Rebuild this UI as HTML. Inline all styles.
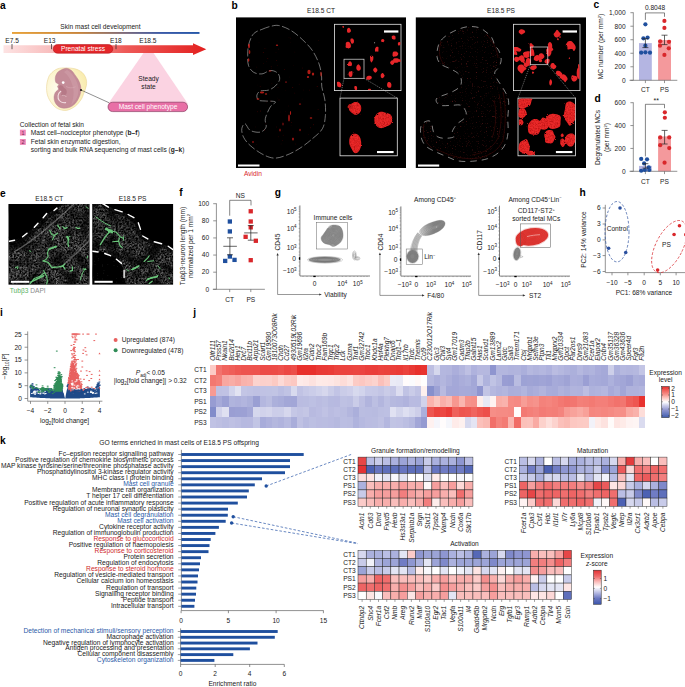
<!DOCTYPE html>
<html><head><meta charset="utf-8"><title>Figure</title>
<style>
html,body{margin:0;padding:0;background:#fff;}
body{width:685px;height:687px;overflow:hidden;font-family:"Liberation Sans", sans-serif;}
svg{display:block;font-family:"Liberation Sans", sans-serif;}
svg text{font-family:"Liberation Sans", sans-serif;}
</style></head><body>
<svg width="685" height="687" viewBox="0 0 685 687">
<rect width="685" height="687" fill="#fff"/>
<g id="panel_a">
<defs>
<linearGradient id="gTop" x1="0" x2="1"><stop offset="0" stop-color="#e8a23a"/><stop offset="0.35" stop-color="#c9853a"/><stop offset="0.6" stop-color="#7d6a7a"/><stop offset="0.8" stop-color="#3a5aa8"/><stop offset="1" stop-color="#2457a8"/></linearGradient>
<linearGradient id="gArr" x1="0" x2="1"><stop offset="0" stop-color="#fde3e3"/><stop offset="0.3" stop-color="#f7b3b3"/><stop offset="0.6" stop-color="#ee5a58"/><stop offset="1" stop-color="#e3201f"/></linearGradient>
</defs>
<text x="0" y="8.5" font-size="10.2" font-weight="bold" fill="#000">a</text>
<text x="100.5" y="28.6" font-size="6.6" text-anchor="middle" fill="#1a1a1a">Skin mast cell development</text>
<rect x="12.00" y="32.00" width="187.50" height="1.90" fill="url(#gTop)"/>
<path d="M3.5,45.2 L193,45.2 L193,43.3 L206.3,49.2 L193,55 L193,53 L3.5,53 Z" fill="url(#gArr)"/>
<line x1="12" y1="44" x2="12" y2="49.2" stroke="#222" stroke-width="0.7"/>
<line x1="51.5" y1="44" x2="51.5" y2="49.2" stroke="#222" stroke-width="0.7"/>
<line x1="116" y1="44" x2="116" y2="49.2" stroke="#222" stroke-width="0.7"/>
<text x="5.3" y="43" font-size="6.6" fill="#1a1a1a">E7.5</text>
<text x="43.8" y="43" font-size="6.6" fill="#1a1a1a">E13</text>
<text x="110" y="43" font-size="6.6" fill="#1a1a1a">E18</text>
<text x="139.3" y="43" font-size="6.6" fill="#1a1a1a">E18.5</text>
<rect x="53.2" y="44.6" width="59.6" height="8.6" rx="4.3" fill="#e3262a" stroke="#b3141a" stroke-width="0.6"/>
<text x="83" y="51" font-size="6.6" text-anchor="middle" fill="#fff">Prenatal stress</text>
<path d="M143.5,53 L153.5,53 L188,104 L108,104 Z" fill="#fbd3e2"/>
<text x="148.5" y="80.8" font-size="6.6" text-anchor="middle" fill="#1a1a1a">Steady</text>
<text x="148.5" y="89" font-size="6.6" text-anchor="middle" fill="#1a1a1a">state</text>
<rect x="108" y="102.2" width="79.6" height="9.4" rx="4.7" fill="#e86fa6" stroke="#7a2a52" stroke-width="0.6"/>
<text x="148" y="109.2" font-size="6.6" text-anchor="middle" fill="#fff">Mast cell phenotype</text>
<defs><radialGradient id="gYolk" cx="0.3" cy="0.5" r="0.7"><stop offset="0" stop-color="#fffdf0"/><stop offset="0.6" stop-color="#fcf4cc"/><stop offset="1" stop-color="#f9ecb0"/></radialGradient></defs>
<path d="M50.5,74.0C52.1,72.2 54.9,69.8 57.5,68.8C60.1,67.8 63.4,67.9 66.3,67.9C69.2,67.9 72.4,68.1 75.0,68.8C77.6,69.5 80.2,70.7 82.0,72.3C83.8,73.9 85.3,76.2 86.0,78.4C86.7,80.6 86.8,82.9 86.4,85.4C86.0,87.9 84.7,91.0 83.8,93.3C82.9,95.6 82.7,97.2 81.2,99.4C79.7,101.6 77.5,104.6 75.0,106.4C72.5,108.2 69.2,110.0 66.3,110.4C63.4,110.8 60.0,109.8 57.5,108.6C55.0,107.3 53.1,105.2 51.4,102.9C49.7,100.6 48.2,97.8 47.4,95.0C46.6,92.2 46.5,88.9 46.6,86.3C46.7,83.7 47.2,81.3 47.9,79.3C48.5,77.2 48.9,75.8 50.5,74.0Z" fill="url(#gYolk)" stroke="#e6cf8a" stroke-width="0.5"/>
<path d="M60.1,70.5C61.6,69.7 64.4,68.3 66.3,68.3C68.2,68.3 70.0,69.4 71.5,70.5C73.0,71.6 73.8,73.3 75.0,74.9C76.2,76.5 77.5,78.2 78.5,80.1C79.5,82.0 80.3,84.2 80.7,86.3C81.1,88.3 81.1,90.4 80.7,92.4C80.3,94.4 79.5,96.6 78.5,98.5C77.5,100.4 76.5,102.3 75.0,103.8C73.5,105.3 71.7,106.6 69.8,107.3C67.9,108.0 65.5,108.3 63.6,108.2C61.7,108.1 59.9,107.4 58.4,106.4C56.9,105.4 55.6,103.6 54.9,102.0C54.2,100.4 53.9,98.4 54.0,96.8C54.1,95.2 54.6,93.7 55.3,92.4C56.0,91.2 58.0,90.3 58.4,89.3C58.8,88.3 57.4,87.1 57.5,86.3C57.6,85.5 59.1,85.2 58.8,84.5C58.5,83.8 56.4,83.5 55.8,82.3C55.2,81.1 55.1,79.0 55.3,77.5C55.5,76.0 56.3,74.3 57.1,73.1C57.9,71.9 58.6,71.3 60.1,70.5Z" fill="#c48c98" stroke="#b57a88" stroke-width="0.4"/>
<path d="M67,70 C73,73 77,80 78.5,88 C79,95 76,101 71,105 C74,98 74.5,91 72,84 C70.5,79 68,75 64,72Z" fill="#cd9aa5" opacity="0.8"/>
<path d="M59.5,85.5 C61.5,84.5 63.5,86 64,88 C66,88.5 67.5,91 66.5,93.5 C65.5,96 62.5,96.5 61,95 C62,93 61.5,91 59.5,90 C58.5,88.5 58.5,86.5 59.5,85.5Z" fill="#b47584" opacity="0.85"/>
<path d="M66,86.5 C69,88.3 72.5,88.2 75.5,86.8" fill="none" stroke="#d9adb6" stroke-width="0.5"/>
<circle cx="63.20" cy="82.60" r="1.35" fill="#fff"/>
<path d="M60.8,91.3 C57.6,93.5 57.3,98 59.3,100.5 C61,102.6 63.5,103 65.6,102.6" fill="none" stroke="#f3dde1" stroke-width="1.1" stroke-linecap="round"/>
<path d="M61.8,95.5 C63.5,95 65.5,95.5 66.5,97" fill="none" stroke="#e9c9cf" stroke-width="0.6"/>
<line x1="81" y1="90" x2="109.2" y2="102.8" stroke="#222" stroke-width="0.5"/>
<circle cx="81.00" cy="90.00" r="1" fill="#111"/>
<text x="19.8" y="127.1" font-size="6.6" fill="#1a1a1a">Collection of fetal skin</text>
<rect x="19.90" y="129.70" width="5.90" height="5.90" fill="#ee86b7"/>
<text x="22.9" y="134.6" font-size="5.4" text-anchor="middle" fill="#7a2a52">1</text>
<rect x="19.90" y="139.00" width="5.90" height="5.90" fill="#ee86b7"/>
<text x="22.9" y="143.9" font-size="5.4" text-anchor="middle" fill="#7a2a52">2</text>
<text x="30.8" y="135" font-size="6.6" fill="#1a1a1a">Mast cell–nociceptor phenotype (<tspan font-weight="bold">b–f</tspan>)</text>
<text x="30.8" y="143.9" font-size="6.6" fill="#1a1a1a">Fetal skin enzymatic digestion,</text>
<text x="30.8" y="152.2" font-size="6.6" fill="#1a1a1a">sorting and bulk RNA sequencing of mast cells (<tspan font-weight="bold">g–k</tspan>)</text>
</g>
<g id="panel_b">
<defs>
<filter id="rough" x="-20%" y="-20%" width="140%" height="140%"><feTurbulence type="fractalNoise" baseFrequency="0.9" numOctaves="2" seed="3" result="n"/><feDisplacementMap in="SourceGraphic" in2="n" scale="1.8" result="d"/><feGaussianBlur in="d" stdDeviation="0.35"/></filter>
<filter id="grain" x="-20%" y="-20%" width="140%" height="140%"><feTurbulence type="fractalNoise" baseFrequency="0.9" numOctaves="2" seed="3" result="n"/><feDisplacementMap in="SourceGraphic" in2="n" scale="2.2" result="d"/><feGaussianBlur in="d" stdDeviation="0.5" result="b"/><feTurbulence type="fractalNoise" baseFrequency="0.7" numOctaves="2" seed="8" result="n2"/><feColorMatrix in="n2" type="matrix" values="0 0 0 0 0.35  0 0 0 0 0  0 0 0 0 0  0 1.6 0 0 -0.62" result="dk"/><feComposite in="dk" in2="b" operator="in" result="dk2"/><feMerge><feMergeNode in="b"/><feMergeNode in="dk2"/></feMerge></filter>
<filter id="blur03"><feGaussianBlur stdDeviation="0.35"/></filter>
<filter id="rednoise" x="0" y="0" width="100%" height="100%"><feTurbulence type="fractalNoise" baseFrequency="0.8" numOctaves="2" seed="11"/><feColorMatrix type="matrix" values="0 0 0 0 0.7  0 0 0 0 0.04  0 0 0 0 0.04  3 0 0 0 -1.9"/><feComposite in2="SourceGraphic" operator="in"/></filter>
</defs>
<text x="231.5" y="8.5" font-size="10.2" font-weight="bold" fill="#000">b</text>
<text x="321" y="13.4" font-size="6.6" text-anchor="middle" fill="#1a1a1a">E18.5 CT</text>
<text x="501" y="13.4" font-size="6.6" text-anchor="middle" fill="#1a1a1a">E18.5 PS</text>
<rect x="236.00" y="17.40" width="170.00" height="150.60" fill="#000"/>
<rect x="415.80" y="17.40" width="170.20" height="150.60" fill="#000"/>
<path d="M261.9,29.4C264.2,28.5 267.2,27.1 270.0,26.5C272.8,25.9 275.3,24.9 278.7,25.5C282.1,26.1 286.6,27.9 290.5,30.2C294.4,32.5 298.6,36.0 302.2,39.4C305.8,42.8 309.5,46.3 312.3,50.4C315.1,54.5 317.5,59.6 319.0,63.8C320.5,68.0 321.0,71.7 321.5,75.5C322.0,79.3 321.2,82.7 321.8,86.8C322.4,90.9 324.3,95.5 324.9,100.2C325.5,105.0 325.8,110.5 325.4,115.3C325.0,120.0 324.6,124.8 322.4,128.7C320.2,132.6 316.2,135.4 312.3,138.8C308.4,142.2 303.4,146.1 298.9,148.9C294.4,151.7 289.6,154.1 285.4,155.6C281.2,157.1 277.6,158.4 273.7,158.1C269.8,157.8 265.8,156.0 261.9,153.9C258.0,151.8 253.3,148.3 250.2,145.5C247.1,142.7 244.9,139.9 243.5,137.1C242.1,134.3 241.5,130.9 241.8,128.7C242.1,126.5 243.7,123.4 245.1,123.7C246.5,124.0 247.7,129.0 250.2,130.4C252.7,131.8 257.6,132.7 260.3,132.1C263.0,131.5 265.3,129.3 266.1,127.1C266.9,124.9 264.6,122.1 265.3,118.7C266.0,115.3 268.6,109.7 270.3,106.9C272.0,104.1 276.2,102.9 275.4,101.9C274.6,100.9 268.1,101.3 265.3,101.0C262.5,100.7 260.0,101.2 258.6,100.2C257.2,99.2 256.6,96.7 256.9,95.2C257.2,93.7 258.4,91.8 260.3,91.0C262.2,90.2 266.1,90.9 268.6,90.1C271.1,89.2 273.6,87.7 275.4,85.9C277.2,84.1 279.2,81.7 279.6,79.5C280.0,77.3 279.1,74.5 277.5,73.0C275.9,71.5 272.9,70.3 270.3,70.5C267.7,70.7 264.7,73.6 261.9,73.9C259.1,74.2 255.7,73.6 253.5,72.2C251.3,70.8 249.5,68.3 248.5,65.5C247.5,62.7 247.7,58.8 247.7,55.4C247.7,52.0 247.8,48.5 248.5,45.3C249.2,42.1 250.7,38.3 251.9,36.1C253.2,33.9 254.3,33.0 256.0,31.9C257.7,30.8 259.6,30.3 261.9,29.4Z" fill="none" stroke="#c4c4c4" stroke-width="0.6" stroke-dasharray="8 2.5" opacity="0.95"/>
<g filter="url(#blur03)"><ellipse cx="249" cy="46" rx="1" ry="2.2" fill="#d8201c" opacity="0.8"/><ellipse cx="249.5" cy="52" rx="0.8" ry="2" fill="#d8201c" opacity="0.8"/><ellipse cx="248.6" cy="60" rx="0.8" ry="1.8" fill="#d8201c" opacity="0.8"/><ellipse cx="277" cy="45.3" rx="1.2" ry="0.8" fill="#d8201c" opacity="0.8"/><ellipse cx="309" cy="72" rx="1.6" ry="2.2" fill="#d8201c" opacity="0.8"/><ellipse cx="313" cy="74" rx="1.2" ry="1.6" fill="#d8201c" opacity="0.8"/><ellipse cx="308" cy="77" rx="1.2" ry="1" fill="#d8201c" opacity="0.8"/><ellipse cx="321" cy="74" rx="0.7" ry="2.5" fill="#d8201c" opacity="0.8"/><ellipse cx="262" cy="92.5" rx="2.2" ry="0.9" fill="#d8201c" opacity="0.8"/><ellipse cx="266" cy="94" rx="1.2" ry="0.8" fill="#d8201c" opacity="0.8"/><ellipse cx="258" cy="99" rx="1.5" ry="0.8" fill="#d8201c" opacity="0.8"/><ellipse cx="289" cy="118" rx="0.8" ry="3.5" fill="#d8201c" opacity="0.8"/><ellipse cx="290.5" cy="113" rx="0.6" ry="2" fill="#d8201c" opacity="0.8"/><ellipse cx="293" cy="139" rx="0.9" ry="1.6" fill="#d8201c" opacity="0.8"/><ellipse cx="280" cy="130" rx="0.6" ry="1.5" fill="#d8201c" opacity="0.8"/><ellipse cx="300" cy="104" rx="1.2" ry="0.6" fill="#d8201c" opacity="0.8"/><ellipse cx="311" cy="118" rx="1.3" ry="0.7" fill="#d8201c" opacity="0.8"/><ellipse cx="253" cy="142" rx="1" ry="0.8" fill="#d8201c" opacity="0.8"/><ellipse cx="286" cy="82" rx="1" ry="0.6" fill="#d8201c" opacity="0.8"/><ellipse cx="270" cy="71" rx="1.5" ry="0.6" fill="#d8201c" opacity="0.8"/><ellipse cx="300" cy="130" rx="0.6" ry="1.2" fill="#d8201c" opacity="0.8"/><ellipse cx="283" cy="124" rx="0.5" ry="1.5" fill="#d8201c" opacity="0.8"/><circle cx="276.0" cy="52.3" r="0.41" fill="#a01512" opacity="0.28"/><circle cx="289.8" cy="77.1" r="0.26" fill="#a01512" opacity="0.43"/><circle cx="257.4" cy="84.9" r="0.27" fill="#a01512" opacity="0.28"/><circle cx="282.6" cy="130.1" r="0.28" fill="#a01512" opacity="0.33"/><circle cx="295.8" cy="144.0" r="0.39" fill="#a01512" opacity="0.39"/><circle cx="318.5" cy="40.4" r="0.46" fill="#a01512" opacity="0.35"/><circle cx="264.4" cy="48.5" r="0.33" fill="#a01512" opacity="0.54"/><circle cx="266.7" cy="101.9" r="0.41" fill="#a01512" opacity="0.38"/><circle cx="290.6" cy="42.2" r="0.26" fill="#a01512" opacity="0.32"/><circle cx="299.2" cy="84.2" r="0.33" fill="#a01512" opacity="0.45"/><circle cx="284.5" cy="69.5" r="0.45" fill="#a01512" opacity="0.49"/><circle cx="270.9" cy="101.1" r="0.38" fill="#a01512" opacity="0.56"/><circle cx="302.4" cy="68.1" r="0.50" fill="#a01512" opacity="0.29"/><circle cx="282.2" cy="122.1" r="0.29" fill="#a01512" opacity="0.42"/><circle cx="257.5" cy="111.8" r="0.44" fill="#a01512" opacity="0.45"/><circle cx="311.9" cy="71.1" r="0.42" fill="#a01512" opacity="0.46"/><circle cx="292.7" cy="87.5" r="0.46" fill="#a01512" opacity="0.58"/><circle cx="285.8" cy="111.4" r="0.27" fill="#a01512" opacity="0.50"/><circle cx="297.1" cy="149.2" r="0.46" fill="#a01512" opacity="0.35"/><circle cx="280.1" cy="111.9" r="0.26" fill="#a01512" opacity="0.41"/><circle cx="265.9" cy="48.5" r="0.26" fill="#a01512" opacity="0.52"/><circle cx="263.4" cy="63.5" r="0.35" fill="#a01512" opacity="0.55"/><circle cx="260.2" cy="86.7" r="0.39" fill="#a01512" opacity="0.56"/><circle cx="308.3" cy="134.4" r="0.32" fill="#a01512" opacity="0.40"/><circle cx="278.3" cy="136.7" r="0.49" fill="#a01512" opacity="0.30"/><circle cx="266.5" cy="61.7" r="0.31" fill="#a01512" opacity="0.42"/><circle cx="293.3" cy="65.2" r="0.25" fill="#a01512" opacity="0.40"/><circle cx="279.0" cy="100.1" r="0.49" fill="#a01512" opacity="0.49"/><circle cx="288.5" cy="106.0" r="0.42" fill="#a01512" opacity="0.27"/><circle cx="313.5" cy="124.7" r="0.47" fill="#a01512" opacity="0.53"/><circle cx="280.5" cy="80.9" r="0.28" fill="#a01512" opacity="0.47"/><circle cx="259.0" cy="42.7" r="0.30" fill="#a01512" opacity="0.31"/><circle cx="277.1" cy="41.0" r="0.25" fill="#a01512" opacity="0.30"/><circle cx="261.6" cy="76.8" r="0.26" fill="#a01512" opacity="0.56"/><circle cx="294.9" cy="52.1" r="0.31" fill="#a01512" opacity="0.37"/><circle cx="278.7" cy="49.1" r="0.46" fill="#a01512" opacity="0.60"/><circle cx="285.3" cy="90.6" r="0.27" fill="#a01512" opacity="0.29"/><circle cx="277.3" cy="65.4" r="0.46" fill="#a01512" opacity="0.31"/><circle cx="256.5" cy="144.4" r="0.38" fill="#a01512" opacity="0.30"/><circle cx="290.3" cy="38.1" r="0.38" fill="#a01512" opacity="0.59"/><circle cx="311.1" cy="115.1" r="0.32" fill="#a01512" opacity="0.38"/><circle cx="265.9" cy="123.8" r="0.38" fill="#a01512" opacity="0.52"/><circle cx="276.4" cy="60.6" r="0.45" fill="#a01512" opacity="0.59"/><circle cx="310.4" cy="127.7" r="0.45" fill="#a01512" opacity="0.51"/><circle cx="269.7" cy="94.5" r="0.34" fill="#a01512" opacity="0.26"/><circle cx="256.8" cy="67.1" r="0.31" fill="#a01512" opacity="0.49"/><circle cx="317.2" cy="86.4" r="0.48" fill="#a01512" opacity="0.60"/><circle cx="317.1" cy="76.9" r="0.31" fill="#a01512" opacity="0.33"/><circle cx="267.8" cy="58.5" r="0.41" fill="#a01512" opacity="0.57"/><circle cx="309.6" cy="90.1" r="0.41" fill="#a01512" opacity="0.53"/><circle cx="260.5" cy="111.0" r="0.48" fill="#a01512" opacity="0.52"/><circle cx="303.8" cy="90.0" r="0.29" fill="#a01512" opacity="0.53"/><circle cx="276.6" cy="127.1" r="0.49" fill="#a01512" opacity="0.39"/><circle cx="281.1" cy="143.9" r="0.43" fill="#a01512" opacity="0.31"/><circle cx="263.3" cy="52.4" r="0.48" fill="#a01512" opacity="0.53"/><circle cx="264.5" cy="130.0" r="0.50" fill="#a01512" opacity="0.48"/><circle cx="277.8" cy="98.1" r="0.28" fill="#a01512" opacity="0.25"/><circle cx="318.1" cy="109.7" r="0.38" fill="#a01512" opacity="0.58"/><circle cx="283.2" cy="135.3" r="0.46" fill="#a01512" opacity="0.32"/><circle cx="271.4" cy="68.7" r="0.31" fill="#a01512" opacity="0.46"/><circle cx="271.9" cy="83.2" r="0.28" fill="#a01512" opacity="0.57"/><circle cx="278.0" cy="87.7" r="0.40" fill="#a01512" opacity="0.57"/><circle cx="282.3" cy="140.5" r="0.38" fill="#a01512" opacity="0.44"/><circle cx="289.0" cy="37.2" r="0.36" fill="#a01512" opacity="0.31"/><circle cx="255.3" cy="126.9" r="0.29" fill="#a01512" opacity="0.42"/><circle cx="302.1" cy="99.0" r="0.33" fill="#a01512" opacity="0.43"/><circle cx="291.1" cy="125.2" r="0.28" fill="#a01512" opacity="0.45"/><circle cx="271.2" cy="66.8" r="0.44" fill="#a01512" opacity="0.43"/><circle cx="291.5" cy="122.4" r="0.48" fill="#a01512" opacity="0.41"/><circle cx="294.8" cy="93.1" r="0.38" fill="#a01512" opacity="0.49"/></g>
<rect x="238.00" y="164.50" width="21.50" height="2.00" fill="#fff"/>
<text x="244" y="176.3" font-size="6.6" fill="#d8262a">Avidin</text>
<rect x="334.5" y="24.3" width="66.5" height="66.3" fill="#000" stroke="#e6e6e6" stroke-width="0.8"/>
<clipPath id="cpCT1"><rect x="334.9" y="24.7" width="65.7" height="65.5"/></clipPath>
<g clip-path="url(#cpCT1)"><g filter="url(#rough)"><path d="M350.9,30.4C351.0,31.0 350.8,31.7 350.4,32.1C350.1,32.4 349.6,32.6 349.1,32.7C348.6,32.7 347.8,32.7 347.5,32.4C347.1,32.0 347.0,31.1 347.0,30.4C347.0,29.8 347.2,29.0 347.5,28.6C347.9,28.1 348.6,27.6 349.1,27.7C349.5,27.8 350.0,28.5 350.3,29.0C350.6,29.5 350.9,29.9 350.9,30.4Z" fill="#e8282a"/><path d="M354.0,40.7C354.0,41.3 353.9,42.4 353.6,42.9C353.3,43.4 352.5,43.8 352.0,43.7C351.6,43.6 351.1,42.7 350.9,42.2C350.6,41.7 350.5,41.2 350.4,40.7C350.4,40.1 350.4,39.2 350.7,38.8C351.0,38.5 351.6,38.5 352.0,38.5C352.4,38.5 352.9,38.6 353.2,39.0C353.5,39.4 353.9,40.0 354.0,40.7Z" fill="#e8282a"/><path d="M350.8,45.0C350.9,45.7 351.1,46.8 350.7,47.3C350.3,47.9 349.2,48.4 348.4,48.5C347.6,48.5 346.3,48.1 345.8,47.6C345.4,47.0 345.8,45.8 345.8,45.0C345.8,44.2 345.6,43.2 346.0,42.7C346.4,42.1 347.7,41.7 348.4,41.8C349.1,41.9 349.8,42.7 350.2,43.2C350.6,43.8 350.7,44.4 350.8,45.0Z" fill="#e8282a"/><path d="M352.0,64.0C352.0,64.6 351.8,65.6 351.4,66.0C351.1,66.3 350.4,66.0 349.8,66.0C349.3,66.0 348.5,66.3 348.2,65.9C347.9,65.6 348.0,64.6 348.0,64.0C348.1,63.4 348.2,62.9 348.5,62.4C348.8,62.0 349.3,61.3 349.8,61.2C350.3,61.2 351.0,61.7 351.4,62.2C351.7,62.6 352.0,63.4 352.0,64.0Z" fill="#e8282a"/><path d="M360.8,67.7C360.9,68.3 360.8,69.2 360.4,69.7C360.0,70.3 359.2,70.7 358.6,70.7C358.0,70.7 357.2,70.2 356.8,69.7C356.4,69.1 356.3,68.3 356.3,67.7C356.3,67.0 356.5,66.2 356.8,65.7C357.2,65.1 358.0,64.3 358.6,64.3C359.1,64.4 359.7,65.4 360.1,66.0C360.4,66.5 360.8,67.0 360.8,67.7Z" fill="#e8282a"/><path d="M352.5,74.2C352.4,75.1 352.2,76.1 351.9,76.6C351.5,77.0 351.0,76.9 350.5,76.9C350.1,76.9 349.6,76.9 349.3,76.5C349.0,76.0 348.6,75.0 348.5,74.2C348.5,73.5 348.9,72.3 349.2,71.8C349.5,71.3 350.1,71.6 350.5,71.5C351.0,71.4 351.9,70.8 352.2,71.3C352.5,71.8 352.5,73.4 352.5,74.2Z" fill="#e8282a"/><path d="M341.4,84.5C341.5,85.2 341.2,86.6 340.8,87.0C340.4,87.5 339.4,87.1 338.9,87.0C338.3,86.8 337.7,86.8 337.4,86.4C337.1,86.0 337.1,85.2 337.1,84.5C337.0,83.7 336.8,82.5 337.1,82.0C337.4,81.6 338.3,81.6 338.9,81.7C339.4,81.8 339.8,82.2 340.2,82.7C340.6,83.1 341.3,83.7 341.4,84.5Z" fill="#e8282a"/><path d="M357.1,88.1C357.1,88.6 357.2,89.3 356.9,89.7C356.7,90.0 356.0,90.3 355.7,90.3C355.3,90.2 354.9,89.7 354.7,89.3C354.5,88.9 354.4,88.6 354.4,88.1C354.3,87.6 354.2,86.8 354.4,86.5C354.6,86.2 355.3,86.1 355.7,86.1C356.1,86.2 356.6,86.3 356.8,86.6C357.1,87.0 357.1,87.6 357.1,88.1Z" fill="#e8282a"/><path d="M373.3,58.9C373.2,59.6 373.1,60.1 372.8,60.6C372.5,61.2 372.1,62.1 371.7,62.2C371.3,62.3 370.7,61.5 370.4,61.0C370.2,60.4 370.2,59.7 370.2,58.9C370.1,58.1 369.9,56.9 370.1,56.3C370.4,55.8 371.2,55.7 371.7,55.7C372.2,55.7 373.0,55.9 373.2,56.5C373.5,57.0 373.3,58.2 373.3,58.9Z" fill="#e8282a"/><path d="M378.4,49.4C378.4,50.2 378.6,51.2 378.4,51.6C378.1,51.9 377.3,51.6 376.8,51.6C376.3,51.6 375.6,52.0 375.3,51.6C375.0,51.2 374.9,50.1 375.0,49.4C375.0,48.8 375.3,48.1 375.6,47.7C375.9,47.2 376.4,46.8 376.8,46.7C377.3,46.6 378.2,46.7 378.4,47.2C378.7,47.6 378.4,48.7 378.4,49.4Z" fill="#e8282a"/><path d="M384.4,40.7C384.4,41.0 384.1,41.5 383.8,41.8C383.5,42.1 383.0,42.6 382.7,42.6C382.3,42.6 381.7,42.2 381.5,41.8C381.2,41.5 381.1,41.0 381.1,40.7C381.1,40.3 381.3,39.8 381.5,39.5C381.8,39.3 382.3,39.1 382.7,39.1C383.0,39.1 383.5,39.2 383.8,39.5C384.1,39.7 384.4,40.3 384.4,40.7Z" fill="#e8282a"/><path d="M377.5,69.9C377.5,70.4 377.2,71.1 376.8,71.6C376.5,72.1 375.9,72.8 375.4,72.8C374.9,72.8 374.3,72.1 373.9,71.6C373.5,71.1 373.1,70.4 373.1,69.9C373.1,69.3 373.6,68.7 374.0,68.2C374.4,67.8 374.9,67.4 375.4,67.4C375.8,67.4 376.3,68.0 376.6,68.4C377.0,68.8 377.4,69.3 377.5,69.9Z" fill="#e8282a"/><path d="M384.7,75.7C384.7,76.1 384.3,76.5 383.9,77.0C383.6,77.4 383.1,78.1 382.7,78.2C382.2,78.3 381.3,77.8 381.0,77.3C380.7,76.9 380.7,76.2 380.7,75.7C380.7,75.2 380.7,74.6 381.1,74.1C381.4,73.6 382.2,72.9 382.7,73.0C383.2,73.0 383.7,73.9 384.0,74.4C384.3,74.8 384.7,75.3 384.7,75.7Z" fill="#e8282a"/><path d="M371.8,77.9C371.7,78.4 371.1,78.9 370.6,79.2C370.1,79.5 369.5,79.7 368.8,79.8C368.1,79.8 367.1,79.7 366.6,79.4C366.2,79.1 366.2,78.4 366.3,77.9C366.3,77.4 366.5,76.9 366.9,76.5C367.3,76.2 368.1,75.9 368.8,75.8C369.5,75.8 370.6,75.9 371.1,76.3C371.6,76.6 371.9,77.4 371.8,77.9Z" fill="#e8282a"/><path d="M391.4,84.5C391.4,85.2 391.4,86.4 391.1,86.9C390.7,87.5 389.8,87.8 389.2,87.8C388.6,87.7 387.9,87.3 387.5,86.7C387.2,86.2 387.0,85.2 387.1,84.5C387.1,83.7 387.4,82.9 387.7,82.4C388.1,82.0 388.8,82.0 389.2,82.0C389.7,82.0 390.2,82.2 390.6,82.7C390.9,83.1 391.3,83.7 391.4,84.5Z" fill="#e8282a"/><path d="M395.5,37.7C395.5,38.2 395.7,38.9 395.4,39.2C395.1,39.5 394.1,39.5 393.6,39.4C393.1,39.4 392.6,39.2 392.2,38.9C391.9,38.6 391.8,38.2 391.8,37.7C391.7,37.3 391.5,36.6 391.8,36.2C392.1,35.8 393.0,35.5 393.6,35.5C394.2,35.5 395.0,35.9 395.3,36.3C395.7,36.7 395.5,37.2 395.5,37.7Z" fill="#e8282a"/><path d="M400.5,43.9C400.5,44.3 400.3,44.8 400.1,45.1C399.9,45.3 399.5,45.6 399.2,45.6C398.8,45.6 398.3,45.5 398.1,45.2C397.9,44.9 397.9,44.3 397.9,43.9C397.9,43.4 397.9,42.8 398.1,42.6C398.3,42.3 398.8,42.2 399.2,42.2C399.6,42.1 400.2,42.0 400.5,42.3C400.7,42.5 400.6,43.4 400.5,43.9Z" fill="#e8282a"/><path d="M398.3,53.8C398.3,54.5 397.5,55.5 397.0,56.0C396.5,56.4 395.8,56.4 395.1,56.5C394.4,56.6 393.2,56.8 392.8,56.4C392.4,55.9 392.6,54.6 392.6,53.8C392.7,53.0 392.9,52.2 393.3,51.8C393.7,51.4 394.5,51.4 395.1,51.4C395.7,51.4 396.3,51.4 396.9,51.8C397.4,52.2 398.3,53.1 398.3,53.8Z" fill="#e8282a"/><path d="M399.2,60.4C399.2,61.0 398.8,61.9 398.2,62.2C397.7,62.6 396.6,62.7 395.8,62.7C395.0,62.7 393.8,62.6 393.4,62.2C392.9,61.9 393.1,61.0 393.1,60.4C393.2,59.8 393.2,59.0 393.6,58.7C394.1,58.3 395.1,58.2 395.8,58.2C396.5,58.2 397.5,58.2 398.1,58.6C398.7,58.9 399.2,59.8 399.2,60.4Z" fill="#e8282a"/><path d="M394.3,62.8C394.2,63.3 394.0,63.8 393.7,64.1C393.4,64.5 392.9,64.9 392.4,64.9C392.0,65.0 391.4,64.6 391.0,64.3C390.6,63.9 390.1,63.4 390.1,62.8C390.0,62.3 390.4,61.6 390.8,61.2C391.2,60.8 391.9,60.3 392.4,60.3C393.0,60.3 393.9,60.7 394.2,61.1C394.5,61.5 394.3,62.3 394.3,62.8Z" fill="#e8282a"/><path d="M401.0,60.7C401.0,61.1 400.9,61.7 400.7,61.9C400.5,62.2 400.0,62.1 399.7,62.1C399.5,62.1 399.2,61.9 399.0,61.6C398.8,61.4 398.4,61.0 398.4,60.7C398.4,60.3 398.8,60.0 399.1,59.7C399.3,59.5 399.5,59.0 399.7,59.0C400.0,59.0 400.4,59.2 400.6,59.5C400.8,59.8 401.0,60.3 401.0,60.7Z" fill="#e8282a"/><path d="M343.9,26.8C343.9,27.0 344.0,27.4 343.9,27.6C343.8,27.7 343.4,27.9 343.2,27.9C343.1,27.9 342.8,27.7 342.7,27.5C342.5,27.3 342.4,27.0 342.4,26.8C342.4,26.5 342.5,26.2 342.6,26.0C342.8,25.9 343.1,26.0 343.2,26.0C343.4,26.0 343.7,26.0 343.8,26.1C343.9,26.2 343.8,26.5 343.9,26.8Z" fill="#e8282a"/><path d="M371.0,89.6C371.1,89.8 371.0,90.0 370.8,90.2C370.5,90.3 369.9,90.4 369.5,90.4C369.1,90.4 368.6,90.3 368.3,90.2C368.0,90.0 368.0,89.8 368.0,89.6C367.9,89.4 368.0,89.1 368.3,88.9C368.5,88.8 369.1,88.7 369.5,88.7C369.9,88.7 370.4,88.8 370.7,89.0C370.9,89.1 371.0,89.4 371.0,89.6Z" fill="#e8282a"/></g></g>
<circle cx="374.64" cy="42.85" r="0.5" fill="#ccc"/>
<rect x="384.00" y="30.40" width="14.40" height="2.20" fill="#fff"/>
<rect x="344" y="59.2" width="20" height="19.1" fill="none" stroke="#e2e2e2" stroke-width="0.7"/>
<path d="M344,78.3 L340,98.1 M364,78.3 L397.3,98.1" stroke="#c8c8c8" stroke-width="0.5" stroke-dasharray="1.2 1" fill="none"/>
<rect x="340" y="98.1" width="57.3" height="57.7" fill="#000" stroke="#e6e6e6" stroke-width="0.8"/>
<g filter="url(#grain)"><path d="M360.8,105.8C361.3,107.0 361.4,108.6 361.1,109.8C360.9,111.0 360.2,112.3 359.3,113.2C358.4,114.0 356.9,114.8 355.6,114.7C354.4,114.7 353.1,113.7 352.0,112.9C350.9,112.0 349.3,110.8 349.0,109.5C348.7,108.3 349.5,106.4 350.2,105.2C351.0,104.0 352.3,102.8 353.6,102.4C354.8,101.9 356.8,102.0 358.0,102.5C359.2,103.1 360.3,104.6 360.8,105.8Z" fill="#ea2a2c"/><path d="M392.3,119.8C392.3,121.4 391.4,123.4 390.3,124.6C389.2,125.8 387.3,126.2 385.6,126.8C384.0,127.4 382.0,128.4 380.3,128.1C378.7,127.7 376.7,126.2 375.7,124.9C374.7,123.5 374.3,121.5 374.4,119.8C374.4,118.1 375.0,116.3 376.0,114.9C377.0,113.6 378.8,112.1 380.4,111.8C382.0,111.4 384.0,112.2 385.7,112.7C387.4,113.2 389.6,113.6 390.7,114.8C391.8,115.9 392.4,118.2 392.3,119.8Z" fill="#ea2a2c"/><path d="M361.2,142.6C361.3,144.5 361.0,146.5 360.5,148.0C360.0,149.5 359.2,151.0 358.2,151.9C357.2,152.7 355.8,153.6 354.7,153.1C353.6,152.6 352.5,150.6 351.7,149.0C350.8,147.5 349.8,145.8 349.4,143.8C349.1,141.9 349.2,139.1 349.8,137.4C350.3,135.8 351.7,134.7 352.9,134.1C354.0,133.5 355.3,133.5 356.5,134.0C357.6,134.4 359.0,135.6 359.8,137.0C360.5,138.5 361.1,140.8 361.2,142.6Z" fill="#ea2a2c"/><path d="M352.8,106.0C352.9,106.7 352.4,107.8 351.8,108.3C351.2,108.7 350.1,108.8 349.4,108.6C348.7,108.4 347.7,107.7 347.6,107.2C347.4,106.6 348.0,105.7 348.3,105.2C348.7,104.7 349.1,104.2 349.6,104.1C350.1,103.9 350.8,104.0 351.3,104.3C351.9,104.7 352.7,105.3 352.8,106.0Z" fill="#c02022"/></g>
<rect x="377.00" y="151.00" width="16.60" height="2.10" fill="#fff"/>
<path d="M466.9,26.8C462.8,27.4 457.7,29.4 453.8,31.2C449.9,33.0 446.2,35.4 443.6,37.7C441.1,40.0 439.6,41.8 438.5,45.0C437.4,48.2 436.6,53.5 437.0,56.7C437.4,59.9 438.6,62.0 440.7,64.0C442.8,66.0 446.6,66.9 449.4,68.4C452.2,69.9 455.4,71.1 457.4,72.8C459.3,74.5 460.6,76.4 461.1,78.6C461.6,80.8 461.6,83.8 460.4,85.9C459.2,88.0 456.4,89.5 453.8,91.0C451.2,92.5 447.7,93.6 445.0,94.7C442.3,95.8 438.9,96.5 437.5,97.6C436.1,98.7 435.8,100.2 436.3,101.5C436.8,102.8 438.3,104.8 440.7,105.4C443.1,106.1 447.5,105.4 450.9,105.4C454.3,105.4 458.6,104.2 461.1,105.4C463.7,106.6 465.7,110.5 466.2,112.7C466.7,114.9 465.6,116.6 464.0,118.6C462.4,120.5 458.6,122.2 456.7,124.4C454.8,126.6 452.8,129.6 452.3,131.7C451.8,133.8 455.0,135.7 453.8,136.8C452.6,137.9 447.7,138.3 445.0,138.3C442.3,138.3 439.6,137.9 437.7,136.8C435.8,135.7 434.4,133.8 433.4,131.7C432.4,129.6 432.6,126.2 431.9,124.4C431.2,122.6 430.5,121.0 429.0,120.8C427.5,120.6 424.5,121.7 423.1,123.0C421.7,124.3 420.7,126.1 420.5,128.8C420.3,131.5 420.8,136.1 421.7,139.0C422.6,141.9 423.9,144.2 426.1,146.3C428.3,148.4 431.4,149.7 434.8,151.4C438.2,153.1 442.6,154.9 446.5,156.5C450.4,158.1 453.8,160.1 458.2,160.9C462.6,161.7 467.9,161.6 472.8,161.2C477.7,160.8 483.0,160.2 487.4,158.7C491.8,157.2 496.1,154.8 499.1,152.2C502.1,149.6 504.1,146.8 505.6,143.4C507.1,140.0 507.7,135.8 508.1,131.7C508.5,127.6 507.7,123.8 507.8,118.6C507.9,113.4 509.2,105.5 508.5,100.5C507.8,95.5 505.2,92.2 503.4,88.8C501.6,85.4 499.1,82.7 497.6,80.0C496.2,77.3 494.5,75.0 494.7,72.8C494.9,70.6 497.9,69.1 499.0,66.9C500.1,64.7 501.2,62.3 501.2,59.6C501.2,56.9 500.1,53.3 499.0,50.9C497.9,48.5 495.9,47.2 494.7,45.0C493.5,42.8 493.3,39.9 491.8,37.7C490.3,35.5 488.1,33.6 485.9,31.9C483.7,30.2 481.8,28.4 478.6,27.5C475.4,26.6 471.0,26.2 466.9,26.8Z" fill="#fff" filter="url(#rednoise)" opacity="0.5"/>
<path d="M466.9,26.8C462.8,27.4 457.7,29.4 453.8,31.2C449.9,33.0 446.2,35.4 443.6,37.7C441.1,40.0 439.6,41.8 438.5,45.0C437.4,48.2 436.6,53.5 437.0,56.7C437.4,59.9 438.6,62.0 440.7,64.0C442.8,66.0 446.6,66.9 449.4,68.4C452.2,69.9 455.4,71.1 457.4,72.8C459.3,74.5 460.6,76.4 461.1,78.6C461.6,80.8 461.6,83.8 460.4,85.9C459.2,88.0 456.4,89.5 453.8,91.0C451.2,92.5 447.7,93.6 445.0,94.7C442.3,95.8 438.9,96.5 437.5,97.6C436.1,98.7 435.8,100.2 436.3,101.5C436.8,102.8 438.3,104.8 440.7,105.4C443.1,106.1 447.5,105.4 450.9,105.4C454.3,105.4 458.6,104.2 461.1,105.4C463.7,106.6 465.7,110.5 466.2,112.7C466.7,114.9 465.6,116.6 464.0,118.6C462.4,120.5 458.6,122.2 456.7,124.4C454.8,126.6 452.8,129.6 452.3,131.7C451.8,133.8 455.0,135.7 453.8,136.8C452.6,137.9 447.7,138.3 445.0,138.3C442.3,138.3 439.6,137.9 437.7,136.8C435.8,135.7 434.4,133.8 433.4,131.7C432.4,129.6 432.6,126.2 431.9,124.4C431.2,122.6 430.5,121.0 429.0,120.8C427.5,120.6 424.5,121.7 423.1,123.0C421.7,124.3 420.7,126.1 420.5,128.8C420.3,131.5 420.8,136.1 421.7,139.0C422.6,141.9 423.9,144.2 426.1,146.3C428.3,148.4 431.4,149.7 434.8,151.4C438.2,153.1 442.6,154.9 446.5,156.5C450.4,158.1 453.8,160.1 458.2,160.9C462.6,161.7 467.9,161.6 472.8,161.2C477.7,160.8 483.0,160.2 487.4,158.7C491.8,157.2 496.1,154.8 499.1,152.2C502.1,149.6 504.1,146.8 505.6,143.4C507.1,140.0 507.7,135.8 508.1,131.7C508.5,127.6 507.7,123.8 507.8,118.6C507.9,113.4 509.2,105.5 508.5,100.5C507.8,95.5 505.2,92.2 503.4,88.8C501.6,85.4 499.1,82.7 497.6,80.0C496.2,77.3 494.5,75.0 494.7,72.8C494.9,70.6 497.9,69.1 499.0,66.9C500.1,64.7 501.2,62.3 501.2,59.6C501.2,56.9 500.1,53.3 499.0,50.9C497.9,48.5 495.9,47.2 494.7,45.0C493.5,42.8 493.3,39.9 491.8,37.7C490.3,35.5 488.1,33.6 485.9,31.9C483.7,30.2 481.8,28.4 478.6,27.5C475.4,26.6 471.0,26.2 466.9,26.8Z" fill="none" stroke="#cfcfcf" stroke-width="0.65" stroke-dasharray="6.5 5" opacity="0.95"/>
<g fill="none" stroke="#8a1512" stroke-width="0.5" opacity="0.55" filter="url(#blur03)"><path d="M503,92 C506,105 506,125 503,140 C499,150 490,156 476,158.5 C462,160 448,155 436,149"/><path d="M499,94 C502,108 502,126 498,138 C493,148 484,153 472,155"/><path d="M494,100 C497,112 496,128 492,138"/><path d="M441,42 C438,50 439,60 445,65 M486,34 C492,40 497,48 498,58"/><path d="M424,124 C422,132 424,142 432,148"/></g>
<rect x="418.00" y="164.50" width="21.20" height="2.10" fill="#fff"/>
<rect x="513.5" y="24.3" width="66.5" height="66.3" fill="#000" stroke="#e6e6e6" stroke-width="0.8"/>
<clipPath id="cpPS1"><rect x="513.9" y="24.7" width="65.7" height="65.5"/></clipPath>
<g clip-path="url(#cpPS1)"><g filter="url(#rough)"><path d="M525.2,31.9C525.1,32.5 524.1,33.0 523.5,33.5C522.8,33.9 521.9,34.5 521.3,34.5C520.6,34.4 519.9,33.6 519.5,33.2C519.1,32.7 518.7,32.4 518.7,31.9C518.6,31.4 518.7,30.8 519.1,30.4C519.6,29.9 520.5,29.2 521.3,29.2C522.1,29.1 523.3,29.5 524.0,30.0C524.7,30.4 525.3,31.3 525.2,31.9Z" fill="#e8282a"/><path d="M560.9,34.1C560.9,34.8 559.8,35.7 559.2,36.3C558.6,36.8 557.8,37.6 557.0,37.6C556.3,37.6 555.2,37.1 554.6,36.5C554.1,35.9 553.6,34.8 553.6,34.1C553.7,33.4 554.5,32.9 555.1,32.2C555.7,31.4 556.4,29.9 557.0,29.8C557.7,29.8 558.5,31.3 559.1,32.0C559.7,32.8 560.8,33.4 560.9,34.1Z" fill="#e8282a"/><path d="M521.3,49.4C521.5,50.0 520.7,51.3 520.0,51.6C519.2,51.9 517.8,51.3 516.9,51.2C516.0,51.1 515.2,51.4 514.5,51.1C513.8,50.8 512.9,50.1 512.8,49.4C512.7,48.8 513.1,47.6 513.8,47.2C514.5,46.8 516.0,46.9 516.9,47.0C517.8,47.1 518.3,47.5 519.0,47.9C519.8,48.3 521.1,48.8 521.3,49.4Z" fill="#e8282a"/><path d="M517.1,53.1C517.2,53.5 517.5,54.5 517.2,54.8C516.9,55.1 516.0,54.8 515.4,54.7C514.9,54.7 514.2,54.8 514.0,54.5C513.7,54.3 513.8,53.5 513.9,53.1C513.9,52.6 513.8,52.1 514.0,51.6C514.3,51.2 515.0,50.5 515.4,50.6C515.9,50.6 516.3,51.5 516.6,52.0C516.8,52.4 517.0,52.6 517.1,53.1Z" fill="#e8282a"/><path d="M533.8,45.8C533.9,46.3 533.3,47.0 532.9,47.5C532.5,48.0 532.0,48.8 531.5,48.8C531.0,48.8 530.2,48.2 529.9,47.7C529.7,47.2 529.8,46.4 529.8,45.8C529.8,45.1 529.5,44.0 529.8,43.6C530.1,43.2 531.0,43.2 531.5,43.3C532.0,43.4 532.1,44.1 532.5,44.5C532.9,44.9 533.8,45.3 533.8,45.8Z" fill="#e8282a"/><path d="M529.3,54.5C529.2,55.4 529.7,56.4 529.2,57.0C528.7,57.5 527.3,57.9 526.4,57.9C525.5,57.9 524.4,57.3 523.9,56.7C523.4,56.1 523.2,55.3 523.2,54.5C523.2,53.8 523.3,52.8 523.8,52.3C524.4,51.8 525.4,51.5 526.4,51.4C527.4,51.3 529.3,51.1 529.7,51.6C530.2,52.1 529.3,53.6 529.3,54.5Z" fill="#e8282a"/><path d="M524.5,58.9C524.6,59.6 525.2,60.7 524.8,61.3C524.4,61.9 522.8,62.6 522.0,62.4C521.2,62.3 520.8,61.2 520.1,60.6C519.4,60.0 517.8,59.6 517.7,58.9C517.6,58.2 518.5,57.2 519.3,56.5C520.0,55.9 521.2,55.2 522.0,55.3C522.8,55.3 523.8,56.4 524.2,57.0C524.6,57.7 524.4,58.2 524.5,58.9Z" fill="#e8282a"/><path d="M519.7,58.9C519.7,59.4 519.3,60.0 518.9,60.6C518.4,61.1 517.6,62.0 516.9,62.1C516.2,62.1 515.1,61.3 514.7,60.7C514.2,60.2 514.1,59.5 514.2,58.9C514.2,58.3 514.4,57.6 514.9,57.2C515.3,56.9 516.3,56.7 516.9,56.7C517.5,56.8 518.0,57.2 518.5,57.6C518.9,58.0 519.6,58.4 519.7,58.9Z" fill="#e8282a"/><path d="M534.2,52.3C534.3,53.3 534.6,55.1 534.3,55.7C534.0,56.3 532.9,55.8 532.2,55.8C531.5,55.9 530.4,56.4 530.0,55.8C529.7,55.2 530.0,53.3 530.1,52.3C530.2,51.3 530.3,50.6 530.7,49.9C531.1,49.2 531.7,48.3 532.2,48.3C532.7,48.4 533.4,49.3 533.7,50.0C534.0,50.7 534.0,51.4 534.2,52.3Z" fill="#e8282a"/><path d="M530.9,61.1C530.9,61.8 531.2,62.8 530.8,63.3C530.4,63.8 529.3,64.1 528.6,64.1C527.9,64.1 527.0,63.7 526.5,63.2C526.1,62.7 525.9,61.8 525.9,61.1C525.9,60.4 526.0,59.4 526.4,58.9C526.9,58.4 527.9,57.9 528.6,58.0C529.2,58.1 530.0,58.8 530.4,59.3C530.8,59.8 530.8,60.4 530.9,61.1Z" fill="#e8282a"/><path d="M526.5,68.4C526.5,69.2 524.8,69.9 524.1,70.8C523.4,71.6 522.8,73.3 522.0,73.4C521.2,73.6 520.0,72.3 519.3,71.5C518.5,70.6 517.5,69.5 517.5,68.4C517.4,67.3 518.2,65.6 519.0,65.0C519.7,64.3 521.2,64.3 522.0,64.5C522.9,64.6 523.4,65.4 524.1,66.0C524.8,66.7 526.5,67.6 526.5,68.4Z" fill="#e8282a"/><path d="M530.1,64.7C530.1,65.2 528.7,65.7 528.1,66.1C527.4,66.5 527.0,67.2 526.4,67.2C525.8,67.2 524.9,66.8 524.5,66.3C524.0,65.9 523.8,65.3 523.7,64.7C523.7,64.1 523.6,63.3 524.0,62.8C524.4,62.2 525.7,61.5 526.4,61.6C527.1,61.7 527.6,62.7 528.2,63.2C528.8,63.7 530.1,64.3 530.1,64.7Z" fill="#e8282a"/><path d="M536.7,67.7C536.6,68.3 535.8,68.8 535.1,69.2C534.5,69.7 533.7,70.2 533.0,70.2C532.2,70.2 531.1,69.7 530.6,69.3C530.2,68.9 530.1,68.2 530.1,67.7C530.2,67.2 530.5,66.6 531.0,66.2C531.4,65.9 532.1,65.7 533.0,65.6C533.8,65.5 535.3,65.2 536.0,65.5C536.6,65.9 536.9,67.0 536.7,67.7Z" fill="#e8282a"/><path d="M540.8,57.4C540.8,58.0 540.0,58.6 539.4,59.2C538.8,59.8 538.2,60.9 537.3,61.1C536.5,61.3 534.8,60.7 534.2,60.1C533.6,59.5 533.8,58.2 534.0,57.4C534.2,56.7 534.8,56.2 535.4,55.8C535.9,55.4 536.7,55.0 537.3,55.0C538.0,55.0 538.7,55.4 539.2,55.8C539.8,56.2 540.8,56.9 540.8,57.4Z" fill="#e8282a"/><path d="M544.4,56.7C544.4,57.3 543.8,57.9 543.3,58.3C542.9,58.8 542.3,59.2 541.7,59.3C541.1,59.3 540.4,59.0 539.9,58.5C539.4,58.1 538.7,57.4 538.6,56.7C538.5,56.0 538.6,54.7 539.2,54.2C539.7,53.6 541.0,53.2 541.7,53.3C542.5,53.4 543.3,54.1 543.7,54.7C544.2,55.3 544.5,56.1 544.4,56.7Z" fill="#e8282a"/><path d="M542.1,60.4C542.2,60.8 542.0,61.5 541.7,61.8C541.4,62.1 540.7,62.2 540.3,62.2C539.8,62.2 539.2,61.9 539.0,61.6C538.7,61.3 538.7,60.8 538.8,60.4C538.8,59.9 538.8,59.6 539.0,59.1C539.3,58.7 539.9,57.8 540.3,57.9C540.6,57.9 541.1,58.8 541.4,59.3C541.7,59.7 542.1,59.9 542.1,60.4Z" fill="#e8282a"/><path d="M552.2,45.8C552.3,46.7 552.0,48.0 551.6,48.8C551.2,49.6 550.3,50.7 549.7,50.5C549.2,50.4 548.6,48.9 548.3,48.1C547.9,47.3 547.6,46.6 547.6,45.8C547.6,45.0 547.9,44.0 548.2,43.4C548.6,42.7 549.2,42.1 549.7,42.0C550.3,42.0 551.0,42.4 551.4,43.0C551.9,43.7 552.2,44.8 552.2,45.8Z" fill="#e8282a"/><path d="M551.4,52.3C551.5,53.2 550.9,54.6 550.4,55.3C549.9,56.0 548.8,56.7 548.3,56.5C547.7,56.3 547.3,54.8 547.0,54.1C546.7,53.4 546.6,53.1 546.5,52.3C546.3,51.6 546.0,50.3 546.3,49.6C546.6,48.9 547.7,48.0 548.3,48.1C548.9,48.1 549.5,49.2 550.0,49.9C550.5,50.6 551.3,51.4 551.4,52.3Z" fill="#e8282a"/><path d="M553.3,49.4C553.3,49.9 552.6,50.3 552.2,50.7C551.9,51.1 551.7,51.6 551.2,51.7C550.7,51.9 549.9,52.0 549.5,51.6C549.1,51.2 548.8,50.1 548.9,49.4C548.9,48.7 549.1,47.8 549.5,47.3C549.9,46.8 550.7,46.2 551.2,46.3C551.7,46.4 552.1,47.4 552.4,47.9C552.8,48.4 553.3,49.0 553.3,49.4Z" fill="#e8282a"/><path d="M549.5,61.4C549.4,62.0 549.3,62.4 549.0,62.8C548.6,63.2 548.1,63.8 547.6,63.9C547.0,64.0 546.1,63.7 545.6,63.3C545.1,62.9 544.5,62.0 544.5,61.4C544.5,60.7 545.1,59.9 545.6,59.4C546.1,59.0 546.9,58.7 547.6,58.7C548.2,58.7 549.2,58.9 549.6,59.4C549.9,59.8 549.6,60.8 549.5,61.4Z" fill="#e8282a"/><path d="M574.8,45.8C574.9,46.8 574.4,48.5 573.8,49.0C573.2,49.6 571.9,49.0 570.9,49.1C569.9,49.1 568.2,50.0 567.7,49.4C567.1,48.9 567.6,47.0 567.5,45.8C567.5,44.5 566.9,42.7 567.4,41.9C568.0,41.1 569.9,40.8 570.9,40.9C571.9,41.1 572.8,42.1 573.4,43.0C574.1,43.8 574.7,44.8 574.8,45.8Z" fill="#e8282a"/><path d="M570.0,44.3C569.9,44.8 569.8,45.2 569.5,45.5C569.2,45.9 568.6,46.4 568.0,46.4C567.4,46.5 566.4,46.2 566.0,45.9C565.7,45.5 565.9,44.7 566.0,44.3C566.2,43.9 566.3,43.6 566.7,43.2C567.0,42.9 567.5,42.4 568.0,42.3C568.5,42.2 569.5,42.5 569.8,42.8C570.2,43.2 570.0,43.9 570.0,44.3Z" fill="#e8282a"/><path d="M575.7,48.0C575.6,48.6 575.3,49.2 575.0,49.7C574.7,50.3 574.2,51.1 573.8,51.1C573.5,51.1 573.1,50.0 572.8,49.5C572.5,49.0 572.1,48.6 572.1,48.0C572.0,47.4 572.2,46.5 572.5,45.9C572.8,45.3 573.4,44.2 573.8,44.2C574.3,44.2 575.0,45.1 575.3,45.7C575.7,46.3 575.7,47.3 575.7,48.0Z" fill="#e8282a"/><path d="M556.4,66.2C556.5,66.9 555.6,68.1 555.1,68.6C554.6,69.1 553.9,69.2 553.4,69.2C552.9,69.1 552.4,68.8 551.9,68.3C551.4,67.8 550.3,67.0 550.3,66.2C550.2,65.4 550.9,64.0 551.4,63.5C552.0,62.9 552.9,62.9 553.4,63.1C553.9,63.3 554.2,63.9 554.7,64.4C555.2,64.9 556.3,65.5 556.4,66.2Z" fill="#e8282a"/><path d="M562.2,73.5C562.3,74.1 562.0,75.3 561.5,75.8C561.0,76.3 559.9,76.4 559.2,76.3C558.5,76.3 558.0,75.8 557.4,75.3C556.9,74.8 556.1,74.2 556.0,73.5C555.8,72.8 556.1,71.3 556.6,70.9C557.2,70.5 558.5,70.8 559.2,71.0C559.9,71.2 560.3,71.5 560.8,71.9C561.3,72.4 562.1,72.9 562.2,73.5Z" fill="#e8282a"/><path d="M566.8,77.2C566.8,77.8 566.5,78.6 566.0,79.2C565.4,79.7 564.3,80.5 563.6,80.4C562.9,80.4 562.2,79.5 561.6,78.9C560.9,78.4 559.7,77.8 559.6,77.2C559.4,76.5 560.2,75.3 560.8,74.8C561.5,74.3 562.8,74.1 563.6,74.2C564.4,74.3 565.1,74.9 565.7,75.4C566.2,75.9 566.7,76.5 566.8,77.2Z" fill="#e8282a"/><path d="M567.6,79.3C567.5,80.0 566.7,80.4 566.3,80.9C565.9,81.4 565.5,82.3 565.1,82.3C564.7,82.3 564.2,81.3 563.9,80.8C563.6,80.3 563.5,79.9 563.4,79.3C563.3,78.8 563.2,77.7 563.5,77.3C563.7,77.0 564.5,77.2 565.1,77.1C565.6,77.1 566.4,76.8 566.8,77.1C567.3,77.5 567.7,78.7 567.6,79.3Z" fill="#e8282a"/><path d="M577.5,78.6C577.5,79.3 576.8,80.2 576.3,80.6C575.8,81.1 575.2,81.5 574.6,81.5C573.9,81.6 573.1,81.4 572.6,81.0C572.0,80.5 571.4,79.5 571.3,78.6C571.2,77.7 571.4,76.0 571.9,75.5C572.5,75.1 573.8,75.7 574.6,75.8C575.3,76.0 576.0,75.8 576.5,76.3C577.0,76.8 577.6,77.9 577.5,78.6Z" fill="#e8282a"/><path d="M579.9,74.2C579.9,75.8 580.3,78.4 580.0,79.1C579.7,79.8 578.7,78.9 578.2,78.6C577.7,78.3 577.4,77.9 577.2,77.1C576.9,76.4 576.8,75.3 576.7,74.2C576.7,73.1 576.6,71.7 576.9,70.6C577.1,69.5 577.7,67.7 578.2,67.6C578.7,67.4 579.6,68.4 579.9,69.5C580.2,70.7 579.9,72.6 579.9,74.2Z" fill="#e8282a"/><path d="M580.1,66.9C580.1,67.5 580.0,68.7 579.8,69.2C579.7,69.7 579.2,70.1 578.9,70.0C578.7,69.9 578.4,69.0 578.3,68.5C578.2,68.0 578.2,67.6 578.1,66.9C578.1,66.3 577.9,65.2 578.1,64.8C578.2,64.3 578.7,64.0 578.9,64.1C579.2,64.3 579.3,65.2 579.5,65.6C579.6,66.1 580.0,66.3 580.1,66.9Z" fill="#e8282a"/><path d="M552.1,82.3C552.1,83.0 551.7,84.0 551.5,84.6C551.2,85.1 550.8,85.5 550.5,85.5C550.2,85.5 549.7,85.0 549.5,84.5C549.3,83.9 549.2,82.9 549.3,82.3C549.3,81.6 549.5,81.0 549.7,80.5C549.9,80.0 550.2,79.3 550.5,79.2C550.8,79.1 551.2,79.5 551.4,80.0C551.7,80.5 552.1,81.5 552.1,82.3Z" fill="#e8282a"/><path d="M534.2,72.8C534.2,73.0 533.7,73.1 533.5,73.3C533.3,73.5 533.1,74.0 533.0,74.0C532.8,74.0 532.5,73.6 532.4,73.4C532.2,73.2 532.1,73.0 532.0,72.8C532.0,72.5 532.0,72.1 532.1,71.9C532.3,71.8 532.7,71.6 533.0,71.6C533.2,71.6 533.4,71.9 533.6,72.1C533.8,72.3 534.2,72.6 534.2,72.8Z" fill="#e8282a"/><path d="M570.0,58.2C570.0,58.3 570.1,58.6 570.0,58.7C569.9,58.8 569.6,58.8 569.5,58.9C569.3,58.9 568.9,58.9 568.8,58.8C568.7,58.7 568.8,58.4 568.8,58.2C568.9,58.0 568.9,57.8 569.0,57.7C569.1,57.5 569.3,57.2 569.5,57.3C569.6,57.3 569.7,57.6 569.8,57.8C569.9,57.9 570.0,58.0 570.0,58.2Z" fill="#e8282a"/><path d="M558.7,39.2C558.8,39.4 558.8,39.8 558.6,40.0C558.4,40.2 558.0,40.4 557.8,40.3C557.5,40.3 557.4,39.9 557.3,39.7C557.1,39.5 557.0,39.4 557.0,39.2C557.0,39.0 557.1,38.9 557.2,38.7C557.4,38.5 557.6,38.0 557.8,38.0C558.0,38.0 558.2,38.4 558.4,38.6C558.5,38.8 558.7,39.0 558.7,39.2Z" fill="#e8282a"/><path d="M560.8,37.0C560.8,37.2 560.7,37.5 560.6,37.7C560.5,37.8 560.1,37.7 560.0,37.7C559.8,37.7 559.7,37.6 559.5,37.5C559.3,37.4 559.0,37.2 559.0,37.0C559.0,36.8 559.2,36.6 559.4,36.4C559.6,36.3 559.8,36.4 560.0,36.4C560.2,36.4 560.4,36.3 560.6,36.4C560.7,36.5 560.8,36.8 560.8,37.0Z" fill="#e8282a"/></g></g>
<rect x="562.60" y="30.40" width="14.40" height="2.20" fill="#fff"/>
<rect x="530.3" y="47" width="17.5" height="17.7" fill="none" stroke="#e2e2e2" stroke-width="0.7"/>
<path d="M530.3,64.7 L518,98.1 M547.8,64.7 L575.6,98.1" stroke="#c8c8c8" stroke-width="0.5" stroke-dasharray="1.2 1" fill="none"/>
<rect x="518" y="98.1" width="57.6" height="57.7" fill="#000" stroke="#e6e6e6" stroke-width="0.8"/>
<clipPath id="cpPS2"><rect x="518.4" y="98.5" width="56.8" height="56.9"/></clipPath>
<g clip-path="url(#cpPS2)"><g filter="url(#grain)"><path d="M531.1,102.5C530.9,103.6 530.7,104.7 530.0,105.4C529.2,106.1 527.9,106.4 526.8,106.9C525.6,107.5 524.4,108.5 523.1,108.6C521.7,108.7 519.8,108.1 518.8,107.4C517.7,106.6 517.3,105.3 516.9,104.2C516.4,103.1 515.7,101.6 516.2,100.7C516.7,99.8 518.9,99.4 520.1,98.8C521.2,98.2 522.0,97.5 523.2,97.3C524.4,97.1 525.9,97.1 527.2,97.4C528.6,97.6 530.6,98.1 531.2,99.0C531.9,99.9 531.4,101.5 531.1,102.5Z" fill="#ea2a2c"/><path d="M526.7,113.5C526.6,114.4 525.8,115.3 525.3,116.0C524.8,116.7 524.2,117.2 523.6,117.6C522.9,118.0 522.1,118.3 521.4,118.2C520.7,118.1 520.0,117.7 519.3,117.2C518.7,116.6 517.7,115.9 517.6,115.0C517.4,114.2 518.2,113.2 518.5,112.2C518.7,111.3 518.6,110.1 519.1,109.4C519.6,108.8 520.6,108.4 521.4,108.3C522.2,108.1 523.1,108.2 523.9,108.6C524.6,109.0 525.3,109.8 525.7,110.6C526.2,111.4 526.7,112.6 526.7,113.5Z" fill="#ea2a2c"/><path d="M523.5,122.2C523.5,122.8 523.2,123.4 522.9,123.9C522.7,124.4 522.3,124.8 521.9,125.0C521.6,125.3 521.1,125.4 520.7,125.3C520.2,125.3 519.5,125.3 519.2,124.9C519.0,124.5 519.0,123.6 518.9,123.0C518.9,122.4 518.8,122.0 518.8,121.4C518.9,120.8 519.0,119.9 519.3,119.6C519.6,119.2 520.2,119.2 520.7,119.2C521.1,119.2 521.5,119.4 521.9,119.6C522.2,119.9 522.5,120.3 522.8,120.7C523.0,121.1 523.5,121.7 523.5,122.2Z" fill="#ea2a2c"/><path d="M541.9,126.6C541.9,127.9 540.9,129.1 540.3,130.4C539.6,131.7 539.1,133.5 537.9,134.3C536.7,135.0 534.8,134.9 533.2,134.7C531.7,134.5 529.8,134.0 528.9,133.0C528.0,131.9 528.0,129.9 527.9,128.5C527.7,127.2 527.8,125.9 528.2,124.8C528.6,123.7 529.3,122.6 530.2,121.7C531.0,120.8 532.1,119.7 533.4,119.3C534.6,119.0 536.5,118.9 537.7,119.5C538.9,120.1 539.8,121.5 540.5,122.7C541.2,123.9 541.9,125.3 541.9,126.6Z" fill="#ea2a2c"/><path d="M549.2,123.7C549.1,124.7 549.1,125.8 548.6,126.7C548.1,127.6 547.3,128.6 546.4,129.1C545.4,129.6 544.1,129.8 543.0,129.6C542.0,129.5 540.7,129.0 539.9,128.3C539.0,127.6 538.1,126.5 537.8,125.5C537.6,124.4 537.7,122.9 538.1,122.0C538.6,121.1 539.8,120.6 540.6,119.9C541.4,119.1 542.1,117.6 543.0,117.4C543.9,117.3 545.2,118.3 546.1,118.8C547.1,119.3 548.3,119.7 548.8,120.5C549.3,121.3 549.2,122.7 549.2,123.7Z" fill="#ea2a2c"/><path d="M560.5,121.5C560.4,123.1 560.7,125.1 560.0,126.2C559.3,127.4 557.4,127.8 556.2,128.3C554.9,128.7 553.6,129.2 552.4,129.0C551.2,128.8 549.8,128.1 548.9,127.2C548.1,126.3 547.6,124.9 547.1,123.6C546.5,122.2 545.3,120.3 545.5,118.9C545.8,117.5 547.3,116.0 548.5,115.2C549.6,114.3 551.1,114.0 552.4,113.8C553.7,113.7 555.0,113.9 556.4,114.3C557.7,114.7 559.8,115.2 560.5,116.4C561.2,117.6 560.6,119.9 560.5,121.5Z" fill="#ea2a2c"/><path d="M555.5,136.8C555.5,137.8 554.7,138.9 554.2,139.9C553.6,140.9 553.2,142.4 552.3,143.0C551.5,143.6 550.0,143.4 548.9,143.3C547.7,143.1 546.1,143.0 545.4,142.2C544.8,141.4 545.1,139.6 544.9,138.4C544.7,137.2 544.2,136.2 544.3,135.1C544.4,134.0 544.9,132.5 545.6,131.7C546.4,130.8 547.7,130.2 548.8,130.0C550.0,129.8 551.6,129.8 552.4,130.5C553.3,131.1 553.4,132.9 553.9,133.9C554.4,135.0 555.4,135.8 555.5,136.8Z" fill="#ea2a2c"/><path d="M577.0,112.7C576.9,114.8 576.4,116.6 575.8,118.2C575.2,119.8 574.4,120.9 573.4,122.2C572.4,123.4 571.0,125.8 569.8,125.7C568.7,125.6 567.5,123.2 566.5,121.6C565.5,120.1 564.1,118.4 563.8,116.4C563.6,114.4 564.5,111.8 564.9,109.6C565.3,107.4 565.3,104.5 566.2,103.1C567.0,101.8 568.8,101.6 570.0,101.6C571.2,101.6 572.3,102.3 573.4,103.1C574.6,103.8 576.3,104.4 576.9,106.0C577.5,107.6 577.2,110.7 577.0,112.7Z" fill="#ea2a2c"/><path d="M576.7,139.7C576.5,140.9 575.1,141.8 574.4,142.9C573.8,143.9 573.5,145.3 572.6,145.9C571.8,146.5 570.3,146.7 569.3,146.5C568.4,146.2 567.5,145.1 566.8,144.3C566.0,143.4 565.2,142.5 564.9,141.5C564.7,140.5 565.0,139.1 565.3,138.1C565.6,137.1 566.1,136.0 566.8,135.2C567.5,134.5 568.5,134.0 569.4,133.7C570.4,133.5 571.7,133.2 572.6,133.6C573.6,134.0 574.5,135.0 575.2,136.0C575.9,137.1 576.8,138.6 576.7,139.7Z" fill="#ea2a2c"/><path d="M565.6,142.7C565.6,143.3 565.2,144.0 565.0,144.6C564.7,145.1 564.5,145.8 564.0,146.2C563.6,146.6 562.9,147.0 562.4,146.9C562.0,146.8 561.5,146.0 561.1,145.5C560.8,144.9 560.4,144.4 560.2,143.8C560.1,143.1 560.2,142.4 560.3,141.6C560.4,140.9 560.4,139.8 560.8,139.3C561.1,138.8 561.9,138.5 562.5,138.6C563.0,138.6 563.5,139.1 563.9,139.4C564.4,139.8 564.8,140.2 565.1,140.7C565.3,141.3 565.6,142.0 565.6,142.7Z" fill="#ea2a2c"/><path d="M529.7,147.0C529.8,148.3 529.6,149.9 529.1,151.1C528.6,152.2 527.6,153.6 526.7,154.0C525.7,154.4 524.5,153.8 523.5,153.4C522.5,153.1 521.7,152.7 520.8,152.0C520.0,151.3 518.7,150.4 518.4,149.2C518.1,148.1 518.5,146.3 518.9,145.0C519.2,143.8 519.9,142.7 520.7,141.8C521.5,141.0 522.4,140.6 523.4,140.2C524.5,139.8 526.0,138.9 526.9,139.4C527.8,140.0 528.3,142.0 528.7,143.3C529.2,144.6 529.7,145.7 529.7,147.0Z" fill="#ea2a2c"/><path d="M534.9,152.9C534.8,153.3 534.5,153.8 534.1,154.2C533.6,154.5 533.1,154.8 532.4,155.1C531.8,155.3 530.9,155.6 530.1,155.6C529.3,155.6 528.2,155.4 527.7,155.0C527.2,154.7 527.1,154.0 527.0,153.5C526.9,153.1 527.1,152.7 527.2,152.3C527.4,151.8 527.4,151.2 527.9,150.9C528.4,150.6 529.5,150.7 530.2,150.7C531.0,150.7 531.5,150.9 532.2,151.0C532.9,151.1 534.2,151.1 534.6,151.4C535.1,151.7 535.0,152.4 534.9,152.9Z" fill="#ea2a2c"/><path d="M563.8,135.4C563.8,135.7 563.8,136.1 563.7,136.3C563.5,136.6 563.1,136.7 562.8,136.8C562.5,136.9 562.2,137.2 561.9,137.2C561.6,137.1 561.3,136.8 561.1,136.6C560.9,136.4 560.8,136.0 560.7,135.8C560.7,135.5 560.8,135.2 560.8,135.0C560.9,134.7 560.9,134.3 561.1,134.1C561.2,133.9 561.6,133.7 561.9,133.7C562.2,133.6 562.7,133.5 562.9,133.7C563.2,133.8 563.2,134.3 563.4,134.6C563.5,134.9 563.7,135.1 563.8,135.4Z" fill="#ea2a2c"/><path d="M532.3,99.6C532.2,99.9 531.6,100.2 531.0,100.4C530.4,100.7 529.7,101.0 528.8,101.1C527.9,101.2 526.6,101.1 525.7,101.0C524.7,101.0 523.7,100.9 522.9,100.8C522.1,100.6 521.3,100.3 520.9,100.1C520.4,99.8 519.8,99.3 520.2,99.1C520.6,98.8 522.2,98.7 523.1,98.5C524.0,98.3 524.6,98.1 525.6,98.0C526.6,97.9 527.9,97.9 529.0,98.0C530.0,98.1 531.3,98.3 531.9,98.6C532.4,98.9 532.5,99.3 532.3,99.6Z" fill="#ea2a2c"/></g></g>
<rect x="555.90" y="151.00" width="16.50" height="2.10" fill="#fff"/>
</g>
<g id="panel_cd">
<text x="593.5" y="7.7" font-size="10.2" font-weight="bold" fill="#000">c</text>
<rect x="639.00" y="43.10" width="12.80" height="37.20" fill="#b4b5e2"/>
<rect x="658.10" y="40.00" width="12.90" height="40.30" fill="#f4999c"/>
<line x1="633.3" y1="12.4" x2="633.3" y2="80.3" stroke="#666" stroke-width="0.7"/>
<line x1="629.5" y1="80.3" x2="677.3" y2="80.3" stroke="#666" stroke-width="0.7"/>
<line x1="630.4" y1="80.3" x2="633.3" y2="80.3" stroke="#666" stroke-width="0.7"/>
<text x="625.6" y="82.6" font-size="6.6" text-anchor="end" fill="#1a1a1a">0</text>
<line x1="630.4" y1="66.78" x2="633.3" y2="66.78" stroke="#666" stroke-width="0.7"/>
<text x="625.6" y="69.08" font-size="6.6" text-anchor="end" fill="#1a1a1a">200</text>
<line x1="630.4" y1="53.26" x2="633.3" y2="53.26" stroke="#666" stroke-width="0.7"/>
<text x="625.6" y="55.559999999999995" font-size="6.6" text-anchor="end" fill="#1a1a1a">400</text>
<line x1="630.4" y1="39.74" x2="633.3" y2="39.74" stroke="#666" stroke-width="0.7"/>
<text x="625.6" y="42.04" font-size="6.6" text-anchor="end" fill="#1a1a1a">600</text>
<line x1="630.4" y1="26.22" x2="633.3" y2="26.22" stroke="#666" stroke-width="0.7"/>
<text x="625.6" y="28.52" font-size="6.6" text-anchor="end" fill="#1a1a1a">800</text>
<line x1="630.4" y1="12.700000000000003" x2="633.3" y2="12.700000000000003" stroke="#666" stroke-width="0.7"/>
<text x="625.6" y="15.000000000000004" font-size="6.6" text-anchor="end" fill="#1a1a1a">1,000</text>
<line x1="645.4" y1="80.3" x2="645.4" y2="83.1" stroke="#666" stroke-width="0.7"/>
<line x1="664.5" y1="80.3" x2="664.5" y2="83.1" stroke="#666" stroke-width="0.7"/>
<text x="645.4" y="92.3" font-size="6.6" text-anchor="middle" fill="#1a1a1a">CT</text>
<text x="664.5" y="92.3" font-size="6.6" text-anchor="middle" fill="#1a1a1a">PS</text>
<circle cx="645.40" cy="24.30" r="2.1" fill="#1f4f9e"/>
<circle cx="643.40" cy="38.30" r="2.1" fill="#1f4f9e"/>
<circle cx="647.60" cy="37.60" r="2.1" fill="#1f4f9e"/>
<circle cx="645.40" cy="45.70" r="2.1" fill="#1f4f9e"/>
<circle cx="641.20" cy="52.70" r="2.1" fill="#1f4f9e"/>
<circle cx="645.40" cy="52.30" r="2.1" fill="#1f4f9e"/>
<circle cx="650.00" cy="52.70" r="2.1" fill="#1f4f9e"/>
<circle cx="664.40" cy="20.90" r="2.1" fill="#d9272b"/>
<circle cx="664.40" cy="27.90" r="2.1" fill="#d9272b"/>
<circle cx="660.20" cy="41.30" r="2.1" fill="#d9272b"/>
<circle cx="669.00" cy="41.80" r="2.1" fill="#d9272b"/>
<circle cx="660.00" cy="45.70" r="2.1" fill="#d9272b"/>
<circle cx="668.80" cy="48.30" r="2.1" fill="#d9272b"/>
<circle cx="664.40" cy="54.90" r="2.1" fill="#d9272b"/>
<line x1="645.4" y1="38.7" x2="645.4" y2="47.6" stroke="#222" stroke-width="0.7"/><line x1="642.4" y1="38.7" x2="648.4" y2="38.7" stroke="#222" stroke-width="0.7"/><line x1="642.4" y1="47.6" x2="648.4" y2="47.6" stroke="#222" stroke-width="0.7"/>
<line x1="664.5" y1="35.2" x2="664.5" y2="44.6" stroke="#222" stroke-width="0.7"/><line x1="661.5" y1="35.2" x2="667.5" y2="35.2" stroke="#222" stroke-width="0.7"/><line x1="661.5" y1="44.6" x2="667.5" y2="44.6" stroke="#222" stroke-width="0.7"/>
<path d="M645.4,19.9 V12.9 H664.5 V16.8" fill="none" stroke="#333" stroke-width="0.6"/>
<text x="655" y="9.6" font-size="6.6" text-anchor="middle" fill="#1a1a1a">0.8048</text>
<text x="603.3" y="46.5" font-size="6.6" text-anchor="middle" fill="#1a1a1a" transform="rotate(-90 603.3 46.5)">MC number (per mm<tspan dy="-2.2" font-size="4">2</tspan><tspan dy="2.2" font-size="0.1"> </tspan>)</text>
<text x="594.5" y="101.5" font-size="10.2" font-weight="bold" fill="#000">d</text>
<rect x="639.00" y="165.90" width="12.80" height="5.40" fill="#b4b5e2"/>
<rect x="658.10" y="136.40" width="12.90" height="34.90" fill="#f4999c"/>
<line x1="633.3" y1="102.4" x2="633.3" y2="171.3" stroke="#666" stroke-width="0.7"/>
<line x1="629.5" y1="171.3" x2="677.3" y2="171.3" stroke="#666" stroke-width="0.7"/>
<line x1="630.4" y1="171.3" x2="633.3" y2="171.3" stroke="#666" stroke-width="0.7"/>
<text x="625.6" y="173.60000000000002" font-size="6.6" text-anchor="end" fill="#1a1a1a">0</text>
<line x1="630.4" y1="148.43" x2="633.3" y2="148.43" stroke="#666" stroke-width="0.7"/>
<text x="625.6" y="150.73000000000002" font-size="6.6" text-anchor="end" fill="#1a1a1a">200</text>
<line x1="630.4" y1="125.56" x2="633.3" y2="125.56" stroke="#666" stroke-width="0.7"/>
<text x="625.6" y="127.86" font-size="6.6" text-anchor="end" fill="#1a1a1a">400</text>
<line x1="630.4" y1="102.69000000000001" x2="633.3" y2="102.69000000000001" stroke="#666" stroke-width="0.7"/>
<text x="625.6" y="104.99000000000001" font-size="6.6" text-anchor="end" fill="#1a1a1a">600</text>
<line x1="645.4" y1="171.3" x2="645.4" y2="174.10000000000002" stroke="#666" stroke-width="0.7"/>
<line x1="664.5" y1="171.3" x2="664.5" y2="174.10000000000002" stroke="#666" stroke-width="0.7"/>
<text x="645.4" y="183.8" font-size="6.6" text-anchor="middle" fill="#1a1a1a">CT</text>
<text x="664.5" y="183.8" font-size="6.6" text-anchor="middle" fill="#1a1a1a">PS</text>
<circle cx="641.20" cy="158.91" r="2.1" fill="#1f4f9e"/>
<circle cx="647.04" cy="159.34" r="2.1" fill="#1f4f9e"/>
<circle cx="644.12" cy="163.43" r="2.1" fill="#1f4f9e"/>
<circle cx="648.80" cy="167.37" r="2.1" fill="#1f4f9e"/>
<circle cx="641.20" cy="170.73" r="2.1" fill="#1f4f9e"/>
<circle cx="644.85" cy="170.00" r="2.1" fill="#1f4f9e"/>
<circle cx="649.23" cy="170.00" r="2.1" fill="#1f4f9e"/>
<circle cx="664.85" cy="112.34" r="2.1" fill="#d9272b"/>
<circle cx="664.85" cy="117.74" r="2.1" fill="#d9272b"/>
<circle cx="660.18" cy="137.45" r="2.1" fill="#d9272b"/>
<circle cx="669.23" cy="137.45" r="2.1" fill="#d9272b"/>
<circle cx="660.18" cy="145.18" r="2.1" fill="#d9272b"/>
<circle cx="669.23" cy="148.10" r="2.1" fill="#d9272b"/>
<circle cx="664.56" cy="162.70" r="2.1" fill="#d9272b"/>
<line x1="645.4" y1="163.7" x2="645.4" y2="168.1" stroke="#222" stroke-width="0.7"/><line x1="642.4" y1="163.7" x2="648.4" y2="163.7" stroke="#222" stroke-width="0.7"/><line x1="642.4" y1="168.1" x2="648.4" y2="168.1" stroke="#222" stroke-width="0.7"/>
<line x1="664.6" y1="130.4" x2="664.6" y2="144" stroke="#222" stroke-width="0.7"/><line x1="661.6" y1="130.4" x2="667.6" y2="130.4" stroke="#222" stroke-width="0.7"/><line x1="661.6" y1="144" x2="667.6" y2="144" stroke="#222" stroke-width="0.7"/>
<path d="M645.4,156.4 V104.3 H664.5 V108.2" fill="none" stroke="#333" stroke-width="0.6"/>
<text x="656.3" y="103.4" font-size="7" text-anchor="middle" fill="#1a1a1a">**</text>
<text x="600.3" y="137.5" font-size="6.6" text-anchor="middle" fill="#1a1a1a" transform="rotate(-90 600.3 137.5)">Degranulated MCs</text>
<text x="608.8" y="137.5" font-size="6.6" text-anchor="middle" fill="#1a1a1a" transform="rotate(-90 608.8 137.5)">(per mm<tspan dy="-2.2" font-size="4">2</tspan><tspan dy="2.2" font-size="0.1"> </tspan>)</text>
</g>
<g id="panel_e">
<defs>
<filter id="speck" x="0" y="0" width="100%" height="100%" color-interpolation-filters="sRGB"><feTurbulence type="fractalNoise" baseFrequency="0.55" numOctaves="3" seed="4"/><feColorMatrix type="matrix" values="0 0 0 0 0.48  0 0 0 0 0.48  0 0 0 0 0.48  1.9 0 0 0 -0.55"/><feGaussianBlur stdDeviation="0.4"/><feComposite in2="SourceGraphic" operator="in"/></filter>
<filter id="speck2" x="0" y="0" width="100%" height="100%" color-interpolation-filters="sRGB"><feTurbulence type="fractalNoise" baseFrequency="0.55" numOctaves="3" seed="9"/><feColorMatrix type="matrix" values="0 0 0 0 0.45  0 0 0 0 0.45  0 0 0 0 0.45  1.9 0 0 0 -0.58"/><feGaussianBlur stdDeviation="0.4"/><feComposite in2="SourceGraphic" operator="in"/></filter>
<filter id="lowdark" x="0" y="0" width="100%" height="100%"><feTurbulence type="fractalNoise" baseFrequency="0.075" numOctaves="2" seed="6"/><feColorMatrix type="matrix" values="0 0 0 0 0  0 0 0 0 0  0 0 0 0 0  3.2 0 0 0 -1.25"/><feComposite in2="SourceGraphic" operator="in"/></filter>
<filter id="gblur"><feGaussianBlur stdDeviation="0.25"/></filter>
<clipPath id="cpE1"><rect x="8.5" y="204" width="81" height="80.6"/></clipPath>
<clipPath id="cpE2"><rect x="92.3" y="204" width="80.8" height="80.6"/></clipPath>
</defs>
<text x="0" y="196.9" font-size="10.2" font-weight="bold" fill="#000">e</text>
<text x="49.3" y="200.9" font-size="6.6" text-anchor="middle" fill="#1a1a1a">E18.5 CT</text>
<text x="132.6" y="200.9" font-size="6.6" text-anchor="middle" fill="#1a1a1a">E18.5 PS</text>
<rect x="8.50" y="204.00" width="81.00" height="80.60" fill="#000"/>
<rect x="92.30" y="204.00" width="80.80" height="80.60" fill="#000"/>
<g clip-path="url(#cpE1)"><path d="M8.5,243.5 L9.5,241.2 L16.8,239.3 L24.8,235.1 L30.7,230.3 L36.1,225.3 L40.9,220.0 L44.8,215.7 L50.4,211.7 L56.9,208.1 L62.8,204.7 L66.0,204.0 L89.5,204.0 L89.5,284.6 L8.5,284.6Z" fill="#fff" filter="url(#speck)"/><rect x="8.5" y="204" width="81" height="80.6" fill="#000" filter="url(#lowdark)" opacity="0.75"/><path d="M9.5,241.2C10.7,240.9 14.2,240.3 16.8,239.3C19.3,238.3 22.5,236.6 24.8,235.1C27.1,233.6 28.8,231.9 30.7,230.3C32.5,228.6 34.4,227.0 36.1,225.3C37.8,223.6 39.4,221.6 40.9,220.0C42.3,218.4 43.2,217.0 44.8,215.7C46.4,214.3 48.3,213.0 50.4,211.7C52.4,210.5 55.8,208.7 56.9,208.1" fill="none" stroke="#000" stroke-width="9" opacity="0.7" filter="url(#gblur)"/><path d="M14,252 C35,240 55,222 74,204" stroke="#9a9a9a" stroke-width="1.3" fill="none" opacity="0.55" filter="url(#gblur)"/><path d="M60,268 C72,258 82,248 89.5,240" stroke="#9a9a9a" stroke-width="1.3" fill="none" opacity="0.5" filter="url(#gblur)"/><path d="M66,262 C76,252 84,243 89.5,233" stroke="#8a8a8a" stroke-width="1" fill="none" opacity="0.4" filter="url(#gblur)"/><path d="M49.6,230.3 L51.8,234.6 L54.3,235.4 L52.6,239.7" stroke="#6ac57a" stroke-width="1.15" fill="none" stroke-linecap="round" stroke-linejoin="round" filter="url(#gblur)"/><path d="M54.3,235.4 L57.7,233.2" stroke="#6ac57a" stroke-width="1.20" fill="none" stroke-linecap="round" stroke-linejoin="round" filter="url(#gblur)"/><path d="M57.7,225.1 L59.9,228.8" stroke="#6ac57a" stroke-width="1.22" fill="none" stroke-linecap="round" stroke-linejoin="round" filter="url(#gblur)"/><path d="M62.8,226.6 L65.0,228.8 L67.2,227.3" stroke="#6ac57a" stroke-width="1.28" fill="none" stroke-linecap="round" stroke-linejoin="round" filter="url(#gblur)"/><path d="M75.9,227.3 L78.1,228.8 L79.6,228.1" stroke="#6ac57a" stroke-width="1.20" fill="none" stroke-linecap="round" stroke-linejoin="round" filter="url(#gblur)"/><path d="M66.4,236.8 L68.6,238.3 L67.9,243.4 L68.6,246.3" stroke="#6ac57a" stroke-width="1.27" fill="none" stroke-linecap="round" stroke-linejoin="round" filter="url(#gblur)"/><path d="M67.2,237.6 L70.1,236.4" stroke="#6ac57a" stroke-width="0.91" fill="none" stroke-linecap="round" stroke-linejoin="round" filter="url(#gblur)"/><path d="M56.2,247.0 L52.6,248.1 L48.9,249.2 L47.4,252.9 L48.2,256.5 L46.0,259.5 L43.1,260.9" stroke="#6ac57a" stroke-width="1.09" fill="none" stroke-linecap="round" stroke-linejoin="round" filter="url(#gblur)"/><path d="M43.1,260.9 L48.2,262.4 L51.8,267.5 L58.4,266.8 L62.8,266.0 L65.0,268.9" stroke="#6ac57a" stroke-width="1.28" fill="none" stroke-linecap="round" stroke-linejoin="round" filter="url(#gblur)"/><path d="M62.8,266.0 L65.0,263.8" stroke="#6ac57a" stroke-width="1.16" fill="none" stroke-linecap="round" stroke-linejoin="round" filter="url(#gblur)"/><path d="M72.3,266.8 L72.7,270.4 L70.1,271.1" stroke="#6ac57a" stroke-width="1.26" fill="none" stroke-linecap="round" stroke-linejoin="round" filter="url(#gblur)"/><path d="M85.4,268.2 L83.2,271.9 L81.5,275.5 L80.3,279.9" stroke="#6ac57a" stroke-width="0.95" fill="none" stroke-linecap="round" stroke-linejoin="round" filter="url(#gblur)"/><path d="M83.2,268.9 L86.1,269.7" stroke="#6ac57a" stroke-width="1.09" fill="none" stroke-linecap="round" stroke-linejoin="round" filter="url(#gblur)"/><path d="M15.3,267.5 L18.2,266.8 L17.5,268.9" stroke="#6ac57a" stroke-width="1.00" fill="none" stroke-linecap="round" stroke-linejoin="round" filter="url(#gblur)"/><path d="M29.2,285.0 L34.3,278.4 L40.1,276.2 L44.5,272.6 L43.8,270.4" stroke="#6ac57a" stroke-width="1.12" fill="none" stroke-linecap="round" stroke-linejoin="round" filter="url(#gblur)"/><path d="M44.5,272.6 L46.7,276.2 L47.4,281.4 L46.4,285.0" stroke="#6ac57a" stroke-width="1.13" fill="none" stroke-linecap="round" stroke-linejoin="round" filter="url(#gblur)"/><path d="M86.1,206.9 L88.3,208.4" stroke="#6ac57a" stroke-width="0.91" fill="none" stroke-linecap="round" stroke-linejoin="round" filter="url(#gblur)"/><path d="M29.2,250.7 L30.9,251.4" stroke="#6ac57a" stroke-width="0.99" fill="none" stroke-linecap="round" stroke-linejoin="round" filter="url(#gblur)"/><path d="M87.6,256.5 L87.0,258.0" stroke="#6ac57a" stroke-width="1.01" fill="none" stroke-linecap="round" stroke-linejoin="round" filter="url(#gblur)"/><path d="M48.9,249.2 L56.2,246.3" stroke="#6ac57a" stroke-width="1.6" stroke-linecap="round"/><path d="M67.4,236.8 L68.6,239.7" stroke="#6ac57a" stroke-width="1.8" stroke-linecap="round"/><path d="M30.7,282.1 L43.8,275.8" stroke="#6ac57a" stroke-width="1.5" stroke-linecap="round"/></g>
<path d="M9.5,241.2 L14.6,240.2M22.6,236.8 L27.0,233.2M34.3,227.3 L38.0,223.2M43.1,217.8 L46.7,213.5M54.0,210.5 L56.9,208.1" fill="none" stroke="#fff" stroke-width="1.4" stroke-linecap="round" clip-path="url(#cpE1)"/>
<rect x="11.00" y="280.80" width="18.30" height="2.00" fill="#fff"/>
<g clip-path="url(#cpE2)"><path d="M92.3,204.0 L103.2,203.9 L114.2,209.0 L127.3,214.1 L136.1,219.9 L139.3,226.5 L141.2,233.8 L146.3,238.2 L158.0,242.6 L168.2,246.2 L173.0,249.9 L173.1,284.6 L125.1,284.6 L124.4,277.6 L124.1,269.6 L120.0,262.3 L112.7,256.4 L102.5,252.0 L92.3,251.3Z" fill="#fff" filter="url(#speck2)"/><rect x="92.3" y="204" width="80.8" height="80.6" fill="#000" filter="url(#lowdark)" opacity="0.75"/><path d="M103.2,203.9C105.1,204.7 110.2,207.3 114.2,209.0C118.2,210.7 123.7,212.3 127.3,214.1C131.0,215.9 134.1,217.9 136.1,219.9C138.1,222.0 138.5,224.2 139.3,226.5C140.2,228.8 140.0,231.8 141.2,233.8C142.4,235.7 143.5,236.7 146.3,238.2C149.1,239.6 154.3,241.2 158.0,242.6C161.6,243.9 165.7,245.0 168.2,246.2C170.7,247.4 172.2,249.2 173.0,249.9" fill="none" stroke="#000" stroke-width="7" opacity="0.6" filter="url(#gblur)"/><circle cx="121.4" cy="277.4" r="0.3" fill="#777" opacity="0.6"/><circle cx="97.9" cy="278.3" r="0.3" fill="#777" opacity="0.6"/><circle cx="97.3" cy="273.3" r="0.3" fill="#777" opacity="0.6"/><circle cx="96.9" cy="256.0" r="0.3" fill="#777" opacity="0.6"/><circle cx="120.0" cy="261.9" r="0.3" fill="#777" opacity="0.6"/><circle cx="99.7" cy="283.5" r="0.3" fill="#777" opacity="0.6"/><circle cx="120.0" cy="264.1" r="0.3" fill="#777" opacity="0.6"/><circle cx="122.8" cy="271.1" r="0.3" fill="#777" opacity="0.6"/><circle cx="114.0" cy="261.7" r="0.3" fill="#777" opacity="0.6"/><circle cx="122.2" cy="275.3" r="0.3" fill="#777" opacity="0.6"/><circle cx="123.0" cy="281.0" r="0.3" fill="#777" opacity="0.6"/><circle cx="102.3" cy="266.1" r="0.3" fill="#777" opacity="0.6"/><circle cx="98.1" cy="260.1" r="0.3" fill="#777" opacity="0.6"/><circle cx="95.0" cy="264.4" r="0.3" fill="#777" opacity="0.6"/><circle cx="111.7" cy="256.1" r="0.3" fill="#777" opacity="0.6"/><circle cx="114.0" cy="265.5" r="0.3" fill="#777" opacity="0.6"/><circle cx="102.6" cy="278.9" r="0.3" fill="#777" opacity="0.6"/><circle cx="107.9" cy="264.8" r="0.3" fill="#777" opacity="0.6"/><circle cx="107.9" cy="275.7" r="0.3" fill="#777" opacity="0.6"/><circle cx="94.8" cy="283.3" r="0.3" fill="#777" opacity="0.6"/><circle cx="93.7" cy="277.0" r="0.3" fill="#777" opacity="0.6"/><circle cx="119.2" cy="256.5" r="0.3" fill="#777" opacity="0.6"/><circle cx="117.4" cy="266.3" r="0.3" fill="#777" opacity="0.6"/><circle cx="110.9" cy="256.3" r="0.3" fill="#777" opacity="0.6"/><circle cx="94.4" cy="261.1" r="0.3" fill="#777" opacity="0.6"/><circle cx="122.6" cy="261.5" r="0.3" fill="#777" opacity="0.6"/><circle cx="116.4" cy="282.0" r="0.3" fill="#777" opacity="0.6"/><circle cx="122.2" cy="265.6" r="0.3" fill="#777" opacity="0.6"/><circle cx="104.0" cy="270.7" r="0.3" fill="#777" opacity="0.6"/><circle cx="117.0" cy="259.0" r="0.3" fill="#777" opacity="0.6"/><circle cx="116.2" cy="278.3" r="0.3" fill="#777" opacity="0.6"/><circle cx="119.7" cy="257.0" r="0.3" fill="#777" opacity="0.6"/><circle cx="122.3" cy="258.6" r="0.3" fill="#777" opacity="0.6"/><circle cx="103.6" cy="273.1" r="0.3" fill="#777" opacity="0.6"/><circle cx="121.5" cy="265.5" r="0.3" fill="#777" opacity="0.6"/><circle cx="121.7" cy="271.3" r="0.3" fill="#777" opacity="0.6"/><circle cx="102.7" cy="264.9" r="0.3" fill="#777" opacity="0.6"/><circle cx="98.5" cy="258.2" r="0.3" fill="#777" opacity="0.6"/><circle cx="97.6" cy="275.3" r="0.3" fill="#777" opacity="0.6"/><circle cx="123.9" cy="260.5" r="0.3" fill="#777" opacity="0.6"/><path d="M95.9,217.0 L101.1,220.7 L106.9,224.3 L110.5,225.8" stroke="#6ac57a" stroke-width="0.92" fill="none" stroke-linecap="round" stroke-linejoin="round" filter="url(#gblur)"/><path d="M106.9,228.7 L109.1,232.3 L105.4,236.7 L102.5,241.1 L100.3,244.7" stroke="#6ac57a" stroke-width="1.29" fill="none" stroke-linecap="round" stroke-linejoin="round" filter="url(#gblur)"/><path d="M105.4,229.4 L112.0,230.1 L109.1,232.3" stroke="#6ac57a" stroke-width="1.11" fill="none" stroke-linecap="round" stroke-linejoin="round" filter="url(#gblur)"/><path d="M112.0,230.9 L116.4,232.3 L120.0,236.7 L123.2,238.2" stroke="#6ac57a" stroke-width="1.06" fill="none" stroke-linecap="round" stroke-linejoin="round" filter="url(#gblur)"/><path d="M123.2,236.0 L123.7,240.4" stroke="#6ac57a" stroke-width="0.99" fill="none" stroke-linecap="round" stroke-linejoin="round" filter="url(#gblur)"/><path d="M112.7,241.8 L118.6,241.1 L120.0,245.5 L122.2,247.7" stroke="#6ac57a" stroke-width="1.14" fill="none" stroke-linecap="round" stroke-linejoin="round" filter="url(#gblur)"/><path d="M118.6,241.1 L119.3,238.2" stroke="#6ac57a" stroke-width="1.23" fill="none" stroke-linecap="round" stroke-linejoin="round" filter="url(#gblur)"/><path d="M144.1,261.5 L147.8,257.9 L149.2,255.7" stroke="#6ac57a" stroke-width="1.08" fill="none" stroke-linecap="round" stroke-linejoin="round" filter="url(#gblur)"/><path d="M147.8,261.5 L153.6,260.8" stroke="#6ac57a" stroke-width="1.07" fill="none" stroke-linecap="round" stroke-linejoin="round" filter="url(#gblur)"/><path d="M126.6,269.6 L128.8,271.0" stroke="#6ac57a" stroke-width="0.92" fill="none" stroke-linecap="round" stroke-linejoin="round" filter="url(#gblur)"/><path d="M131.7,269.6 L135.4,268.1 L139.0,265.9" stroke="#6ac57a" stroke-width="1.27" fill="none" stroke-linecap="round" stroke-linejoin="round" filter="url(#gblur)"/><path d="M158.0,265.9 L160.2,268.8" stroke="#6ac57a" stroke-width="0.91" fill="none" stroke-linecap="round" stroke-linejoin="round" filter="url(#gblur)"/><path d="M146.3,280.5 L151.4,277.6 L156.5,276.9 L158.0,275.4" stroke="#6ac57a" stroke-width="1.10" fill="none" stroke-linecap="round" stroke-linejoin="round" filter="url(#gblur)"/><path d="M149.2,283.4 L152.2,281.2" stroke="#6ac57a" stroke-width="1.24" fill="none" stroke-linecap="round" stroke-linejoin="round" filter="url(#gblur)"/><path d="M168.9,277.6 L169.7,279.1" stroke="#6ac57a" stroke-width="0.95" fill="none" stroke-linecap="round" stroke-linejoin="round" filter="url(#gblur)"/><path d="M106.2,228.7 L112.0,232.3" stroke="#6ac57a" stroke-width="2.2" stroke-linecap="round"/><path d="M147.8,279.1 L157.3,276.4" stroke="#6ac57a" stroke-width="1.6" stroke-linecap="round"/><path d="M132.0,269.6 L138.3,266.2" stroke="#6ac57a" stroke-width="1.4" stroke-linecap="round"/></g>
<path d="M103.2,203.9 L108.4,207.2M114.9,209.7 L122.2,211.9M128.1,214.5 L133.9,217.7M138.3,222.8 L140.5,229.4M142.7,236.0 L147.8,238.9M154.3,241.8 L161.6,243.7M168.2,246.2 L173.0,249.6M92.3,251.3 L98.1,252.0M104.7,253.5 L110.5,255.7M116.4,259.3 L121.5,263.4M124.1,270.3 L124.1,277.6" fill="none" stroke="#fff" stroke-width="1.4" stroke-linecap="round" clip-path="url(#cpE2)"/>
<rect x="94.50" y="280.80" width="18.20" height="2.00" fill="#fff"/>
<text x="9.8" y="292.6" font-size="6.6" fill="#1a1a1a"><tspan fill="#58b25f">Tubβ3</tspan> <tspan fill="#8a8a8a">DAPI</tspan></text>
</g>
<g id="panel_f">
<text x="179.3" y="195.7" font-size="10.2" font-weight="bold" fill="#000">f</text>
<line x1="216.4" y1="203.4" x2="216.4" y2="289.3" stroke="#666" stroke-width="0.7"/>
<line x1="212.8" y1="289.3" x2="264.9" y2="289.3" stroke="#666" stroke-width="0.7"/>
<line x1="213.2" y1="289.3" x2="216.4" y2="289.3" stroke="#666" stroke-width="0.7"/>
<text x="209.2" y="291.6" font-size="6.6" text-anchor="end" fill="#1a1a1a">0</text>
<line x1="213.2" y1="272.18" x2="216.4" y2="272.18" stroke="#666" stroke-width="0.7"/>
<text x="209.2" y="274.48" font-size="6.6" text-anchor="end" fill="#1a1a1a">20</text>
<line x1="213.2" y1="255.06" x2="216.4" y2="255.06" stroke="#666" stroke-width="0.7"/>
<text x="209.2" y="257.36" font-size="6.6" text-anchor="end" fill="#1a1a1a">40</text>
<line x1="213.2" y1="237.94" x2="216.4" y2="237.94" stroke="#666" stroke-width="0.7"/>
<text x="209.2" y="240.24" font-size="6.6" text-anchor="end" fill="#1a1a1a">60</text>
<line x1="213.2" y1="220.82" x2="216.4" y2="220.82" stroke="#666" stroke-width="0.7"/>
<text x="209.2" y="223.12" font-size="6.6" text-anchor="end" fill="#1a1a1a">80</text>
<line x1="213.2" y1="203.7" x2="216.4" y2="203.7" stroke="#666" stroke-width="0.7"/>
<text x="209.2" y="206.0" font-size="6.6" text-anchor="end" fill="#1a1a1a">100</text>
<line x1="229.7" y1="289.3" x2="229.7" y2="292.1" stroke="#666" stroke-width="0.7"/>
<line x1="250.8" y1="289.3" x2="250.8" y2="292.1" stroke="#666" stroke-width="0.7"/>
<text x="229.7" y="301.9" font-size="6.6" text-anchor="middle" fill="#1a1a1a">CT</text>
<text x="250.8" y="301.9" font-size="6.6" text-anchor="middle" fill="#1a1a1a">PS</text>
<rect x="227.70" y="219.35" width="4.30" height="4.30" fill="#1f4f9e"/>
<rect x="227.70" y="229.27" width="4.30" height="4.30" fill="#1f4f9e"/>
<rect x="223.03" y="258.76" width="4.30" height="4.30" fill="#1f4f9e"/>
<rect x="227.70" y="254.38" width="4.30" height="4.30" fill="#1f4f9e"/>
<rect x="232.38" y="257.74" width="4.30" height="4.30" fill="#1f4f9e"/>
<rect x="248.58" y="209.13" width="4.30" height="4.30" fill="#d9272b"/>
<rect x="248.58" y="219.35" width="4.30" height="4.30" fill="#d9272b"/>
<rect x="248.58" y="225.19" width="4.30" height="4.30" fill="#d9272b"/>
<rect x="243.47" y="234.67" width="4.30" height="4.30" fill="#d9272b"/>
<rect x="253.69" y="238.62" width="4.30" height="4.30" fill="#d9272b"/>
<rect x="248.58" y="258.03" width="4.30" height="4.30" fill="#d9272b"/>
<line x1="229.9" y1="237.8" x2="229.9" y2="254.8" stroke="#222" stroke-width="0.7"/><line x1="223.3" y1="246.3" x2="236.9" y2="246.3" stroke="#222" stroke-width="0.7"/><line x1="227" y1="237.8" x2="233" y2="237.8" stroke="#222" stroke-width="0.7"/><line x1="227" y1="254.8" x2="233" y2="254.8" stroke="#222" stroke-width="0.7"/>
<line x1="250.8" y1="225.6" x2="250.8" y2="240.2" stroke="#222" stroke-width="0.7"/><line x1="244.2" y1="232.9" x2="257.6" y2="232.9" stroke="#222" stroke-width="0.7"/><line x1="247.8" y1="225.6" x2="253.8" y2="225.6" stroke="#222" stroke-width="0.7"/><line x1="247.8" y1="240.2" x2="253.8" y2="240.2" stroke="#222" stroke-width="0.7"/>
<path d="M229.7,215.7 V200.3 H251 V205.4" fill="none" stroke="#333" stroke-width="0.6"/>
<text x="240.4" y="198.3" font-size="6.6" text-anchor="middle" fill="#1a1a1a">NS</text>
<text x="185" y="246" font-size="6.6" text-anchor="middle" fill="#1a1a1a" transform="rotate(-90 185 246)">Tubβ3<tspan dy="-2.2" font-size="4">+</tspan><tspan dy="2.2" font-size="0.1"> </tspan> neuron length (mm)</text>
<text x="192.7" y="246" font-size="6.6" text-anchor="middle" fill="#1a1a1a" transform="rotate(-90 192.7 246)">normalized per 1 mm<tspan dy="-2.2" font-size="4">2</tspan><tspan dy="2.2" font-size="0.1"> </tspan></text>
</g>
<g id="panel_g">
<text x="274.8" y="195.9" font-size="10.2" font-weight="bold" fill="#000">g</text>
<line x1="299.9" y1="205.4" x2="299.9" y2="276" stroke="#555" stroke-width="0.75"/>
<line x1="299.9" y1="276" x2="370" y2="276" stroke="#555" stroke-width="0.75"/>
<line x1="298.59999999999997" y1="207" x2="299.9" y2="207" stroke="#555" stroke-width="0.4"/>
<line x1="298.59999999999997" y1="209" x2="299.9" y2="209" stroke="#555" stroke-width="0.4"/>
<line x1="298.59999999999997" y1="211.3" x2="299.9" y2="211.3" stroke="#555" stroke-width="0.4"/>
<line x1="298.59999999999997" y1="214" x2="299.9" y2="214" stroke="#555" stroke-width="0.4"/>
<line x1="298.59999999999997" y1="217" x2="299.9" y2="217" stroke="#555" stroke-width="0.4"/>
<line x1="298.59999999999997" y1="220.5" x2="299.9" y2="220.5" stroke="#555" stroke-width="0.4"/>
<line x1="298.59999999999997" y1="224" x2="299.9" y2="224" stroke="#555" stroke-width="0.4"/>
<line x1="298.59999999999997" y1="228.4" x2="299.9" y2="228.4" stroke="#555" stroke-width="0.4"/>
<line x1="298.59999999999997" y1="232" x2="299.9" y2="232" stroke="#555" stroke-width="0.4"/>
<line x1="298.59999999999997" y1="236" x2="299.9" y2="236" stroke="#555" stroke-width="0.4"/>
<line x1="298.59999999999997" y1="240" x2="299.9" y2="240" stroke="#555" stroke-width="0.4"/>
<line x1="298.59999999999997" y1="244" x2="299.9" y2="244" stroke="#555" stroke-width="0.4"/>
<line x1="298.59999999999997" y1="248.1" x2="299.9" y2="248.1" stroke="#555" stroke-width="0.4"/>
<line x1="298.59999999999997" y1="252" x2="299.9" y2="252" stroke="#555" stroke-width="0.4"/>
<line x1="298.59999999999997" y1="255" x2="299.9" y2="255" stroke="#555" stroke-width="0.4"/>
<line x1="298.59999999999997" y1="258.4" x2="299.9" y2="258.4" stroke="#555" stroke-width="0.4"/>
<line x1="298.59999999999997" y1="262" x2="299.9" y2="262" stroke="#555" stroke-width="0.4"/>
<line x1="298.59999999999997" y1="266" x2="299.9" y2="266" stroke="#555" stroke-width="0.4"/>
<line x1="298.59999999999997" y1="271.1" x2="299.9" y2="271.1" stroke="#555" stroke-width="0.4"/>
<line x1="298.59999999999997" y1="274" x2="299.9" y2="274" stroke="#555" stroke-width="0.4"/>
<line x1="303" y1="276" x2="303" y2="277" stroke="#555" stroke-width="0.4"/>
<line x1="307" y1="276" x2="307" y2="277" stroke="#555" stroke-width="0.4"/>
<line x1="311" y1="276" x2="311" y2="277" stroke="#555" stroke-width="0.4"/>
<line x1="314.5" y1="276" x2="314.5" y2="277" stroke="#555" stroke-width="0.4"/>
<line x1="318" y1="276" x2="318" y2="277" stroke="#555" stroke-width="0.4"/>
<line x1="322" y1="276" x2="322" y2="277" stroke="#555" stroke-width="0.4"/>
<line x1="327" y1="276" x2="327" y2="277" stroke="#555" stroke-width="0.4"/>
<line x1="332" y1="276" x2="332" y2="277" stroke="#555" stroke-width="0.4"/>
<line x1="337" y1="276" x2="337" y2="277" stroke="#555" stroke-width="0.4"/>
<line x1="342.3" y1="276" x2="342.3" y2="277" stroke="#555" stroke-width="0.4"/>
<line x1="346" y1="276" x2="346" y2="277" stroke="#555" stroke-width="0.4"/>
<line x1="350" y1="276" x2="350" y2="277" stroke="#555" stroke-width="0.4"/>
<line x1="354" y1="276" x2="354" y2="277" stroke="#555" stroke-width="0.4"/>
<line x1="357.6" y1="276" x2="357.6" y2="277" stroke="#555" stroke-width="0.4"/>
<line x1="361" y1="276" x2="361" y2="277" stroke="#555" stroke-width="0.4"/>
<line x1="364" y1="276" x2="364" y2="277" stroke="#555" stroke-width="0.4"/>
<line x1="367" y1="276" x2="367" y2="277" stroke="#555" stroke-width="0.4"/>
<rect x="298.90" y="257.20" width="1.30" height="2.60" fill="#000"/>
<rect x="313.30" y="275.80" width="2.40" height="1.30" fill="#000"/>
<text x="296.6" y="213.6" font-size="6.6" text-anchor="end" fill="#1a1a1a">10<tspan dy="-2.5" font-size="4.5">5</tspan><tspan dy="2.5" font-size="0.1"> </tspan></text>
<text x="296.6" y="230.7" font-size="6.6" text-anchor="end" fill="#1a1a1a">10<tspan dy="-2.5" font-size="4.5">4</tspan><tspan dy="2.5" font-size="0.1"> </tspan></text>
<text x="296.6" y="250.4" font-size="6.6" text-anchor="end" fill="#1a1a1a">10<tspan dy="-2.5" font-size="4.5">3</tspan><tspan dy="2.5" font-size="0.1"> </tspan></text>
<text x="296" y="260.7" font-size="6.6" text-anchor="end" fill="#1a1a1a">0</text>
<text x="296.6" y="273.4" font-size="6.6" text-anchor="end" fill="#1a1a1a">−10<tspan dy="-2.5" font-size="4.5">3</tspan><tspan dy="2.5" font-size="0.1"> </tspan></text>
<text x="314.5" y="286.1" font-size="6.6" text-anchor="middle" fill="#1a1a1a">0</text>
<text x="342.3" y="286.1" font-size="6.6" text-anchor="middle" fill="#1a1a1a">10<tspan dy="-2.5" font-size="4.5">4</tspan><tspan dy="2.5" font-size="0.1"> </tspan></text>
<text x="357.8" y="286.1" font-size="6.6" text-anchor="middle" fill="#1a1a1a">10<tspan dy="-2.5" font-size="4.5">5</tspan><tspan dy="2.5" font-size="0.1"> </tspan></text>
<rect x="316.4" y="222.5" width="31" height="26.5" fill="none" stroke="#666" stroke-width="0.5"/>
<text x="333" y="220" font-size="6.6" text-anchor="middle" fill="#1a1a1a">Immune cells</text>
<path d="M327.7,228.0C328.6,227.1 329.9,225.9 331.2,225.4C332.5,224.9 334.1,224.8 335.5,225.0C336.9,225.2 338.7,225.4 339.9,226.3C341.1,227.2 342.0,228.8 342.5,230.6C343.0,232.3 343.3,234.9 343.0,236.8C342.7,238.7 341.9,240.6 340.8,242.0C339.7,243.4 337.7,244.8 336.4,245.5C335.1,246.2 334.1,246.5 332.9,246.4C331.7,246.3 330.7,245.1 329.4,244.7C328.1,244.3 326.2,244.4 325.0,243.8C323.8,243.2 322.6,242.2 322.0,241.2C321.4,240.2 320.9,238.9 321.1,237.7C321.3,236.5 322.5,235.4 323.3,234.2C324.1,233.0 325.2,231.6 325.9,230.6C326.6,229.6 326.8,228.9 327.7,228.0Z" fill="#959595"/>
<path d="M327.6,228.0C328.5,227.1 329.8,226.0 331.2,225.4C332.5,224.9 334.1,224.7 335.5,224.9C337.0,225.0 338.6,225.5 339.8,226.4C340.9,227.3 341.9,228.8 342.4,230.5C343.0,232.3 343.4,234.9 343.1,236.8C342.9,238.7 342.0,240.6 340.9,242.0C339.8,243.4 337.8,244.6 336.4,245.4C335.1,246.1 334.1,246.6 332.9,246.5C331.8,246.4 330.7,245.2 329.4,244.8C328.1,244.3 326.3,244.3 325.1,243.7C323.8,243.1 322.7,242.2 322.1,241.2C321.4,240.2 320.8,238.7 321.0,237.6C321.3,236.4 322.6,235.3 323.4,234.2C324.2,233.1 325.3,231.7 326.0,230.7C326.7,229.7 326.8,228.9 327.6,228.0Z" fill="none" stroke="#5c5c5c" stroke-width="0.25" opacity="0.9"/>
<path d="M328.2,228.8C329.0,228.0 330.2,226.8 331.3,226.4C332.5,225.9 333.9,225.9 335.3,226.0C336.6,226.1 338.4,226.2 339.4,227.0C340.5,227.8 341.1,229.3 341.6,230.9C342.1,232.6 342.5,234.9 342.3,236.7C342.1,238.4 341.2,240.1 340.2,241.4C339.2,242.7 337.3,243.9 336.1,244.6C334.9,245.3 333.9,245.6 332.9,245.5C331.8,245.4 330.9,244.4 329.7,244.0C328.6,243.7 326.9,243.8 325.8,243.2C324.6,242.7 323.7,241.8 323.1,240.9C322.5,239.9 322.0,238.5 322.2,237.4C322.4,236.4 323.5,235.5 324.2,234.5C325.0,233.4 326.0,232.0 326.6,231.0C327.3,230.1 327.4,229.6 328.2,228.8Z" fill="none" stroke="#5c5c5c" stroke-width="0.25" opacity="0.9"/>
<path d="M328.7,229.2C329.5,228.5 330.6,227.6 331.6,227.2C332.7,226.7 333.8,226.5 335.0,226.7C336.2,226.8 337.9,227.2 338.9,228.0C339.8,228.8 340.4,230.1 340.8,231.5C341.2,233.0 341.5,234.9 341.3,236.5C341.1,238.1 340.3,239.8 339.4,241.0C338.6,242.2 337.0,243.1 336.0,243.7C334.9,244.3 334.0,244.5 333.0,244.4C332.0,244.3 331.2,243.4 330.1,243.1C329.0,242.8 327.5,243.0 326.5,242.6C325.5,242.1 324.5,241.3 323.9,240.4C323.3,239.5 322.9,238.2 323.1,237.2C323.3,236.2 324.4,235.3 325.0,234.3C325.7,233.3 326.4,232.3 327.1,231.4C327.7,230.6 327.9,229.9 328.7,229.2Z" fill="none" stroke="#5c5c5c" stroke-width="0.25" opacity="0.9"/>
<path d="M329.1,229.8C329.8,229.2 330.6,228.4 331.6,228.1C332.5,227.8 333.7,227.8 334.9,227.8C336.0,227.9 337.4,228.0 338.3,228.6C339.2,229.3 339.7,230.6 340.1,231.9C340.5,233.2 340.8,235.1 340.5,236.5C340.3,237.9 339.7,239.3 338.9,240.4C338.1,241.5 336.7,242.4 335.7,243.0C334.7,243.5 333.9,243.8 333.0,243.7C332.1,243.6 331.2,242.7 330.3,242.3C329.3,242.0 328.1,242.2 327.2,241.7C326.3,241.3 325.4,240.4 324.9,239.6C324.4,238.9 324.0,238.0 324.2,237.2C324.3,236.3 325.1,235.5 325.7,234.6C326.3,233.7 327.2,232.5 327.8,231.7C328.4,231.0 328.5,230.4 329.1,229.8Z" fill="none" stroke="#5c5c5c" stroke-width="0.25" opacity="0.9"/>
<path d="M329.6,230.6C330.2,230.0 331.1,229.1 331.9,228.8C332.8,228.5 333.9,228.6 334.8,228.7C335.7,228.8 336.7,228.7 337.5,229.3C338.2,230.0 339.0,231.3 339.4,232.4C339.7,233.6 339.8,235.2 339.6,236.4C339.4,237.6 339.0,238.8 338.2,239.8C337.5,240.7 336.2,241.6 335.3,242.1C334.4,242.6 333.7,242.8 333.0,242.8C332.2,242.7 331.5,241.9 330.6,241.6C329.8,241.3 328.7,241.2 327.9,240.9C327.1,240.5 326.3,240.0 325.8,239.4C325.4,238.7 325.0,237.7 325.2,236.9C325.3,236.1 326.2,235.4 326.8,234.6C327.3,233.8 327.8,233.0 328.3,232.3C328.8,231.6 329.0,231.2 329.6,230.6Z" fill="none" stroke="#5c5c5c" stroke-width="0.25" opacity="0.9"/>
<path d="M330.1,231.1C330.6,230.6 331.2,230.0 332.0,229.7C332.8,229.4 333.8,229.4 334.6,229.5C335.5,229.6 336.5,229.6 337.2,230.2C337.8,230.7 338.2,231.7 338.5,232.8C338.8,233.8 339.1,235.2 339.0,236.3C338.8,237.3 338.1,238.3 337.5,239.2C336.8,240.0 335.8,240.7 335.0,241.2C334.3,241.7 333.8,242.0 333.1,241.9C332.4,241.8 331.7,241.0 330.9,240.8C330.2,240.5 329.3,240.7 328.6,240.4C327.9,240.0 327.3,239.4 326.9,238.8C326.4,238.2 326.0,237.4 326.1,236.7C326.3,236.1 327.1,235.4 327.6,234.7C328.1,234.1 328.5,233.3 329.0,232.7C329.4,232.1 329.6,231.6 330.1,231.1Z" fill="none" stroke="#5c5c5c" stroke-width="0.25" opacity="0.9"/>
<path d="M330.5,231.8C330.9,231.4 331.7,230.7 332.3,230.5C333.0,230.3 333.5,230.4 334.2,230.5C334.9,230.7 336.0,230.7 336.6,231.2C337.2,231.6 337.5,232.5 337.7,233.3C338.0,234.1 338.3,235.2 338.1,236.1C338.0,237.0 337.5,238.1 337.0,238.8C336.4,239.6 335.5,240.1 334.8,240.5C334.1,240.8 333.6,240.9 333.0,240.8C332.4,240.8 331.9,240.1 331.3,239.9C330.6,239.7 329.8,239.8 329.2,239.6C328.6,239.3 328.1,238.7 327.8,238.2C327.5,237.7 327.3,237.2 327.4,236.7C327.5,236.2 328.1,235.6 328.5,235.0C328.9,234.4 329.4,233.7 329.7,233.2C330.1,232.6 330.0,232.3 330.5,231.8Z" fill="none" stroke="#5c5c5c" stroke-width="0.25" opacity="0.9"/>
<path d="M330.8,232.6C331.2,232.2 331.7,231.6 332.3,231.4C332.9,231.2 333.6,231.2 334.2,231.3C334.8,231.4 335.4,231.6 335.9,232.0C336.4,232.3 336.8,232.8 337.0,233.5C337.2,234.2 337.2,235.4 337.1,236.2C337.0,237.0 336.7,237.7 336.3,238.3C335.8,238.8 335.0,239.2 334.5,239.5C333.9,239.8 333.6,240.1 333.1,240.1C332.6,240.0 332.1,239.5 331.6,239.4C331.0,239.2 330.5,239.3 330.0,239.0C329.5,238.7 329.0,238.1 328.8,237.7C328.5,237.3 328.3,237.0 328.3,236.6C328.4,236.1 328.7,235.5 329.1,235.0C329.4,234.5 329.9,234.0 330.2,233.6C330.5,233.2 330.5,233.0 330.8,232.6Z" fill="none" stroke="#5c5c5c" stroke-width="0.25" opacity="0.9"/>
<path d="M331.4,233.2C331.7,232.9 332.2,232.4 332.6,232.2C333.0,232.0 333.4,232.0 333.8,232.1C334.2,232.1 334.8,232.2 335.2,232.5C335.7,232.8 336.2,233.5 336.3,234.1C336.5,234.7 336.3,235.4 336.2,236.0C336.1,236.6 335.9,237.1 335.6,237.6C335.2,238.1 334.6,238.6 334.2,238.8C333.8,239.0 333.5,239.1 333.1,239.0C332.7,239.0 332.3,238.6 331.9,238.5C331.4,238.3 330.8,238.4 330.5,238.2C330.1,238.1 329.9,237.7 329.7,237.4C329.5,237.0 329.1,236.5 329.2,236.2C329.3,235.8 329.7,235.6 330.0,235.2C330.3,234.8 330.7,234.3 330.9,234.0C331.2,233.6 331.1,233.5 331.4,233.2Z" fill="none" stroke="#5c5c5c" stroke-width="0.25" opacity="0.9"/>
<path d="M332.0,233.9C332.2,233.6 332.4,233.3 332.7,233.2C333.0,233.1 333.4,233.1 333.7,233.2C334.1,233.2 334.5,233.3 334.8,233.5C335.0,233.7 335.2,233.9 335.4,234.3C335.5,234.8 335.6,235.5 335.5,235.9C335.4,236.4 335.1,236.7 334.9,237.1C334.6,237.4 334.2,237.9 333.9,238.0C333.7,238.2 333.5,238.1 333.3,238.1C333.0,238.1 332.8,237.9 332.4,237.8C332.1,237.7 331.5,237.7 331.2,237.5C330.9,237.4 330.6,237.2 330.5,237.0C330.3,236.8 330.3,236.5 330.4,236.2C330.5,235.9 330.8,235.6 331.0,235.3C331.2,235.0 331.4,234.7 331.6,234.4C331.7,234.2 331.8,234.1 332.0,233.9Z" fill="none" stroke="#5c5c5c" stroke-width="0.25" opacity="0.9"/>
<path d="M332.3,234.5C332.4,234.3 332.5,234.1 332.8,234.0C333.0,233.9 333.4,233.9 333.6,233.9C333.8,233.9 333.9,233.9 334.1,234.1C334.3,234.2 334.6,234.5 334.7,234.8C334.8,235.1 334.6,235.6 334.5,235.9C334.4,236.2 334.4,236.4 334.2,236.7C334.1,236.9 333.9,237.1 333.7,237.2C333.6,237.3 333.5,237.3 333.3,237.2C333.1,237.2 332.9,236.9 332.7,236.8C332.5,236.8 332.2,236.9 332.1,236.8C331.9,236.7 331.7,236.5 331.6,236.3C331.5,236.2 331.5,236.2 331.5,236.0C331.5,235.9 331.5,235.5 331.6,235.3C331.7,235.2 332.0,235.1 332.1,234.9C332.2,234.8 332.2,234.7 332.3,234.5Z" fill="none" stroke="#5c5c5c" stroke-width="0.25" opacity="0.9"/>
<ellipse cx="330.00" cy="226.80" rx="1.60" ry="1.20" transform="rotate(-30 330.00 226.80)" fill="none" stroke="#bbb" stroke-width="0.3" opacity="0.9"/><ellipse cx="329.92" cy="226.83" rx="0.80" ry="0.60" transform="rotate(-30 330.00 226.80)" fill="none" stroke="#bbb" stroke-width="0.3" opacity="0.9"/>
<ellipse cx="332.80" cy="245.60" rx="1.60" ry="0.90" transform="rotate(0 332.80 245.60)" fill="none" stroke="#bbb" stroke-width="0.3" opacity="0.9"/><ellipse cx="332.76" cy="245.57" rx="0.80" ry="0.45" transform="rotate(0 332.80 245.60)" fill="none" stroke="#bbb" stroke-width="0.3" opacity="0.9"/>
<ellipse cx="324.5" cy="259.8" rx="16" ry="2.8" fill="#929292"/>
<ellipse cx="325.00" cy="259.80" rx="17.80" ry="3.30" transform="rotate(0 325.00 259.80)" fill="none" stroke="#5e5e5e" stroke-width="0.25" opacity="0.9"/><ellipse cx="324.98" cy="259.80" rx="16.17" ry="3.00" transform="rotate(0 325.00 259.80)" fill="none" stroke="#5e5e5e" stroke-width="0.25" opacity="0.9"/><ellipse cx="325.05" cy="259.79" rx="14.54" ry="2.69" transform="rotate(0 325.00 259.80)" fill="none" stroke="#5e5e5e" stroke-width="0.25" opacity="0.9"/><ellipse cx="325.04" cy="259.74" rx="12.90" ry="2.39" transform="rotate(0 325.00 259.80)" fill="none" stroke="#5e5e5e" stroke-width="0.25" opacity="0.9"/><ellipse cx="325.04" cy="259.86" rx="11.27" ry="2.09" transform="rotate(0 325.00 259.80)" fill="none" stroke="#5e5e5e" stroke-width="0.25" opacity="0.9"/><ellipse cx="325.05" cy="259.80" rx="9.64" ry="1.79" transform="rotate(0 325.00 259.80)" fill="none" stroke="#5e5e5e" stroke-width="0.25" opacity="0.9"/><ellipse cx="324.99" cy="259.85" rx="8.01" ry="1.48" transform="rotate(0 325.00 259.80)" fill="none" stroke="#5e5e5e" stroke-width="0.25" opacity="0.9"/>
<ellipse cx="354.40" cy="255.40" rx="1.90" ry="4.60" transform="rotate(0 354.40 255.40)" fill="none" stroke="#666" stroke-width="0.3" opacity="0.9"/><ellipse cx="354.34" cy="255.43" rx="1.46" ry="3.53" transform="rotate(0 354.40 255.40)" fill="none" stroke="#666" stroke-width="0.3" opacity="0.9"/><ellipse cx="354.52" cy="255.40" rx="1.01" ry="2.45" transform="rotate(0 354.40 255.40)" fill="none" stroke="#666" stroke-width="0.3" opacity="0.9"/><ellipse cx="354.38" cy="255.49" rx="0.57" ry="1.38" transform="rotate(0 354.40 255.40)" fill="none" stroke="#666" stroke-width="0.3" opacity="0.9"/>
<ellipse cx="357.20" cy="258.40" rx="2.80" ry="1.80" transform="rotate(0 357.20 258.40)" fill="none" stroke="#666" stroke-width="0.3" opacity="0.9"/><ellipse cx="357.15" cy="258.42" rx="1.96" ry="1.26" transform="rotate(0 357.20 258.40)" fill="none" stroke="#666" stroke-width="0.3" opacity="0.9"/><ellipse cx="357.13" cy="258.30" rx="1.12" ry="0.72" transform="rotate(0 357.20 258.40)" fill="none" stroke="#666" stroke-width="0.3" opacity="0.9"/>
<text x="280.3" y="242" font-size="6.6" text-anchor="middle" fill="#1a1a1a" transform="rotate(-90 280.3 242)">CD45</text>
<path d="M277.6,255 V294.5 H319.8" fill="none" stroke="#333" stroke-width="0.5"/><path d="M276.5,255.6 L277.6,253 L278.70000000000005,255.6Z" fill="#333"/><path d="M319.2,293.4 L321.8,294.5 L319.2,295.6Z" fill="#333"/>
<text x="324.3" y="296.7" font-size="6.6" fill="#1a1a1a">Viability</text>
<text x="435" y="201.7" font-size="6.6" text-anchor="middle" fill="#1a1a1a">Among CD45<tspan dy="-2.4" font-size="4">+</tspan><tspan dy="2.4" font-size="0.1"> </tspan></text>
<line x1="400.9" y1="206.4" x2="400.9" y2="276.1" stroke="#555" stroke-width="0.75"/>
<line x1="400.9" y1="276.1" x2="471" y2="276.1" stroke="#555" stroke-width="0.75"/>
<line x1="399.59999999999997" y1="208" x2="400.9" y2="208" stroke="#555" stroke-width="0.4"/>
<line x1="399.59999999999997" y1="210" x2="400.9" y2="210" stroke="#555" stroke-width="0.4"/>
<line x1="399.59999999999997" y1="212.2" x2="400.9" y2="212.2" stroke="#555" stroke-width="0.4"/>
<line x1="399.59999999999997" y1="215" x2="400.9" y2="215" stroke="#555" stroke-width="0.4"/>
<line x1="399.59999999999997" y1="218" x2="400.9" y2="218" stroke="#555" stroke-width="0.4"/>
<line x1="399.59999999999997" y1="221" x2="400.9" y2="221" stroke="#555" stroke-width="0.4"/>
<line x1="399.59999999999997" y1="225" x2="400.9" y2="225" stroke="#555" stroke-width="0.4"/>
<line x1="399.59999999999997" y1="228.8" x2="400.9" y2="228.8" stroke="#555" stroke-width="0.4"/>
<line x1="399.59999999999997" y1="232" x2="400.9" y2="232" stroke="#555" stroke-width="0.4"/>
<line x1="399.59999999999997" y1="236" x2="400.9" y2="236" stroke="#555" stroke-width="0.4"/>
<line x1="399.59999999999997" y1="240" x2="400.9" y2="240" stroke="#555" stroke-width="0.4"/>
<line x1="399.59999999999997" y1="244" x2="400.9" y2="244" stroke="#555" stroke-width="0.4"/>
<line x1="399.59999999999997" y1="248.1" x2="400.9" y2="248.1" stroke="#555" stroke-width="0.4"/>
<line x1="399.59999999999997" y1="252" x2="400.9" y2="252" stroke="#555" stroke-width="0.4"/>
<line x1="399.59999999999997" y1="256" x2="400.9" y2="256" stroke="#555" stroke-width="0.4"/>
<line x1="399.59999999999997" y1="259.5" x2="400.9" y2="259.5" stroke="#555" stroke-width="0.4"/>
<line x1="399.59999999999997" y1="263" x2="400.9" y2="263" stroke="#555" stroke-width="0.4"/>
<line x1="399.59999999999997" y1="267" x2="400.9" y2="267" stroke="#555" stroke-width="0.4"/>
<line x1="399.59999999999997" y1="271.7" x2="400.9" y2="271.7" stroke="#555" stroke-width="0.4"/>
<line x1="399.59999999999997" y1="274" x2="400.9" y2="274" stroke="#555" stroke-width="0.4"/>
<line x1="404.4" y1="276.1" x2="404.4" y2="277.1" stroke="#555" stroke-width="0.4"/>
<line x1="408" y1="276.1" x2="408" y2="277.1" stroke="#555" stroke-width="0.4"/>
<line x1="412" y1="276.1" x2="412" y2="277.1" stroke="#555" stroke-width="0.4"/>
<line x1="416.3" y1="276.1" x2="416.3" y2="277.1" stroke="#555" stroke-width="0.4"/>
<line x1="420" y1="276.1" x2="420" y2="277.1" stroke="#555" stroke-width="0.4"/>
<line x1="424" y1="276.1" x2="424" y2="277.1" stroke="#555" stroke-width="0.4"/>
<line x1="427" y1="276.1" x2="427" y2="277.1" stroke="#555" stroke-width="0.4"/>
<line x1="430.7" y1="276.1" x2="430.7" y2="277.1" stroke="#555" stroke-width="0.4"/>
<line x1="435" y1="276.1" x2="435" y2="277.1" stroke="#555" stroke-width="0.4"/>
<line x1="439" y1="276.1" x2="439" y2="277.1" stroke="#555" stroke-width="0.4"/>
<line x1="443" y1="276.1" x2="443" y2="277.1" stroke="#555" stroke-width="0.4"/>
<line x1="446" y1="276.1" x2="446" y2="277.1" stroke="#555" stroke-width="0.4"/>
<line x1="449" y1="276.1" x2="449" y2="277.1" stroke="#555" stroke-width="0.4"/>
<line x1="453" y1="276.1" x2="453" y2="277.1" stroke="#555" stroke-width="0.4"/>
<line x1="457" y1="276.1" x2="457" y2="277.1" stroke="#555" stroke-width="0.4"/>
<line x1="461" y1="276.1" x2="461" y2="277.1" stroke="#555" stroke-width="0.4"/>
<line x1="464" y1="276.1" x2="464" y2="277.1" stroke="#555" stroke-width="0.4"/>
<line x1="466.6" y1="276.1" x2="466.6" y2="277.1" stroke="#555" stroke-width="0.4"/>
<line x1="469" y1="276.1" x2="469" y2="277.1" stroke="#555" stroke-width="0.4"/>
<rect x="399.90" y="258.30" width="1.30" height="2.60" fill="#000"/>
<rect x="415.10" y="275.90" width="2.40" height="1.30" fill="#000"/>
<text x="398" y="214.5" font-size="6.6" text-anchor="end" fill="#1a1a1a">10<tspan dy="-2.5" font-size="4.5">5</tspan><tspan dy="2.5" font-size="0.1"> </tspan></text>
<text x="398" y="231.1" font-size="6.6" text-anchor="end" fill="#1a1a1a">10<tspan dy="-2.5" font-size="4.5">4</tspan><tspan dy="2.5" font-size="0.1"> </tspan></text>
<text x="398" y="250.4" font-size="6.6" text-anchor="end" fill="#1a1a1a">10<tspan dy="-2.5" font-size="4.5">3</tspan><tspan dy="2.5" font-size="0.1"> </tspan></text>
<text x="397.4" y="261.8" font-size="6.6" text-anchor="end" fill="#1a1a1a">0</text>
<text x="398" y="274" font-size="6.6" text-anchor="end" fill="#1a1a1a">−10<tspan dy="-2.5" font-size="4.5">3</tspan><tspan dy="2.5" font-size="0.1"> </tspan></text>
<text x="404.6" y="287.2" font-size="6.6" text-anchor="middle" fill="#1a1a1a">−10<tspan dy="-2.5" font-size="4.5">3</tspan><tspan dy="2.5" font-size="0.1"> </tspan></text>
<text x="416.3" y="287.2" font-size="6.6" text-anchor="middle" fill="#1a1a1a">0</text>
<text x="431" y="287.2" font-size="6.6" text-anchor="middle" fill="#1a1a1a">10<tspan dy="-2.5" font-size="4.5">3</tspan><tspan dy="2.5" font-size="0.1"> </tspan></text>
<text x="449.4" y="287.2" font-size="6.6" text-anchor="middle" fill="#1a1a1a">10<tspan dy="-2.5" font-size="4.5">4</tspan><tspan dy="2.5" font-size="0.1"> </tspan></text>
<text x="466.8" y="287.2" font-size="6.6" text-anchor="middle" fill="#1a1a1a">10<tspan dy="-2.5" font-size="4.5">5</tspan><tspan dy="2.5" font-size="0.1"> </tspan></text>
<path d="M410.5,252 C411.5,244 413.5,238 417.5,232.5 L422,236 C418.5,241 417.5,247 417.5,253Z" fill="#c4c4c4"/>
<path d="M410.0,251 C411.5,243 413.5,238 418.0,232.5" fill="none" stroke="#7a7a7a" stroke-width="0.3"/>
<path d="M411.4,251 C412.8,243 414.7,238 419.0,233.2" fill="none" stroke="#7a7a7a" stroke-width="0.3"/>
<path d="M412.8,251 C414.1,243 415.9,238 420.0,233.9" fill="none" stroke="#7a7a7a" stroke-width="0.3"/>
<path d="M414.2,251 C415.4,243 417.1,238 421.0,234.6" fill="none" stroke="#7a7a7a" stroke-width="0.3"/>
<path d="M415.6,251 C416.7,243 418.3,238 422.0,235.3" fill="none" stroke="#7a7a7a" stroke-width="0.3"/>
<defs><linearGradient id="gUp" x1="0" x2="1"><stop offset="0" stop-color="#d2d2d2"/><stop offset="0.3" stop-color="#a6a6a6"/><stop offset="0.55" stop-color="#8e8e8e"/><stop offset="1" stop-color="#8a8a8a"/></linearGradient></defs>
<path d="M421.3,228.6C422.2,227.6 423.4,226.5 424.8,225.6C426.2,224.7 428.2,223.7 430.0,223.0C431.8,222.3 433.6,221.6 435.3,221.2C437.1,220.8 439.1,220.3 440.5,220.3C441.9,220.3 443.2,220.6 444.0,221.2C444.8,221.8 445.2,222.8 445.1,223.8C445.0,224.8 444.5,226.1 443.6,227.3C442.7,228.5 441.2,229.8 439.7,230.8C438.2,231.8 436.1,232.8 434.4,233.5C432.6,234.2 430.9,234.8 429.2,235.2C427.4,235.5 425.4,235.8 423.9,235.6C422.4,235.4 421.1,234.6 420.4,233.9C419.7,233.2 419.4,232.2 419.5,231.3C419.6,230.4 420.4,229.6 421.3,228.6Z" fill="url(#gUp)"/>
<path d="M421.3,228.6C422.2,227.6 423.4,226.5 424.8,225.6C426.2,224.7 428.2,223.7 430.0,223.0C431.8,222.3 433.6,221.6 435.3,221.2C437.1,220.8 439.1,220.3 440.5,220.3C441.9,220.3 443.2,220.6 444.0,221.2C444.8,221.8 445.2,222.8 445.1,223.8C445.0,224.8 444.5,226.1 443.6,227.3C442.7,228.5 441.2,229.8 439.7,230.8C438.2,231.8 436.1,232.8 434.4,233.5C432.6,234.2 430.9,234.8 429.2,235.2C427.4,235.5 425.4,235.8 423.9,235.6C422.4,235.4 421.1,234.6 420.4,233.9C419.7,233.2 419.4,232.2 419.5,231.3C419.6,230.4 420.4,229.6 421.3,228.6Z" fill="none" stroke="#666" stroke-width="0.25" opacity="0.85"/>
<path d="M422.8,228.4C423.6,227.6 424.7,226.6 426.0,225.7C427.3,224.9 429.1,224.0 430.6,223.4C432.2,222.7 433.8,222.2 435.4,221.8C437.0,221.4 438.8,221.0 440.1,221.0C441.4,221.0 442.6,221.2 443.2,221.8C443.9,222.3 444.3,223.2 444.2,224.1C444.2,225.0 443.7,226.2 442.9,227.2C442.1,228.3 440.8,229.5 439.4,230.4C438.0,231.3 436.2,232.2 434.6,232.8C433.0,233.5 431.5,234.0 429.9,234.4C428.4,234.7 426.5,234.9 425.2,234.7C423.8,234.5 422.7,233.8 422.0,233.2C421.4,232.5 421.1,231.6 421.2,230.9C421.3,230.1 422.0,229.3 422.8,228.4Z" fill="none" stroke="#666" stroke-width="0.25" opacity="0.85"/>
<path d="M424.3,228.2C425.0,227.5 426.0,226.6 427.1,225.8C428.3,225.1 429.9,224.3 431.3,223.8C432.7,223.2 434.1,222.7 435.5,222.3C436.9,222.0 438.5,221.6 439.7,221.6C440.9,221.6 441.9,221.9 442.5,222.3C443.1,222.8 443.4,223.6 443.4,224.4C443.3,225.2 442.9,226.3 442.2,227.2C441.5,228.1 440.3,229.2 439.1,230.0C437.8,230.8 436.2,231.6 434.8,232.2C433.4,232.7 432.1,233.2 430.7,233.5C429.3,233.8 427.6,234.0 426.4,233.8C425.2,233.7 424.2,233.1 423.6,232.5C423.0,231.9 422.8,231.1 422.9,230.4C423.0,229.7 423.6,229.0 424.3,228.2Z" fill="none" stroke="#666" stroke-width="0.25" opacity="0.85"/>
<path d="M425.9,228.1C426.5,227.4 427.3,226.6 428.3,226.0C429.3,225.3 430.7,224.7 431.9,224.1C433.2,223.6 434.4,223.2 435.7,222.9C436.9,222.6 438.3,222.2 439.3,222.2C440.3,222.2 441.2,222.5 441.8,222.9C442.3,223.3 442.6,224.0 442.5,224.7C442.5,225.4 442.1,226.3 441.5,227.2C440.8,228.0 439.8,228.9 438.7,229.6C437.7,230.3 436.3,231.0 435.0,231.5C433.8,232.0 432.6,232.4 431.4,232.7C430.2,232.9 428.7,233.1 427.7,233.0C426.7,232.8 425.7,232.3 425.2,231.8C424.7,231.3 424.5,230.6 424.6,230.0C424.7,229.3 425.2,228.7 425.9,228.1Z" fill="none" stroke="#666" stroke-width="0.25" opacity="0.85"/>
<path d="M427.4,227.9C427.9,227.3 428.6,226.6 429.5,226.1C430.4,225.5 431.6,225.0 432.6,224.5C433.7,224.1 434.7,223.7 435.8,223.4C436.8,223.2 438.0,222.9 438.9,222.9C439.8,222.9 440.5,223.1 441.0,223.4C441.5,223.8 441.7,224.4 441.7,225.0C441.6,225.6 441.3,226.4 440.8,227.1C440.2,227.8 439.3,228.6 438.4,229.2C437.5,229.8 436.3,230.4 435.2,230.8C434.2,231.3 433.2,231.6 432.1,231.8C431.1,232.1 429.8,232.2 428.9,232.1C428.1,232.0 427.3,231.5 426.8,231.1C426.4,230.6 426.2,230.0 426.3,229.5C426.4,229.0 426.9,228.4 427.4,227.9Z" fill="none" stroke="#666" stroke-width="0.25" opacity="0.85"/>
<path d="M428.9,227.7C429.3,227.2 429.9,226.7 430.6,226.2C431.4,225.7 432.4,225.3 433.2,224.9C434.1,224.5 435.0,224.2 435.9,224.0C436.8,223.8 437.8,223.6 438.5,223.6C439.2,223.6 439.9,223.7 440.2,224.0C440.6,224.3 440.8,224.8 440.8,225.3C440.8,225.8 440.5,226.5 440.1,227.1C439.6,227.6 438.9,228.3 438.1,228.8C437.3,229.3 436.3,229.8 435.4,230.2C434.6,230.5 433.7,230.8 432.9,231.0C432.0,231.2 430.9,231.3 430.2,231.2C429.5,231.1 428.8,230.7 428.4,230.4C428.1,230.0 427.9,229.5 428.0,229.1C428.1,228.6 428.5,228.2 428.9,227.7Z" fill="none" stroke="#666" stroke-width="0.25" opacity="0.85"/>
<path d="M430.4,227.5C430.8,227.1 431.2,226.7 431.8,226.3C432.4,225.9 433.2,225.6 433.9,225.3C434.6,225.0 435.3,224.7 436.0,224.6C436.7,224.4 437.5,224.2 438.1,224.2C438.7,224.2 439.2,224.3 439.5,224.6C439.8,224.8 440.0,225.2 439.9,225.6C439.9,226.0 439.7,226.5 439.3,227.0C439.0,227.5 438.4,228.0 437.8,228.4C437.2,228.8 436.4,229.2 435.7,229.5C435.0,229.8 434.3,230.0 433.6,230.2C432.9,230.3 432.0,230.4 431.5,230.3C430.9,230.2 430.4,229.9 430.1,229.6C429.8,229.4 429.6,229.0 429.7,228.6C429.8,228.2 430.1,227.9 430.4,227.5Z" fill="none" stroke="#666" stroke-width="0.25" opacity="0.85"/>
<path d="M431.9,227.3C432.2,227.1 432.6,226.7 433.0,226.4C433.4,226.2 434.0,225.9 434.6,225.7C435.1,225.4 435.6,225.3 436.1,225.1C436.7,225.0 437.3,224.9 437.7,224.9C438.1,224.9 438.5,224.9 438.8,225.1C439.0,225.3 439.1,225.6 439.1,225.9C439.1,226.2 438.9,226.6 438.6,227.0C438.4,227.3 437.9,227.7 437.5,228.0C437.0,228.3 436.4,228.6 435.9,228.8C435.3,229.0 434.8,229.2 434.3,229.3C433.8,229.4 433.2,229.5 432.7,229.4C432.3,229.4 431.9,229.1 431.7,228.9C431.5,228.7 431.4,228.4 431.4,228.2C431.4,227.9 431.7,227.6 431.9,227.3Z" fill="none" stroke="#666" stroke-width="0.25" opacity="0.85"/>
<circle cx="436.30" cy="227.00" r="0.4" fill="#eee"/>
<ellipse cx="412.6" cy="256.5" rx="5.8" ry="6.5" fill="#858585"/>
<ellipse cx="412.60" cy="256.50" rx="6.20" ry="6.90" transform="rotate(0 412.60 256.50)" fill="none" stroke="#6a6a6a" stroke-width="0.25" opacity="0.9"/><ellipse cx="412.58" cy="256.52" rx="5.27" ry="5.87" transform="rotate(0 412.60 256.50)" fill="none" stroke="#6a6a6a" stroke-width="0.25" opacity="0.9"/><ellipse cx="412.58" cy="256.56" rx="4.34" ry="4.83" transform="rotate(0 412.60 256.50)" fill="none" stroke="#6a6a6a" stroke-width="0.25" opacity="0.9"/><ellipse cx="412.62" cy="256.44" rx="3.41" ry="3.80" transform="rotate(0 412.60 256.50)" fill="none" stroke="#6a6a6a" stroke-width="0.25" opacity="0.9"/><ellipse cx="412.50" cy="256.33" rx="2.48" ry="2.76" transform="rotate(0 412.60 256.50)" fill="none" stroke="#6a6a6a" stroke-width="0.25" opacity="0.9"/>
<rect x="406.2" y="249" width="16.3" height="15.7" fill="none" stroke="#666" stroke-width="0.5"/>
<text x="424.2" y="259.4" font-size="6.6" fill="#1a1a1a">Lin<tspan dy="-2.4" font-size="4">−</tspan><tspan dy="2.4" font-size="0.1"> </tspan></text>
<text x="383" y="242" font-size="6.6" text-anchor="middle" fill="#1a1a1a" transform="rotate(-90 383 242)">CD64</text>
<path d="M379.9,254.4 V295.4 H422.6" fill="none" stroke="#333" stroke-width="0.5"/><path d="M378.79999999999995,255.0 L379.9,252.4 L381.0,255.0Z" fill="#333"/><path d="M422.0,294.29999999999995 L424.6,295.4 L422.0,296.5Z" fill="#333"/>
<text x="427.3" y="297.5" font-size="6.6" fill="#1a1a1a">F4/80</text>
<text x="535" y="201.7" font-size="6.6" text-anchor="middle" fill="#1a1a1a">Among CD45<tspan dy="-2.4" font-size="4">+</tspan><tspan dy="2.4" font-size="0.1"> </tspan>Lin<tspan dy="-2.4" font-size="4">−</tspan><tspan dy="2.4" font-size="0.1"> </tspan></text>
<line x1="499.5" y1="205.7" x2="499.5" y2="276.1" stroke="#555" stroke-width="0.75"/>
<line x1="499.5" y1="276.1" x2="570" y2="276.1" stroke="#555" stroke-width="0.75"/>
<line x1="498.2" y1="208" x2="499.5" y2="208" stroke="#555" stroke-width="0.4"/>
<line x1="498.2" y1="210" x2="499.5" y2="210" stroke="#555" stroke-width="0.4"/>
<line x1="498.2" y1="211.6" x2="499.5" y2="211.6" stroke="#555" stroke-width="0.4"/>
<line x1="498.2" y1="214" x2="499.5" y2="214" stroke="#555" stroke-width="0.4"/>
<line x1="498.2" y1="217" x2="499.5" y2="217" stroke="#555" stroke-width="0.4"/>
<line x1="498.2" y1="220" x2="499.5" y2="220" stroke="#555" stroke-width="0.4"/>
<line x1="498.2" y1="224" x2="499.5" y2="224" stroke="#555" stroke-width="0.4"/>
<line x1="498.2" y1="227.9" x2="499.5" y2="227.9" stroke="#555" stroke-width="0.4"/>
<line x1="498.2" y1="231" x2="499.5" y2="231" stroke="#555" stroke-width="0.4"/>
<line x1="498.2" y1="235" x2="499.5" y2="235" stroke="#555" stroke-width="0.4"/>
<line x1="498.2" y1="239" x2="499.5" y2="239" stroke="#555" stroke-width="0.4"/>
<line x1="498.2" y1="243" x2="499.5" y2="243" stroke="#555" stroke-width="0.4"/>
<line x1="498.2" y1="247.2" x2="499.5" y2="247.2" stroke="#555" stroke-width="0.4"/>
<line x1="498.2" y1="251" x2="499.5" y2="251" stroke="#555" stroke-width="0.4"/>
<line x1="498.2" y1="255" x2="499.5" y2="255" stroke="#555" stroke-width="0.4"/>
<line x1="498.2" y1="258.6" x2="499.5" y2="258.6" stroke="#555" stroke-width="0.4"/>
<line x1="498.2" y1="262" x2="499.5" y2="262" stroke="#555" stroke-width="0.4"/>
<line x1="498.2" y1="266" x2="499.5" y2="266" stroke="#555" stroke-width="0.4"/>
<line x1="498.2" y1="271.4" x2="499.5" y2="271.4" stroke="#555" stroke-width="0.4"/>
<line x1="498.2" y1="274" x2="499.5" y2="274" stroke="#555" stroke-width="0.4"/>
<line x1="502" y1="276.1" x2="502" y2="277.1" stroke="#555" stroke-width="0.4"/>
<line x1="506" y1="276.1" x2="506" y2="277.1" stroke="#555" stroke-width="0.4"/>
<line x1="510" y1="276.1" x2="510" y2="277.1" stroke="#555" stroke-width="0.4"/>
<line x1="515.5" y1="276.1" x2="515.5" y2="277.1" stroke="#555" stroke-width="0.4"/>
<line x1="519" y1="276.1" x2="519" y2="277.1" stroke="#555" stroke-width="0.4"/>
<line x1="523" y1="276.1" x2="523" y2="277.1" stroke="#555" stroke-width="0.4"/>
<line x1="526.3" y1="276.1" x2="526.3" y2="277.1" stroke="#555" stroke-width="0.4"/>
<line x1="530" y1="276.1" x2="530" y2="277.1" stroke="#555" stroke-width="0.4"/>
<line x1="534" y1="276.1" x2="534" y2="277.1" stroke="#555" stroke-width="0.4"/>
<line x1="538" y1="276.1" x2="538" y2="277.1" stroke="#555" stroke-width="0.4"/>
<line x1="542" y1="276.1" x2="542" y2="277.1" stroke="#555" stroke-width="0.4"/>
<line x1="545" y1="276.1" x2="545" y2="277.1" stroke="#555" stroke-width="0.4"/>
<line x1="547.3" y1="276.1" x2="547.3" y2="277.1" stroke="#555" stroke-width="0.4"/>
<line x1="551" y1="276.1" x2="551" y2="277.1" stroke="#555" stroke-width="0.4"/>
<line x1="555" y1="276.1" x2="555" y2="277.1" stroke="#555" stroke-width="0.4"/>
<line x1="559" y1="276.1" x2="559" y2="277.1" stroke="#555" stroke-width="0.4"/>
<line x1="562" y1="276.1" x2="562" y2="277.1" stroke="#555" stroke-width="0.4"/>
<line x1="565.4" y1="276.1" x2="565.4" y2="277.1" stroke="#555" stroke-width="0.4"/>
<line x1="568" y1="276.1" x2="568" y2="277.1" stroke="#555" stroke-width="0.4"/>
<rect x="498.50" y="257.40" width="1.30" height="2.60" fill="#000"/>
<rect x="514.30" y="275.90" width="2.40" height="1.30" fill="#000"/>
<text x="497" y="213.9" font-size="6.6" text-anchor="end" fill="#1a1a1a">10<tspan dy="-2.5" font-size="4.5">5</tspan><tspan dy="2.5" font-size="0.1"> </tspan></text>
<text x="497" y="230.2" font-size="6.6" text-anchor="end" fill="#1a1a1a">10<tspan dy="-2.5" font-size="4.5">4</tspan><tspan dy="2.5" font-size="0.1"> </tspan></text>
<text x="497" y="249.5" font-size="6.6" text-anchor="end" fill="#1a1a1a">10<tspan dy="-2.5" font-size="4.5">3</tspan><tspan dy="2.5" font-size="0.1"> </tspan></text>
<text x="496.4" y="260.9" font-size="6.6" text-anchor="end" fill="#1a1a1a">0</text>
<text x="497" y="273.7" font-size="6.6" text-anchor="end" fill="#1a1a1a">−10<tspan dy="-2.5" font-size="4.5">3</tspan><tspan dy="2.5" font-size="0.1"> </tspan></text>
<text x="502.6" y="287.2" font-size="6.6" text-anchor="middle" fill="#1a1a1a">−10<tspan dy="-2.5" font-size="4.5">3</tspan><tspan dy="2.5" font-size="0.1"> </tspan></text>
<text x="515.5" y="287.2" font-size="6.6" text-anchor="middle" fill="#1a1a1a">0</text>
<text x="526.8" y="287.2" font-size="6.6" text-anchor="middle" fill="#1a1a1a">10<tspan dy="-2.5" font-size="4.5">3</tspan><tspan dy="2.5" font-size="0.1"> </tspan></text>
<text x="547.6" y="287.2" font-size="6.6" text-anchor="middle" fill="#1a1a1a">10<tspan dy="-2.5" font-size="4.5">4</tspan><tspan dy="2.5" font-size="0.1"> </tspan></text>
<text x="565.8" y="287.2" font-size="6.6" text-anchor="middle" fill="#1a1a1a">10<tspan dy="-2.5" font-size="4.5">5</tspan><tspan dy="2.5" font-size="0.1"> </tspan></text>
<text x="536.3" y="213.2" font-size="6.6" text-anchor="middle" fill="#1a1a1a">CD117<tspan dy="-2.4" font-size="4">+</tspan><tspan dy="2.4" font-size="0.1"> </tspan>ST2<tspan dy="-2.4" font-size="4">+</tspan><tspan dy="2.4" font-size="0.1"> </tspan></text>
<text x="536.3" y="220.9" font-size="6.6" text-anchor="middle" fill="#1a1a1a">sorted fetal MCs</text>
<ellipse cx="517" cy="253.8" rx="3.3" ry="6.4" transform="rotate(8 517 253.8)" fill="#8a8a8a"/>
<ellipse cx="517.00" cy="253.80" rx="3.80" ry="6.90" transform="rotate(8 517.00 253.80)" fill="none" stroke="#666" stroke-width="0.25" opacity="0.9"/><ellipse cx="516.97" cy="253.79" rx="3.13" ry="5.69" transform="rotate(8 517.00 253.80)" fill="none" stroke="#666" stroke-width="0.25" opacity="0.9"/><ellipse cx="516.96" cy="253.86" rx="2.47" ry="4.49" transform="rotate(8 517.00 253.80)" fill="none" stroke="#666" stroke-width="0.25" opacity="0.9"/><ellipse cx="516.89" cy="253.95" rx="1.81" ry="3.28" transform="rotate(8 517.00 253.80)" fill="none" stroke="#666" stroke-width="0.25" opacity="0.9"/><ellipse cx="516.99" cy="253.84" rx="1.14" ry="2.07" transform="rotate(8 517.00 253.80)" fill="none" stroke="#666" stroke-width="0.25" opacity="0.9"/>
<path d="M520.5,255.5 l2.6,1.2 l-2.6,1.2Z" fill="#fff" stroke="#666" stroke-width="0.3"/>
<ellipse cx="532" cy="236.8" rx="16.3" ry="8.6" transform="rotate(-9 532 236.8)" fill="#e03a36"/>
<ellipse cx="520.8" cy="240" rx="4.8" ry="6.3" transform="rotate(15 520.8 240)" fill="#e03a36"/>
<ellipse cx="520.80" cy="240.00" rx="5.20" ry="6.80" transform="rotate(15 520.80 240.00)" fill="none" stroke="#c8201e" stroke-width="0.25" opacity="0.8"/><ellipse cx="520.85" cy="240.01" rx="3.90" ry="5.10" transform="rotate(15 520.80 240.00)" fill="none" stroke="#c8201e" stroke-width="0.25" opacity="0.8"/><ellipse cx="520.79" cy="240.07" rx="2.60" ry="3.40" transform="rotate(15 520.80 240.00)" fill="none" stroke="#c8201e" stroke-width="0.25" opacity="0.8"/>
<ellipse cx="532.00" cy="236.80" rx="16.90" ry="9.20" transform="rotate(-9 532.00 236.80)" fill="none" stroke="#c8201e" stroke-width="0.25" opacity="0.8"/><ellipse cx="532.01" cy="236.83" rx="15.10" ry="8.22" transform="rotate(-9 532.00 236.80)" fill="none" stroke="#c8201e" stroke-width="0.25" opacity="0.8"/><ellipse cx="532.00" cy="236.77" rx="13.31" ry="7.24" transform="rotate(-9 532.00 236.80)" fill="none" stroke="#c8201e" stroke-width="0.25" opacity="0.8"/><ellipse cx="531.95" cy="236.84" rx="11.51" ry="6.27" transform="rotate(-9 532.00 236.80)" fill="none" stroke="#c8201e" stroke-width="0.25" opacity="0.8"/><ellipse cx="532.04" cy="236.92" rx="9.72" ry="5.29" transform="rotate(-9 532.00 236.80)" fill="none" stroke="#c8201e" stroke-width="0.25" opacity="0.8"/><ellipse cx="532.11" cy="236.72" rx="7.92" ry="4.31" transform="rotate(-9 532.00 236.80)" fill="none" stroke="#c8201e" stroke-width="0.25" opacity="0.8"/><ellipse cx="531.88" cy="236.71" rx="6.13" ry="3.33" transform="rotate(-9 532.00 236.80)" fill="none" stroke="#c8201e" stroke-width="0.25" opacity="0.8"/><ellipse cx="531.86" cy="236.89" rx="4.33" ry="2.36" transform="rotate(-9 532.00 236.80)" fill="none" stroke="#c8201e" stroke-width="0.25" opacity="0.8"/><ellipse cx="532.18" cy="237.00" rx="2.54" ry="1.38" transform="rotate(-9 532.00 236.80)" fill="none" stroke="#c8201e" stroke-width="0.25" opacity="0.8"/>
<path d="M527,236.6 C531,235.4 536,234.9 540,234.7" stroke="#f7d0cc" stroke-width="0.6" fill="none"/>
<rect x="520.7" y="223.9" width="29.8" height="23.8" fill="none" stroke="#555" stroke-width="0.5"/>
<text x="481.7" y="240.2" font-size="6.6" text-anchor="middle" fill="#1a1a1a" transform="rotate(-90 481.7 240.2)">CD117</text>
<path d="M478.7,254.4 V295.4 H523.4" fill="none" stroke="#333" stroke-width="0.5"/><path d="M477.59999999999997,255.0 L478.7,252.4 L479.8,255.0Z" fill="#333"/><path d="M522.8,294.29999999999995 L525.4,295.4 L522.8,296.5Z" fill="#333"/>
<text x="529" y="297.5" font-size="6.6" fill="#1a1a1a">ST2</text>
</g>
<g id="panel_h">
<text x="579.5" y="195.5" font-size="10.2" font-weight="bold" fill="#000">h</text>
<line x1="605.3" y1="204.8" x2="605.3" y2="272.6" stroke="#666" stroke-width="0.7"/>
<line x1="605.3" y1="272.6" x2="685" y2="272.6" stroke="#666" stroke-width="0.7"/>
<line x1="602.6" y1="208" x2="605.3" y2="208" stroke="#666" stroke-width="0.7"/>
<text x="600.6" y="210.3" font-size="6.6" text-anchor="end" fill="#1a1a1a">6</text>
<line x1="602.6" y1="224" x2="605.3" y2="224" stroke="#666" stroke-width="0.7"/>
<text x="600.6" y="226.3" font-size="6.6" text-anchor="end" fill="#1a1a1a">3</text>
<line x1="602.6" y1="239.9" x2="605.3" y2="239.9" stroke="#666" stroke-width="0.7"/>
<text x="600.6" y="242.20000000000002" font-size="6.6" text-anchor="end" fill="#1a1a1a">0</text>
<line x1="602.6" y1="255.6" x2="605.3" y2="255.6" stroke="#666" stroke-width="0.7"/>
<text x="600.6" y="257.9" font-size="6.6" text-anchor="end" fill="#1a1a1a">−3</text>
<line x1="602.6" y1="271.5" x2="605.3" y2="271.5" stroke="#666" stroke-width="0.7"/>
<text x="600.6" y="273.8" font-size="6.6" text-anchor="end" fill="#1a1a1a">−6</text>
<line x1="612" y1="272.6" x2="612" y2="275.3" stroke="#666" stroke-width="0.7"/>
<text x="612" y="284.7" font-size="6.6" text-anchor="middle" fill="#1a1a1a">−10</text>
<line x1="627.9" y1="272.6" x2="627.9" y2="275.3" stroke="#666" stroke-width="0.7"/>
<text x="627.9" y="284.7" font-size="6.6" text-anchor="middle" fill="#1a1a1a">−5</text>
<line x1="644.2" y1="272.6" x2="644.2" y2="275.3" stroke="#666" stroke-width="0.7"/>
<text x="644.2" y="284.7" font-size="6.6" text-anchor="middle" fill="#1a1a1a">0</text>
<line x1="660.3" y1="272.6" x2="660.3" y2="275.3" stroke="#666" stroke-width="0.7"/>
<text x="660.3" y="284.7" font-size="6.6" text-anchor="middle" fill="#1a1a1a">5</text>
<line x1="676.1" y1="272.6" x2="676.1" y2="275.3" stroke="#666" stroke-width="0.7"/>
<text x="676.1" y="284.7" font-size="6.6" text-anchor="middle" fill="#1a1a1a">10</text>
<text x="643.9" y="294.7" font-size="6.6" text-anchor="middle" fill="#1a1a1a">PC1: 68% variance</text>
<text x="585.6" y="239.6" font-size="6.6" text-anchor="middle" fill="#1a1a1a" transform="rotate(-90 585.6 239.6)">PC2: 14% variance</text>
<ellipse cx="617" cy="231.7" rx="12" ry="30.2" fill="none" stroke="#2a4f9e" stroke-width="0.7" stroke-dasharray="2.6 1.8"/>
<circle cx="620.03" cy="208.00" r="1.8" fill="#2a4f9e"/>
<circle cx="608.61" cy="248.29" r="1.8" fill="#2a4f9e"/>
<circle cx="625.73" cy="252.48" r="1.8" fill="#2a4f9e"/>
<text x="617.3" y="230.9" font-size="6.6" text-anchor="middle" fill="#1a1a1a">Control</text>
<ellipse cx="669.3" cy="246.6" rx="13.5" ry="28.5" fill="none" stroke="#d9272b" stroke-width="0.7" stroke-dasharray="2.6 1.8" transform="rotate(27 669.3 246.6)"/>
<circle cx="679.45" cy="225.79" r="1.8" fill="#d9272b"/>
<circle cx="674.08" cy="234.52" r="1.8" fill="#d9272b"/>
<circle cx="657.63" cy="270.11" r="1.8" fill="#d9272b"/>
<circle cx="685.83" cy="234.69" r="1.8" fill="#d9272b"/>
<text x="666.5" y="247.4" font-size="6.6" text-anchor="middle" fill="#1a1a1a">PS</text>
</g>
<g id="panel_i">
<text x="0" y="316.3" font-size="10.2" font-weight="bold" fill="#000">i</text>
<line x1="27.7" y1="331.4" x2="27.7" y2="401.2" stroke="#666" stroke-width="0.7"/>
<line x1="27.7" y1="401.2" x2="102.4" y2="401.2" stroke="#666" stroke-width="0.7"/>
<line x1="24.6" y1="398.5" x2="27.7" y2="398.5" stroke="#666" stroke-width="0.7"/>
<text x="21.8" y="400.8" font-size="6.6" text-anchor="end" fill="#1a1a1a">0</text>
<line x1="24.6" y1="385.68" x2="27.7" y2="385.68" stroke="#666" stroke-width="0.7"/>
<text x="21.8" y="387.98" font-size="6.6" text-anchor="end" fill="#1a1a1a">5</text>
<line x1="24.6" y1="372.86" x2="27.7" y2="372.86" stroke="#666" stroke-width="0.7"/>
<text x="21.8" y="375.16" font-size="6.6" text-anchor="end" fill="#1a1a1a">10</text>
<line x1="24.6" y1="360.04" x2="27.7" y2="360.04" stroke="#666" stroke-width="0.7"/>
<text x="21.8" y="362.34000000000003" font-size="6.6" text-anchor="end" fill="#1a1a1a">15</text>
<line x1="24.6" y1="347.22" x2="27.7" y2="347.22" stroke="#666" stroke-width="0.7"/>
<text x="21.8" y="349.52000000000004" font-size="6.6" text-anchor="end" fill="#1a1a1a">20</text>
<line x1="24.6" y1="334.4" x2="27.7" y2="334.4" stroke="#666" stroke-width="0.7"/>
<text x="21.8" y="336.7" font-size="6.6" text-anchor="end" fill="#1a1a1a">25</text>
<line x1="30.5" y1="401.2" x2="30.5" y2="403.9" stroke="#666" stroke-width="0.7"/>
<text x="30.5" y="413.4" font-size="6.6" text-anchor="middle" fill="#1a1a1a">−4</text>
<line x1="47.75" y1="401.2" x2="47.75" y2="403.9" stroke="#666" stroke-width="0.7"/>
<text x="47.75" y="413.4" font-size="6.6" text-anchor="middle" fill="#1a1a1a">−2</text>
<line x1="65.0" y1="401.2" x2="65.0" y2="403.9" stroke="#666" stroke-width="0.7"/>
<text x="65.0" y="413.4" font-size="6.6" text-anchor="middle" fill="#1a1a1a">0</text>
<line x1="82.25" y1="401.2" x2="82.25" y2="403.9" stroke="#666" stroke-width="0.7"/>
<text x="82.25" y="413.4" font-size="6.6" text-anchor="middle" fill="#1a1a1a">2</text>
<line x1="99.5" y1="401.2" x2="99.5" y2="403.9" stroke="#666" stroke-width="0.7"/>
<text x="99.5" y="413.4" font-size="6.6" text-anchor="middle" fill="#1a1a1a">4</text>
<text x="64.6" y="423.3" font-size="6.6" text-anchor="middle" fill="#1a1a1a">log<tspan dy="1.5" font-size="4.6">2</tspan><tspan dy="-1.5" font-size="0.1"> </tspan>[fold change]</text>
<text x="7.2" y="366.3" font-size="6.6" text-anchor="middle" fill="#1a1a1a" transform="rotate(-90 7.2 366.3)">−log<tspan dy="1.5" font-size="4.6">10</tspan><tspan dy="-1.5" font-size="0.1"> </tspan>[<tspan font-style="italic">P</tspan>]</text>
<path d="M30.1,389.7 L30.6,388.8 L31.1,388.6 L31.6,388.7 L32.1,389.2 L32.7,388.7 L33.2,389.1 L33.7,390.0 L34.2,390.3 L34.7,390.7 L35.2,390.8 L35.8,389.9 L36.3,389.3 L36.8,390.1 L37.3,389.5 L37.8,391.1 L38.3,392.0 L38.9,392.9 L39.4,391.7 L39.9,392.0 L40.4,391.4 L40.9,391.5 L41.5,392.2 L42.0,391.8 L42.5,391.8 L43.0,392.7 L43.5,391.5 L44.0,392.1 L44.6,391.9 L45.1,390.1 L45.6,390.6 L46.1,389.0 L46.6,389.8 L47.1,390.1 L47.7,391.2 L48.2,391.6 L48.7,392.5 L49.2,392.9 L49.7,391.5 L50.3,392.2 L50.8,391.3 L51.3,392.3 L51.8,391.5 L52.3,392.1 L52.8,392.6 L53.4,392.6 L53.9,392.5 L54.4,391.6 L54.9,391.7 L55.4,390.5 L55.9,389.7 L56.5,390.7 L57.0,390.1 L57.5,390.7 L58.0,391.9 L58.5,392.1 L59.0,392.0 L59.6,391.9 L60.1,390.6 L60.6,390.8 L61.1,389.4 L61.6,387.1 L62.2,386.8 L62.7,389.5 L63.2,392.6 L63.7,393.1 L64.2,395.2 L64.7,397.5 L65.3,398.3 L65.8,395.1 L66.3,392.5 L66.8,390.1 L67.3,388.7 L67.8,386.1 L68.4,385.7 L68.9,387.3 L69.4,390.2 L69.9,390.6 L70.4,391.5 L71.0,392.4 L71.5,393.2 L72.0,392.7 L72.5,393.1 L73.0,393.7 L73.5,392.8 L74.1,392.1 L74.6,391.1 L75.1,390.6 L75.6,391.3 L76.1,390.5 L76.6,390.8 L77.2,391.4 L77.7,390.8 L78.2,391.0 L78.7,390.7 L79.2,390.6 L79.7,389.6 L80.3,391.0 L80.8,391.9 L81.3,391.5 L81.8,392.2 L82.3,393.0 L82.9,392.4 L83.4,393.2 L83.9,392.4 L84.4,391.9 L84.9,391.5 L85.4,392.0 L86.0,392.3 L86.5,392.0 L87.0,391.0 L87.5,390.5 L88.0,390.2 L88.5,390.0 L89.1,389.9 L89.6,388.8 L90.1,389.9 L90.6,390.3 L91.1,392.1 L91.7,392.4 L92.2,391.6 L92.7,391.6 L93.2,391.2 L93.7,391.3 L94.2,391.4 L94.8,391.1 L95.3,390.6 L95.8,391.4 L96.3,390.8 L96.8,390.6 L97.3,389.0 L97.9,389.0 L98.4,387.0 L98.9,385.9 L99.4,387.0 L99.9,386.2 L99.9,397.2 L99.4,397.2 L98.9,397.2 L98.4,397.3 L97.9,397.3 L97.3,397.4 L96.8,397.4 L96.3,397.4 L95.8,397.5 L95.3,397.5 L94.8,397.6 L94.2,397.6 L93.7,397.6 L93.2,397.7 L92.7,397.7 L92.2,397.7 L91.7,397.8 L91.1,397.8 L90.6,397.8 L90.1,397.9 L89.6,397.9 L89.1,397.9 L88.5,398.0 L88.0,398.0 L87.5,398.0 L87.0,398.0 L86.5,398.1 L86.0,398.1 L85.4,398.1 L84.9,398.1 L84.4,398.2 L83.9,398.2 L83.4,398.2 L82.9,398.2 L82.3,398.3 L81.8,398.3 L81.3,398.3 L80.8,398.3 L80.3,398.3 L79.7,398.4 L79.2,398.4 L78.7,398.4 L78.2,398.4 L77.7,398.4 L77.2,398.4 L76.6,398.5 L76.1,398.5 L75.6,398.5 L75.1,398.5 L74.6,398.5 L74.1,398.5 L73.5,398.5 L73.0,398.6 L72.5,398.6 L72.0,398.6 L71.5,398.6 L71.0,398.6 L70.4,398.6 L69.9,398.6 L69.4,398.6 L68.9,398.6 L68.4,398.6 L67.8,398.6 L67.3,398.6 L66.8,398.6 L66.3,398.6 L65.8,398.6 L65.3,398.6 L64.7,398.6 L64.2,398.6 L63.7,398.6 L63.2,398.6 L62.7,398.6 L62.2,398.6 L61.6,398.6 L61.1,398.6 L60.6,398.6 L60.1,398.6 L59.6,398.6 L59.0,398.6 L58.5,398.6 L58.0,398.6 L57.5,398.6 L57.0,398.6 L56.5,398.5 L55.9,398.5 L55.4,398.5 L54.9,398.5 L54.4,398.5 L53.9,398.5 L53.4,398.5 L52.8,398.4 L52.3,398.4 L51.8,398.4 L51.3,398.4 L50.8,398.4 L50.3,398.4 L49.7,398.3 L49.2,398.3 L48.7,398.3 L48.2,398.3 L47.7,398.3 L47.1,398.2 L46.6,398.2 L46.1,398.2 L45.6,398.2 L45.1,398.1 L44.6,398.1 L44.0,398.1 L43.5,398.1 L43.0,398.0 L42.5,398.0 L42.0,398.0 L41.5,398.0 L40.9,397.9 L40.4,397.9 L39.9,397.9 L39.4,397.8 L38.9,397.8 L38.3,397.8 L37.8,397.7 L37.3,397.7 L36.8,397.7 L36.3,397.6 L35.8,397.6 L35.2,397.6 L34.7,397.5 L34.2,397.5 L33.7,397.4 L33.2,397.4 L32.7,397.4 L32.1,397.3 L31.6,397.3 L31.1,397.2 L30.6,397.2 L30.1,397.2Z" fill="#1f4a88"/><path d="M74.6,390.3h1.0M47.5,390.1h1.0M57.9,389.1h1.0M38.9,391.8h1.0M36.2,389.3h1.0M60.8,387.8h1.0M39.4,391.1h1.0M38.4,390.8h1.0M67.2,385.6h1.0M44.9,388.8h1.0M41.2,391.1h1.0M79.2,389.0h1.0M68.0,383.9h1.0M90.6,390.9h1.0M83.7,391.8h1.0M34.0,390.3h1.0M82.9,391.6h1.0M47.2,389.2h1.0M78.2,390.5h1.0M56.7,390.7h1.0M51.2,391.3h1.0M67.9,385.2h1.0M95.8,387.9h1.0M80.9,391.1h1.0M97.1,386.5h1.0M68.7,387.6h1.0M34.0,388.9h1.0M54.4,387.8h1.0M51.8,392.1h1.0M34.9,390.0h1.0M34.7,389.2h1.0M60.9,385.4h1.0M73.0,391.2h1.0M60.5,389.2h1.0M56.8,390.3h1.0M33.0,388.1h1.0M46.8,389.9h1.0M80.1,388.6h1.0M61.4,386.4h1.0M73.7,390.9h1.0M96.9,386.6h1.0M79.7,389.7h1.0M91.8,391.9h1.0M82.6,391.0h1.0M76.2,390.3h1.0M77.3,389.8h1.0M46.7,389.2h1.0M72.5,392.9h1.0M87.2,387.0h1.0M30.0,387.3h1.0M51.3,391.8h1.0M68.2,386.7h1.0M35.1,388.9h1.0M81.4,389.7h1.0M61.9,385.7h1.0M78.7,388.1h1.0M43.9,390.6h1.0M77.2,389.8h1.0M47.8,390.7h1.0M47.3,390.9h1.0M88.6,388.4h1.0M43.5,390.3h1.0M71.3,392.9h1.0M95.3,389.9h1.0M60.1,390.0h1.0M41.7,391.0h1.0M56.4,390.7h1.0M96.7,388.8h1.0M86.2,389.9h1.0M30.9,386.4h1.0M32.3,386.9h1.0M30.1,386.1h1.0M36.2,389.0h1.0M92.1,390.8h1.0M55.4,388.7h1.0M87.0,389.5h1.0M33.0,387.8h1.0M45.3,388.6h1.0M85.6,390.1h1.0M91.3,389.5h1.0M30.8,385.6h1.0M81.8,392.8h1.0M82.6,392.7h1.0M86.5,391.3h1.0M71.9,392.5h1.0M85.5,390.7h1.0M53.2,392.8h1.0M50.4,390.6h1.0M73.4,392.3h1.0M34.3,390.0h1.0M76.9,391.2h1.0M33.7,389.4h1.0M32.2,385.1h1.0M40.6,391.6h1.0M36.8,388.5h1.0M58.1,391.3h1.0M77.8,390.8h1.0M35.0,388.3h1.0M87.4,390.8h1.0M54.2,391.2h1.0M73.5,391.6h1.0M40.9,389.6h1.0M89.0,388.6h1.0M77.0,388.7h1.0M44.8,390.0h1.0M93.0,388.7h1.0M97.3,383.0h1.0M85.0,389.5h1.0M30.4,386.0h1.0M82.4,391.5h1.0M74.8,389.6h1.0M91.2,389.3h1.0M44.0,389.7h1.0M83.8,391.8h1.0M81.3,391.7h1.0M35.4,388.9h1.0M57.9,391.3h1.0M86.5,390.2h1.0M54.9,390.5h1.0M59.1,391.5h1.0M70.1,389.5h1.0M44.3,390.8h1.0M37.0,388.9h1.0M92.1,391.5h1.0M38.2,392.0h1.0M74.3,390.1h1.0M83.4,392.1h1.0M47.2,389.1h1.0M59.6,390.3h1.0M48.1,391.0h1.0M67.1,386.2h1.0M87.1,391.2h1.0M70.5,391.3h1.0M80.6,389.7h1.0M99.0,385.4h1.0M76.0,390.6h1.0M70.2,387.3h1.0M43.3,389.9h1.0M45.4,389.6h1.0M33.4,386.6h1.0M87.3,389.4h1.0M56.8,391.2h1.0M73.5,390.8h1.0M90.0,389.4h1.0M82.1,392.4h1.0M84.2,390.8h1.0M85.0,390.8h1.0M88.8,389.2h1.0M91.8,391.2h1.0M73.8,391.6h1.0M39.8,391.7h1.0M77.2,390.5h1.0M50.2,391.7h1.0M79.4,389.4h1.0M44.8,390.0h1.0M74.9,390.1h1.0M55.3,390.1h1.0M33.6,389.7h1.0M78.2,390.0h1.0M91.1,391.6h1.0M75.3,389.1h1.0M71.1,392.6h1.0M60.6,385.4h1.0M55.7,390.3h1.0M74.0,391.0h1.0M53.8,391.3h1.0M82.3,392.0h1.0M45.2,388.9h1.0M84.7,389.5h1.0M61.4,386.2h1.0M45.0,388.6h1.0M35.6,388.6h1.0M41.1,391.2h1.0M52.5,392.0h1.0M44.6,389.8h1.0M40.2,391.7h1.0M73.2,392.4h1.0M37.4,390.1h1.0M37.6,389.4h1.0M43.8,390.5h1.0M78.4,389.9h1.0M46.5,390.1h1.0M71.4,392.5h1.0M69.9,390.7h1.0M86.7,389.5h1.0M30.2,387.9h1.0M51.8,391.6h1.0M84.4,390.8h1.0M32.0,383.7h1.0M70.1,391.4h1.0M42.3,391.6h1.0M97.0,386.6h1.0M79.8,389.9h1.0M53.4,392.6h1.0M76.0,390.8h1.0M85.5,390.7h1.0M33.3,389.1h1.0M85.0,391.0h1.0M82.2,392.4h1.0M37.4,390.0h1.0M75.8,390.5h1.0M55.7,390.0h1.0M90.0,388.7h1.0M73.4,391.7h1.0M68.4,387.7h1.0M50.8,391.3h1.0M52.6,392.0h1.0M59.3,388.8h1.0M43.6,391.1h1.0M90.2,390.8h1.0M53.1,392.5h1.0M75.0,390.4h1.0M61.0,386.8h1.0M55.8,388.6h1.0M49.1,390.0h1.0M77.9,389.5h1.0M52.5,391.1h1.0M39.8,390.5h1.0M77.0,391.3h1.0M96.9,384.5h1.0M46.8,389.2h1.0M56.1,390.5h1.0M97.8,384.9h1.0M48.6,391.1h1.0M48.2,391.7h1.0M81.5,391.1h1.0M84.8,389.5h1.0M87.1,389.1h1.0M97.9,383.5h1.0M97.3,386.5h1.0M59.6,390.9h1.0M38.6,391.5h1.0M56.6,390.8h1.0M36.0,389.4h1.0M61.3,386.4h1.0M74.0,391.4h1.0M37.3,389.7h1.0M60.7,388.2h1.0M79.3,389.1h1.0M80.5,390.9h1.0M37.7,390.1h1.0M87.9,388.4h1.0M98.0,386.2h1.0M78.6,388.4h1.0M88.7,388.8h1.0M95.0,390.3h1.0M54.2,389.9h1.0M49.0,390.3h1.0M84.3,390.3h1.0M41.2,391.6h1.0M53.7,392.2h1.0M85.7,391.5h1.0M41.7,390.2h1.0M88.9,388.8h1.0M88.7,389.0h1.0M82.7,392.2h1.0M36.4,388.6h1.0M47.2,390.6h1.0M44.7,388.6h1.0M89.3,388.3h1.0M81.7,392.9h1.0M52.0,391.9h1.0M50.8,389.4h1.0M99.1,385.0h1.0M97.0,385.8h1.0M84.4,390.8h1.0M42.6,389.3h1.0M91.1,389.4h1.0M93.3,389.6h1.0M93.1,390.5h1.0M41.2,390.9h1.0M85.8,391.7h1.0M80.0,389.8h1.0M39.5,392.2h1.0M74.0,391.6h1.0M96.0,387.5h1.0M60.4,388.8h1.0M71.9,393.1h1.0M57.4,389.6h1.0M42.6,391.4h1.0M50.4,391.8h1.0M34.4,389.3h1.0M93.3,390.8h1.0M51.5,391.3h1.0M47.9,390.9h1.0M37.7,390.0h1.0M33.1,388.6h1.0M53.4,392.3h1.0M49.9,390.8h1.0M83.5,390.3h1.0M77.5,390.5h1.0M81.6,391.3h1.0M82.1,390.9h1.0M48.0,389.7h1.0M76.5,390.0h1.0M92.8,391.5h1.0M36.2,389.4h1.0M82.0,392.0h1.0M59.2,390.7h1.0M47.5,391.3h1.0M90.0,389.4h1.0M37.7,389.8h1.0M50.0,391.0h1.0M67.1,386.4h1.0M78.2,388.8h1.0M97.3,385.9h1.0M46.1,388.5h1.0M77.3,390.8h1.0M76.7,391.5h1.0M59.7,389.3h1.0M30.6,388.0h1.0M76.4,390.4h1.0M98.9,382.0h1.0M70.6,391.2h1.0M92.0,391.0h1.0M55.7,389.8h1.0M53.4,392.3h1.0M77.0,391.4h1.0M96.4,389.2h1.0M85.2,390.8h1.0M45.4,389.8h1.0M71.1,392.1h1.0M80.0,390.6h1.0M96.4,387.2h1.0M89.6,389.4h1.0M57.3,391.2h1.0M86.9,391.0h1.0M41.2,391.5h1.0M42.6,390.5h1.0M60.9,386.6h1.0M57.8,390.7h1.0M76.5,391.4h1.0M43.9,390.8h1.0M37.5,391.0h1.0M53.1,392.0h1.0M75.2,390.4h1.0M67.9,385.3h1.0M35.4,388.2h1.0M80.4,389.6h1.0M97.7,384.7h1.0M47.1,389.9h1.0M51.9,391.5h1.0M36.7,388.3h1.0M86.6,390.5h1.0M82.8,390.8h1.0M58.3,390.4h1.0M74.6,389.1h1.0M79.0,389.4h1.0M48.1,391.0h1.0M85.1,391.5h1.0M59.4,391.0h1.0M83.9,388.6h1.0M56.1,388.7h1.0M92.8,389.0h1.0M42.8,390.7h1.0M82.4,391.1h1.0M49.3,388.7h1.0M35.9,388.3h1.0M48.7,390.7h1.0M95.7,387.0h1.0M84.8,390.3h1.0M45.5,389.6h1.0M47.7,391.6h1.0M67.8,384.5h1.0M94.5,390.7h1.0M97.1,385.5h1.0M92.7,391.9h1.0M85.7,391.1h1.0M57.5,388.3h1.0M58.6,391.3h1.0M45.4,389.7h1.0M41.3,390.7h1.0M80.6,390.0h1.0M71.3,392.6h1.0M81.0,389.4h1.0M49.2,390.9h1.0M36.1,388.6h1.0M98.6,383.1h1.0M77.6,390.7h1.0M56.3,389.8h1.0M53.7,391.3h1.0M75.3,390.2h1.0M31.3,385.1h1.0M68.1,386.5h1.0M70.7,391.4h1.0M79.2,388.2h1.0M93.2,390.6h1.0M73.5,392.0h1.0M33.1,387.9h1.0M38.8,391.3h1.0" stroke="#1f4a88" stroke-width="1.00" stroke-linecap="round" fill="none"/><path d="M39.7,393.8h0.9M31.4,393.5h0.9M43.4,393.0h0.9M38.6,391.6h0.9M45.3,393.5h0.9M41.1,391.6h0.9M42.6,393.2h0.9M37.9,391.6h0.9M34.6,392.7h0.9M40.2,391.3h0.9M34.5,392.0h0.9M34.1,393.8h0.9M37.9,392.1h0.9M40.3,391.0h0.9M33.3,392.5h0.9M38.0,393.5h0.9M44.4,393.9h0.9M34.7,394.3h0.9M40.3,392.0h0.9M34.2,391.1h0.9M40.2,393.7h0.9M44.7,391.3h0.9M35.5,391.3h0.9M32.8,393.1h0.9M37.1,391.0h0.9M35.3,393.0h0.9M34.0,391.5h0.9M33.6,391.4h0.9M87.4,392.2h0.9M96.2,393.1h0.9M90.5,391.9h0.9M91.3,392.6h0.9M92.4,392.9h0.9M84.3,393.9h0.9M91.7,392.1h0.9M94.9,393.4h0.9M92.8,392.5h0.9M90.4,391.3h0.9M90.3,392.5h0.9M92.4,393.4h0.9" stroke="#fff" stroke-width="0.90" stroke-linecap="round" fill="none"/><path d="M54.6,388.4 L55.1,388.2 L55.5,388.0 L55.9,385.8 L56.4,383.7 L56.8,382.7 L57.2,382.8 L57.7,382.2 L58.1,379.9 L58.5,380.3 L59.0,380.4 L59.4,379.9 L59.8,380.1 L60.3,380.9 L60.7,383.7 L61.1,385.0 L61.5,385.9 L62.0,388.1 L62.4,389.6 L62.4,391.8 L54.6,391.8Z" fill="#2f8c57"/><path d="M59.5,377.3h1.0M57.7,379.2h1.0M60.4,377.4h1.0M60.4,383.2h1.0M59.6,377.7h1.0M56.8,382.4h1.0M54.3,385.6h1.0M60.0,379.4h1.0M60.8,378.1h1.0M57.6,378.4h1.0M61.8,386.6h1.0M58.4,378.3h1.0M60.4,379.8h1.0M56.8,382.1h1.0M59.3,379.0h1.0M53.9,386.7h1.0M59.1,377.6h1.0M54.7,388.0h1.0M60.0,380.2h1.0M54.3,385.6h1.0M55.4,384.1h1.0M54.3,383.9h1.0M58.8,376.7h1.0M54.4,386.8h1.0M53.9,385.4h1.0M57.7,378.2h1.0M58.7,376.9h1.0M61.1,383.9h1.0M55.3,385.2h1.0M61.8,384.4h1.0M58.4,378.2h1.0M60.1,380.9h1.0M56.3,381.4h1.0M61.8,386.4h1.0M60.2,381.6h1.0M56.6,382.1h1.0M57.0,381.8h1.0M58.3,377.8h1.0M57.4,380.0h1.0M57.3,378.4h1.0M61.7,385.1h1.0M58.9,375.8h1.0M57.5,378.1h1.0M60.3,381.8h1.0M56.6,382.4h1.0M54.5,385.7h1.0M60.8,384.2h1.0M60.0,379.5h1.0M60.9,384.4h1.0M60.7,383.1h1.0M55.0,384.8h1.0M60.8,384.7h1.0M59.6,378.6h1.0M56.6,379.5h1.0M57.4,379.6h1.0M55.4,384.8h1.0M59.7,377.6h1.0M58.6,375.6h1.0M57.4,379.4h1.0M58.3,377.8h1.0M54.9,385.2h1.0M57.3,381.2h1.0M56.1,382.9h1.0M60.7,383.7h1.0M54.3,386.8h1.0M57.6,378.3h1.0M56.4,382.7h1.0M56.2,383.7h1.0M57.3,381.2h1.0M57.1,379.4h1.0M59.1,379.1h1.0M55.3,383.3h1.0M58.8,376.0h1.0M60.9,384.9h1.0M60.2,381.4h1.0M61.5,387.8h1.0M57.4,379.6h1.0M61.3,385.2h1.0M61.5,387.3h1.0M54.7,386.1h1.0M55.4,384.3h1.0M54.3,385.8h1.0M53.7,387.8h1.0M54.1,389.3h1.0M57.5,377.5h1.0M58.1,377.4h1.0M58.7,378.2h1.0M55.5,385.2h1.0M60.2,380.8h1.0M56.6,381.4h1.0M58.8,374.0h1.0M61.2,385.1h1.0M61.7,388.1h1.0M60.5,383.8h1.0M55.7,382.4h1.0M61.7,388.0h1.0M57.3,380.3h1.0M61.1,385.4h1.0M60.4,380.0h1.0M56.8,378.1h1.0M59.7,376.8h1.0M57.7,378.7h1.0M54.0,385.3h1.0M57.1,380.3h1.0M60.5,382.1h1.0M56.7,382.1h1.0M55.6,379.5h1.0M58.6,379.3h1.0M60.0,381.2h1.0M58.5,377.4h1.0M58.5,372.9h1.0M58.7,379.0h1.0M57.1,377.7h1.0M56.2,377.8h1.0M58.0,372.0h1.0M59.8,378.9h1.0M58.7,377.8h1.0M60.8,374.6h1.0M58.6,379.8h1.0M58.6,373.8h1.0M60.0,376.2h1.0M57.9,379.2h1.0M58.1,377.4h1.0M58.6,379.8h1.0M57.5,377.7h1.0M58.5,378.2h1.0M58.9,379.0h1.0M58.7,372.0h1.0M60.2,376.3h1.0M59.0,375.2h1.0M57.7,373.4h1.0M61.4,376.7h1.0M56.5,378.8h1.0M59.6,372.9h1.0M57.7,375.7h1.0M57.7,375.2h1.0M32.2,388.7h1.0M38.5,392.0h1.0M32.1,386.6h1.0M40.2,389.2h1.0M39.5,388.8h1.0M35.9,387.8h1.0M40.2,389.0h1.0M33.2,388.3h1.0M41.0,389.4h1.0M35.6,387.7h1.0M53.8,392.3h1.0M53.5,389.0h1.0M40.8,391.8h1.0M42.0,388.3h1.0M30.0,386.4h1.0M48.8,392.3h1.0M44.6,390.6h1.0M32.4,387.7h1.0M37.2,388.3h1.0M42.7,391.8h1.0M52.2,393.6h1.0M49.4,391.4h1.0M51.7,390.6h1.0M41.1,391.2h1.0M50.7,388.7h1.0M53.2,390.9h1.0M52.3,389.7h1.0M46.1,388.9h1.0M44.6,389.8h1.0M49.6,390.1h1.0M50.9,388.7h1.0M48.2,391.8h1.0M38.1,392.1h1.0M38.1,391.8h1.0M43.3,388.4h1.0M42.0,388.0h1.0M47.6,388.4h1.0M42.9,389.9h1.0M44.4,388.9h1.0M47.6,390.7h1.0M41.8,388.3h1.0M41.4,388.1h1.0M42.5,387.8h1.0M44.5,388.9h1.0M46.9,388.3h1.0M44.1,389.4h1.0M46.7,390.0h1.0M43.3,388.1h1.0M47.3,388.3h1.0M43.6,389.8h1.0M41.9,388.2h1.0M41.5,390.2h1.0M41.4,389.4h1.0M48.1,390.6h1.0M43.0,390.0h1.0M46.1,389.7h1.0M42.4,388.7h1.0M47.4,390.3h1.0M41.6,389.6h1.0M56.3,351.1h1.0M54.1,367.7h1.0M54.6,380.6h1.0M55.9,377.2h1.0M30.4,385.2h1.0M30.9,386.7h1.0M36.0,384.9h1.0M42.1,385.9h1.0M47.2,386.2h1.0" stroke="#2f8c57" stroke-width="1.00" stroke-linecap="round" fill="none"/><path d="M68.1,385.2 L68.5,385.4 L69.0,383.2 L69.4,379.8 L69.8,377.1 L70.3,375.2 L70.7,373.6 L71.1,370.6 L71.6,370.0 L72.0,369.2 L72.4,369.0 L72.8,367.6 L73.3,370.2 L73.7,370.5 L74.1,371.0 L74.6,373.4 L75.0,374.1 L75.4,374.1 L75.9,375.4 L76.3,377.0 L76.7,377.2 L77.2,377.4 L77.6,379.1 L78.0,380.3 L78.5,383.8 L78.9,385.2 L79.3,385.7 L79.7,388.0 L80.2,387.0 L80.4,391.6 L68.1,391.6Z" fill="#e8605f"/><path d="M71.6,362.2h1.0M73.4,368.9h1.0M77.8,380.4h1.0M77.3,377.7h1.0M73.9,370.0h1.0M72.5,363.1h1.0M79.7,385.8h1.0M69.4,371.9h1.0M76.6,374.2h1.0M73.2,369.2h1.0M80.6,383.8h1.0M70.7,369.2h1.0M68.9,378.6h1.0M68.6,380.9h1.0M75.1,372.7h1.0M78.5,384.0h1.0M80.4,387.9h1.0M69.5,375.9h1.0M80.3,387.2h1.0M70.1,372.5h1.0M77.1,378.6h1.0M69.9,373.6h1.0M75.4,371.4h1.0M69.8,370.7h1.0M79.5,387.0h1.0M75.7,373.3h1.0M76.6,373.3h1.0M73.6,366.5h1.0M74.5,373.5h1.0M71.3,368.1h1.0M68.2,383.6h1.0M77.2,377.9h1.0M77.2,378.1h1.0M73.2,370.4h1.0M78.1,381.6h1.0M76.6,377.7h1.0M78.2,380.8h1.0M69.5,375.6h1.0M73.1,368.6h1.0M80.3,386.6h1.0M72.5,363.4h1.0M79.7,387.3h1.0M78.9,382.9h1.0M69.5,375.2h1.0M74.8,373.7h1.0M71.9,366.3h1.0M68.6,378.2h1.0M80.8,388.5h1.0M76.6,376.4h1.0M73.5,370.3h1.0M77.0,375.8h1.0M76.0,374.9h1.0M68.1,382.5h1.0M69.9,369.1h1.0M76.1,374.4h1.0M79.3,385.5h1.0M73.0,365.7h1.0M75.0,371.0h1.0M69.1,375.1h1.0M71.2,362.1h1.0M75.5,374.3h1.0M76.8,374.1h1.0M79.4,386.2h1.0M78.2,382.9h1.0M75.3,372.0h1.0M72.0,366.8h1.0M73.6,367.1h1.0M76.1,375.1h1.0M79.1,384.5h1.0M79.0,385.9h1.0M77.1,377.9h1.0M78.9,383.2h1.0M75.3,371.0h1.0M77.4,376.4h1.0M70.4,369.7h1.0M75.3,369.7h1.0M80.2,388.4h1.0M76.4,377.7h1.0M78.7,380.8h1.0M80.1,386.2h1.0M78.3,383.0h1.0M70.0,373.7h1.0M68.4,377.7h1.0M79.7,385.4h1.0M78.0,379.0h1.0M68.1,383.0h1.0M69.9,373.6h1.0M72.0,367.5h1.0M74.6,373.0h1.0M68.9,378.5h1.0M73.8,370.3h1.0M77.0,376.6h1.0M77.2,378.2h1.0M74.3,368.3h1.0M68.4,381.7h1.0M72.2,366.1h1.0M75.6,373.5h1.0M70.0,373.8h1.0M77.5,376.2h1.0M69.6,375.8h1.0M76.9,377.9h1.0M76.1,373.3h1.0M79.1,381.7h1.0M70.0,373.1h1.0M78.7,383.7h1.0M76.0,375.8h1.0M78.6,382.5h1.0M77.1,378.9h1.0M80.8,387.0h1.0M74.1,372.4h1.0M72.7,366.8h1.0M71.5,365.2h1.0M74.0,370.9h1.0M80.8,386.1h1.0M70.4,371.0h1.0M77.0,378.5h1.0M71.5,367.4h1.0M80.7,385.2h1.0M77.7,374.8h1.0M74.7,372.3h1.0M70.7,370.3h1.0M68.7,379.1h1.0M72.7,368.8h1.0M73.2,366.0h1.0M69.4,375.1h1.0M74.3,369.6h1.0M74.9,374.4h1.0M79.2,382.7h1.0M79.8,385.4h1.0M74.4,373.2h1.0M71.1,366.9h1.0M73.6,367.1h1.0M68.1,382.2h1.0M68.6,380.2h1.0M68.1,380.1h1.0M78.8,382.0h1.0M75.6,375.3h1.0M71.3,364.2h1.0M70.8,369.2h1.0M69.2,376.7h1.0M73.2,363.9h1.0M73.5,347.1h1.0M72.3,369.9h1.0M72.2,365.9h1.0M73.6,353.4h1.0M72.8,364.5h1.0M73.9,349.9h1.0M73.5,348.3h1.0M74.2,357.6h1.0M71.2,365.6h1.0M73.2,369.5h1.0M75.1,339.1h1.0M73.5,369.4h1.0M74.0,367.6h1.0M73.0,365.6h1.0M73.3,348.8h1.0M73.3,350.1h1.0M74.4,369.5h1.0M71.8,370.2h1.0M72.3,365.7h1.0M74.7,337.8h1.0M72.2,363.9h1.0M74.2,362.0h1.0M71.6,370.2h1.0M71.5,357.9h1.0M71.7,361.1h1.0M75.3,365.6h1.0M73.3,365.7h1.0M73.6,360.9h1.0M73.9,359.5h1.0M73.2,348.3h1.0M74.5,351.7h1.0M74.8,355.3h1.0M75.9,368.3h1.0M71.6,365.8h1.0M73.0,356.4h1.0M70.3,366.5h1.0M72.9,363.8h1.0M72.8,361.3h1.0M74.4,358.1h1.0M72.6,365.7h1.0M70.9,345.4h1.0M70.5,365.0h1.0M74.4,362.7h1.0M74.4,370.0h1.0M74.2,336.1h1.0M70.7,350.6h1.0M73.3,344.5h1.0M73.7,367.9h1.0M72.5,365.3h1.0M72.7,369.3h1.0M75.6,360.9h1.0M70.8,363.8h1.0M71.9,364.3h1.0M75.8,363.3h1.0M73.0,357.4h1.0M75.2,359.5h1.0M75.6,359.6h1.0M77.5,359.5h1.0M74.5,347.4h1.0M72.5,363.3h1.0M70.3,368.7h1.0M72.9,367.5h1.0M74.0,342.0h1.0M74.8,342.0h1.0M74.9,366.7h1.0M75.4,364.5h1.0M70.3,367.0h1.0M71.5,353.8h1.0M73.7,351.0h1.0M73.9,355.4h1.0M72.5,349.8h1.0M74.3,361.3h1.0M72.0,354.9h1.0M71.8,334.1h1.0M72.3,334.1h1.0M72.9,334.1h1.0M73.5,334.1h1.0M74.0,334.1h1.0M74.6,334.1h1.0M75.2,334.1h1.0M75.7,334.1h1.0M76.4,334.1h1.0M77.0,334.1h1.0M77.9,334.1h1.0M79.0,334.1h1.0M82.6,334.1h1.0M86.9,334.1h1.0M88.2,334.1h1.0M95.5,334.1h1.0M71.8,336.2h1.0M72.3,337.7h1.0M75.7,335.9h1.0M74.8,339.8h1.0M76.1,339.8h1.0M93.8,340.6h1.0M84.8,347.7h1.0M83.0,350.0h1.0M85.2,351.3h1.0M82.6,353.4h1.0M86.1,354.9h1.0M81.8,361.1h1.0M81.8,367.0h1.0M80.5,371.1h1.0M86.1,370.8h1.0M89.1,371.6h1.0M91.2,374.4h1.0M86.5,375.4h1.0M78.3,375.7h1.0M90.8,378.5h1.0M88.7,380.6h1.0M83.5,379.3h1.0M85.6,387.7h1.0M86.9,387.2h1.0M88.2,388.0h1.0M91.2,387.2h1.0M93.8,388.5h1.0M82.6,390.3h1.0M83.5,389.3h1.0M81.3,384.4h1.0M80.9,381.8h1.0M80.0,379.0h1.0" stroke="#e8605f" stroke-width="1.00" stroke-linecap="round" fill="none"/><path d="M98.5,354.2 L99.5,352.4 L100.5,354.2Z" fill="#e8605f"/><path d="M98.5,371.6 L99.5,369.8 L100.5,371.6Z" fill="#e8605f"/><path d="M98.5,376.0 L99.5,374.2 L100.5,376.0Z" fill="#e8605f"/><path d="M98.5,380.3 L99.5,378.5 L100.5,380.3Z" fill="#e8605f"/><path d="M98.5,388.5 L99.5,386.7 L100.5,388.5Z" fill="#e8605f"/><path d="M79.1,388.4h0.8M71.5,384.1h0.8M72.3,384.8h0.8M74.8,381.8h0.8M78.5,389.5h0.8M71.9,389.4h0.8M74.6,389.9h0.8M71.7,384.7h0.8M72.4,383.7h0.8M72.4,383.0h0.8M76.0,389.5h0.8M76.5,380.1h0.8M79.2,389.8h0.8M76.6,386.8h0.8M74.2,385.2h0.8M71.1,383.4h0.8M71.8,380.9h0.8M71.5,383.4h0.8M75.4,389.9h0.8M71.6,384.8h0.8M74.0,388.6h0.8M71.5,387.7h0.8M77.7,388.8h0.8M77.2,389.0h0.8M78.2,386.0h0.8M76.1,381.2h0.8M71.9,389.8h0.8M76.6,387.8h0.8M72.5,384.9h0.8M72.1,387.3h0.8M72.4,389.3h0.8M77.0,385.4h0.8M75.4,390.1h0.8M73.7,387.9h0.8M76.3,379.7h0.8M76.1,386.8h0.8M77.8,389.4h0.8M77.6,389.8h0.8" stroke="#fff" stroke-width="0.80" stroke-linecap="round" fill="none"/><path d="M81.6,391.0h0.9M77.1,391.2h0.9M78.4,390.8h0.9M74.3,390.2h0.9M81.0,391.4h0.9M71.6,389.8h0.9M72.7,391.2h0.9M75.6,391.4h0.9M74.3,391.5h0.9M74.1,390.2h0.9M78.5,389.9h0.9M80.9,391.5h0.9M78.7,390.5h0.9M76.6,391.0h0.9M80.7,390.8h0.9M80.9,391.8h0.9M72.9,391.8h0.9M77.9,391.0h0.9M72.4,391.3h0.9M74.7,391.4h0.9M74.8,390.7h0.9M68.3,391.6h0.9M75.2,390.6h0.9M76.2,390.4h0.9M74.0,390.0h0.9M78.6,390.9h0.9M75.9,390.2h0.9M71.9,391.4h0.9M74.9,390.9h0.9M68.7,390.9h0.9M80.7,390.1h0.9M75.4,390.5h0.9M73.1,391.9h0.9M79.4,390.8h0.9M76.4,390.7h0.9M81.5,391.4h0.9M75.9,390.4h0.9M77.5,390.0h0.9M68.6,390.3h0.9M68.5,391.4h0.9" stroke="#1f4a88" stroke-width="0.90" stroke-linecap="round" fill="none"/>
<circle cx="115.60" cy="340.10" r="2" fill="#e8605f"/>
<text x="121.8" y="342.4" font-size="6.6" fill="#1a1a1a">Upregulated (874)</text>
<circle cx="115.60" cy="350.20" r="2" fill="#2f8c57"/>
<text x="121.8" y="352.6" font-size="6.6" fill="#1a1a1a">Downregulated (478)</text>
<text x="150.4" y="375.4" font-size="6.6" text-anchor="middle" fill="#1a1a1a"><tspan font-style="italic">P</tspan><tspan dy="1.5" font-size="4.6">adj</tspan><tspan dy="-1.5" font-size="0.1"> </tspan> &lt; 0.05</text>
<text x="150.2" y="383.3" font-size="6.6" text-anchor="middle" fill="#1a1a1a">|log<tspan dy="1.5" font-size="4.6">2</tspan><tspan dy="-1.5" font-size="0.1"> </tspan>[fold change]| &gt; 0.32</text>
</g>
<g id="panel_j">
<text x="193.2" y="316.1" font-size="10.2" font-weight="bold" fill="#000">j</text>
<g shape-rendering="crispEdges"><rect x="209.90" y="364.50" width="6.37" height="10.65" fill="#fccbc6"/><rect x="216.12" y="364.50" width="6.37" height="10.65" fill="#f2736d"/><rect x="222.33" y="364.50" width="6.37" height="10.65" fill="#f0645e"/><rect x="228.55" y="364.50" width="6.37" height="10.65" fill="#ef5f59"/><rect x="234.76" y="364.50" width="6.37" height="10.65" fill="#ee5852"/><rect x="240.98" y="364.50" width="6.37" height="10.65" fill="#ed544f"/><rect x="247.19" y="364.50" width="6.37" height="10.65" fill="#ed544f"/><rect x="253.41" y="364.50" width="6.37" height="10.65" fill="#ed534e"/><rect x="259.63" y="364.50" width="6.37" height="10.65" fill="#ec4b47"/><rect x="265.84" y="364.50" width="6.37" height="10.65" fill="#ec4b47"/><rect x="272.06" y="364.50" width="6.37" height="10.65" fill="#ec4c47"/><rect x="278.27" y="364.50" width="6.37" height="10.65" fill="#ed504b"/><rect x="284.49" y="364.50" width="6.37" height="10.65" fill="#ec4844"/><rect x="290.70" y="364.50" width="6.37" height="10.65" fill="#ec4e49"/><rect x="296.92" y="364.50" width="6.37" height="10.65" fill="#e8302c"/><rect x="303.14" y="364.50" width="6.37" height="10.65" fill="#e8302c"/><rect x="309.35" y="364.50" width="6.37" height="10.65" fill="#e8302c"/><rect x="315.57" y="364.50" width="6.37" height="10.65" fill="#e93935"/><rect x="321.78" y="364.50" width="6.37" height="10.65" fill="#e93a36"/><rect x="328.00" y="364.50" width="6.37" height="10.65" fill="#ea3c37"/><rect x="334.21" y="364.50" width="6.37" height="10.65" fill="#eb433e"/><rect x="340.43" y="364.50" width="6.37" height="10.65" fill="#eb433e"/><rect x="346.65" y="364.50" width="6.37" height="10.65" fill="#eb433f"/><rect x="352.86" y="364.50" width="6.37" height="10.65" fill="#eb4540"/><rect x="359.08" y="364.50" width="6.37" height="10.65" fill="#eb4440"/><rect x="365.29" y="364.50" width="6.37" height="10.65" fill="#ea3f3b"/><rect x="371.51" y="364.50" width="6.37" height="10.65" fill="#ea3e3a"/><rect x="377.72" y="364.50" width="6.37" height="10.65" fill="#eb423e"/><rect x="383.94" y="364.50" width="6.37" height="10.65" fill="#ea413c"/><rect x="390.16" y="364.50" width="6.37" height="10.65" fill="#ea3e3a"/><rect x="396.37" y="364.50" width="6.37" height="10.65" fill="#ea3b37"/><rect x="402.59" y="364.50" width="6.37" height="10.65" fill="#eb423d"/><rect x="408.80" y="364.50" width="6.37" height="10.65" fill="#e93935"/><rect x="415.02" y="364.50" width="6.37" height="10.65" fill="#e8302c"/><rect x="421.23" y="364.50" width="6.37" height="10.65" fill="#e8332f"/><rect x="427.45" y="364.50" width="6.37" height="10.65" fill="#bdbfe2"/><rect x="433.67" y="364.50" width="6.37" height="10.65" fill="#d5d7ed"/><rect x="439.88" y="364.50" width="6.37" height="10.65" fill="#b4b7df"/><rect x="446.10" y="364.50" width="6.37" height="10.65" fill="#b3b6de"/><rect x="452.31" y="364.50" width="6.37" height="10.65" fill="#abaedb"/><rect x="458.53" y="364.50" width="6.37" height="10.65" fill="#b3b6de"/><rect x="464.74" y="364.50" width="6.37" height="10.65" fill="#bec0e3"/><rect x="470.96" y="364.50" width="6.37" height="10.65" fill="#afb2dd"/><rect x="477.18" y="364.50" width="6.37" height="10.65" fill="#b6b8df"/><rect x="483.39" y="364.50" width="6.37" height="10.65" fill="#b5b8df"/><rect x="489.61" y="364.50" width="6.37" height="10.65" fill="#8f95cf"/><rect x="495.82" y="364.50" width="6.37" height="10.65" fill="#b3b6de"/><rect x="502.04" y="364.50" width="6.37" height="10.65" fill="#b3b6de"/><rect x="508.25" y="364.50" width="6.37" height="10.65" fill="#b0b3dd"/><rect x="514.47" y="364.50" width="6.37" height="10.65" fill="#b1b4dd"/><rect x="520.69" y="364.50" width="6.37" height="10.65" fill="#abafdb"/><rect x="526.90" y="364.50" width="6.37" height="10.65" fill="#b5b8df"/><rect x="533.12" y="364.50" width="6.37" height="10.65" fill="#b1b4dd"/><rect x="539.33" y="364.50" width="6.37" height="10.65" fill="#b4b7df"/><rect x="545.55" y="364.50" width="6.37" height="10.65" fill="#afb2dd"/><rect x="551.76" y="364.50" width="6.37" height="10.65" fill="#babce1"/><rect x="557.98" y="364.50" width="6.37" height="10.65" fill="#b5b8df"/><rect x="564.20" y="364.50" width="6.37" height="10.65" fill="#b0b3dd"/><rect x="570.41" y="364.50" width="6.37" height="10.65" fill="#acb0db"/><rect x="576.63" y="364.50" width="6.37" height="10.65" fill="#b5b8df"/><rect x="582.84" y="364.50" width="6.37" height="10.65" fill="#aeb1dc"/><rect x="589.06" y="364.50" width="6.37" height="10.65" fill="#b0b4dd"/><rect x="595.27" y="364.50" width="6.37" height="10.65" fill="#a9acda"/><rect x="601.49" y="364.50" width="6.37" height="10.65" fill="#a5a9d8"/><rect x="607.71" y="364.50" width="6.37" height="10.65" fill="#cdcfe9"/><rect x="613.92" y="364.50" width="6.37" height="10.65" fill="#adb1dc"/><rect x="620.14" y="364.50" width="6.37" height="10.65" fill="#b5b8df"/><rect x="626.35" y="364.50" width="6.37" height="10.65" fill="#b3b6de"/><rect x="632.57" y="364.50" width="6.37" height="10.65" fill="#b5b8df"/><rect x="638.78" y="364.50" width="6.37" height="10.65" fill="#c3c5e5"/><rect x="209.90" y="375.00" width="6.37" height="10.65" fill="#f37871"/><rect x="216.12" y="375.00" width="6.37" height="10.65" fill="#f47f78"/><rect x="222.33" y="375.00" width="6.37" height="10.65" fill="#f8a7a0"/><rect x="228.55" y="375.00" width="6.37" height="10.65" fill="#f9ada6"/><rect x="234.76" y="375.00" width="6.37" height="10.65" fill="#f8a59f"/><rect x="240.98" y="375.00" width="6.37" height="10.65" fill="#f9b2ac"/><rect x="247.19" y="375.00" width="6.37" height="10.65" fill="#fab5af"/><rect x="253.41" y="375.00" width="6.37" height="10.65" fill="#fcd3ce"/><rect x="259.63" y="375.00" width="6.37" height="10.65" fill="#fcd0cb"/><rect x="265.84" y="375.00" width="6.37" height="10.65" fill="#fcd1cc"/><rect x="272.06" y="375.00" width="6.37" height="10.65" fill="#fccac3"/><rect x="278.27" y="375.00" width="6.37" height="10.65" fill="#fddad6"/><rect x="284.49" y="375.00" width="6.37" height="10.65" fill="#fccdc7"/><rect x="290.70" y="375.00" width="6.37" height="10.65" fill="#fcc8c2"/><rect x="296.92" y="375.00" width="6.37" height="10.65" fill="#feebe9"/><rect x="303.14" y="375.00" width="6.37" height="10.65" fill="#fee8e6"/><rect x="309.35" y="375.00" width="6.37" height="10.65" fill="#fde2df"/><rect x="315.57" y="375.00" width="6.37" height="10.65" fill="#feeae7"/><rect x="321.78" y="375.00" width="6.37" height="10.65" fill="#fee9e6"/><rect x="328.00" y="375.00" width="6.37" height="10.65" fill="#fee7e5"/><rect x="334.21" y="375.00" width="6.37" height="10.65" fill="#fde3df"/><rect x="340.43" y="375.00" width="6.37" height="10.65" fill="#fddcd8"/><rect x="346.65" y="375.00" width="6.37" height="10.65" fill="#fde4e1"/><rect x="352.86" y="375.00" width="6.37" height="10.65" fill="#fccbc5"/><rect x="359.08" y="375.00" width="6.37" height="10.65" fill="#fcc7c1"/><rect x="365.29" y="375.00" width="6.37" height="10.65" fill="#fccec8"/><rect x="371.51" y="375.00" width="6.37" height="10.65" fill="#fcd3ce"/><rect x="377.72" y="375.00" width="6.37" height="10.65" fill="#fbc0ba"/><rect x="383.94" y="375.00" width="6.37" height="10.65" fill="#fcccc6"/><rect x="390.16" y="375.00" width="6.37" height="10.65" fill="#eaebf6"/><rect x="396.37" y="375.00" width="6.37" height="10.65" fill="#e8e9f5"/><rect x="402.59" y="375.00" width="6.37" height="10.65" fill="#fffbfb"/><rect x="408.80" y="375.00" width="6.37" height="10.65" fill="#fbfbfd"/><rect x="415.02" y="375.00" width="6.37" height="10.65" fill="#fff8f7"/><rect x="421.23" y="375.00" width="6.37" height="10.65" fill="#fffefe"/><rect x="427.45" y="375.00" width="6.37" height="10.65" fill="#b5b8df"/><rect x="433.67" y="375.00" width="6.37" height="10.65" fill="#acafdb"/><rect x="439.88" y="375.00" width="6.37" height="10.65" fill="#b3b6de"/><rect x="446.10" y="375.00" width="6.37" height="10.65" fill="#acafdb"/><rect x="452.31" y="375.00" width="6.37" height="10.65" fill="#a4a8d8"/><rect x="458.53" y="375.00" width="6.37" height="10.65" fill="#aaadda"/><rect x="464.74" y="375.00" width="6.37" height="10.65" fill="#adb1dc"/><rect x="470.96" y="375.00" width="6.37" height="10.65" fill="#a3a7d7"/><rect x="477.18" y="375.00" width="6.37" height="10.65" fill="#c7c9e7"/><rect x="483.39" y="375.00" width="6.37" height="10.65" fill="#afb3dd"/><rect x="489.61" y="375.00" width="6.37" height="10.65" fill="#c0c3e4"/><rect x="495.82" y="375.00" width="6.37" height="10.65" fill="#b6b9df"/><rect x="502.04" y="375.00" width="6.37" height="10.65" fill="#999dd3"/><rect x="508.25" y="375.00" width="6.37" height="10.65" fill="#979cd2"/><rect x="514.47" y="375.00" width="6.37" height="10.65" fill="#b9bce1"/><rect x="520.69" y="375.00" width="6.37" height="10.65" fill="#9da2d5"/><rect x="526.90" y="375.00" width="6.37" height="10.65" fill="#9fa3d5"/><rect x="533.12" y="375.00" width="6.37" height="10.65" fill="#9da2d5"/><rect x="539.33" y="375.00" width="6.37" height="10.65" fill="#a0a4d6"/><rect x="545.55" y="375.00" width="6.37" height="10.65" fill="#9da1d5"/><rect x="551.76" y="375.00" width="6.37" height="10.65" fill="#a6aad9"/><rect x="557.98" y="375.00" width="6.37" height="10.65" fill="#a4a8d8"/><rect x="564.20" y="375.00" width="6.37" height="10.65" fill="#9fa3d5"/><rect x="570.41" y="375.00" width="6.37" height="10.65" fill="#abaedb"/><rect x="576.63" y="375.00" width="6.37" height="10.65" fill="#a9adda"/><rect x="582.84" y="375.00" width="6.37" height="10.65" fill="#9b9fd4"/><rect x="589.06" y="375.00" width="6.37" height="10.65" fill="#a8acda"/><rect x="595.27" y="375.00" width="6.37" height="10.65" fill="#a6aad9"/><rect x="601.49" y="375.00" width="6.37" height="10.65" fill="#a4a8d8"/><rect x="607.71" y="375.00" width="6.37" height="10.65" fill="#adb1dc"/><rect x="613.92" y="375.00" width="6.37" height="10.65" fill="#a5a8d8"/><rect x="620.14" y="375.00" width="6.37" height="10.65" fill="#a2a6d7"/><rect x="626.35" y="375.00" width="6.37" height="10.65" fill="#9ca0d4"/><rect x="632.57" y="375.00" width="6.37" height="10.65" fill="#aaaeda"/><rect x="638.78" y="375.00" width="6.37" height="10.65" fill="#a8abd9"/><rect x="209.90" y="385.50" width="6.37" height="10.65" fill="#f79a93"/><rect x="216.12" y="385.50" width="6.37" height="10.65" fill="#bfc1e3"/><rect x="222.33" y="385.50" width="6.37" height="10.65" fill="#c0c2e4"/><rect x="228.55" y="385.50" width="6.37" height="10.65" fill="#d2d4ec"/><rect x="234.76" y="385.50" width="6.37" height="10.65" fill="#e2e3f2"/><rect x="240.98" y="385.50" width="6.37" height="10.65" fill="#c3c5e5"/><rect x="247.19" y="385.50" width="6.37" height="10.65" fill="#c1c3e4"/><rect x="253.41" y="385.50" width="6.37" height="10.65" fill="#bfc1e3"/><rect x="259.63" y="385.50" width="6.37" height="10.65" fill="#c0c2e4"/><rect x="265.84" y="385.50" width="6.37" height="10.65" fill="#c0c3e4"/><rect x="272.06" y="385.50" width="6.37" height="10.65" fill="#c1c4e4"/><rect x="278.27" y="385.50" width="6.37" height="10.65" fill="#bbbee2"/><rect x="284.49" y="385.50" width="6.37" height="10.65" fill="#c0c3e4"/><rect x="290.70" y="385.50" width="6.37" height="10.65" fill="#d8daee"/><rect x="296.92" y="385.50" width="6.37" height="10.65" fill="#c1c3e4"/><rect x="303.14" y="385.50" width="6.37" height="10.65" fill="#c7c9e7"/><rect x="309.35" y="385.50" width="6.37" height="10.65" fill="#cbcde9"/><rect x="315.57" y="385.50" width="6.37" height="10.65" fill="#d0d2eb"/><rect x="321.78" y="385.50" width="6.37" height="10.65" fill="#d6d7ed"/><rect x="328.00" y="385.50" width="6.37" height="10.65" fill="#cbcde8"/><rect x="334.21" y="385.50" width="6.37" height="10.65" fill="#c2c4e5"/><rect x="340.43" y="385.50" width="6.37" height="10.65" fill="#cacce8"/><rect x="346.65" y="385.50" width="6.37" height="10.65" fill="#cecfea"/><rect x="352.86" y="385.50" width="6.37" height="10.65" fill="#d7d9ee"/><rect x="359.08" y="385.50" width="6.37" height="10.65" fill="#d2d4ec"/><rect x="365.29" y="385.50" width="6.37" height="10.65" fill="#c8cae8"/><rect x="371.51" y="385.50" width="6.37" height="10.65" fill="#c7c9e7"/><rect x="377.72" y="385.50" width="6.37" height="10.65" fill="#c3c5e5"/><rect x="383.94" y="385.50" width="6.37" height="10.65" fill="#cacce8"/><rect x="390.16" y="385.50" width="6.37" height="10.65" fill="#c5c7e6"/><rect x="396.37" y="385.50" width="6.37" height="10.65" fill="#dcddf0"/><rect x="402.59" y="385.50" width="6.37" height="10.65" fill="#c0c3e4"/><rect x="408.80" y="385.50" width="6.37" height="10.65" fill="#cacce8"/><rect x="415.02" y="385.50" width="6.37" height="10.65" fill="#c1c3e4"/><rect x="421.23" y="385.50" width="6.37" height="10.65" fill="#fef0ee"/><rect x="427.45" y="385.50" width="6.37" height="10.65" fill="#8790cc"/><rect x="433.67" y="385.50" width="6.37" height="10.65" fill="#9da2d5"/><rect x="439.88" y="385.50" width="6.37" height="10.65" fill="#b8bae0"/><rect x="446.10" y="385.50" width="6.37" height="10.65" fill="#a4a8d8"/><rect x="452.31" y="385.50" width="6.37" height="10.65" fill="#a4a7d8"/><rect x="458.53" y="385.50" width="6.37" height="10.65" fill="#a7aad9"/><rect x="464.74" y="385.50" width="6.37" height="10.65" fill="#a6aad9"/><rect x="470.96" y="385.50" width="6.37" height="10.65" fill="#a4a8d8"/><rect x="477.18" y="385.50" width="6.37" height="10.65" fill="#8f95cf"/><rect x="483.39" y="385.50" width="6.37" height="10.65" fill="#c2c4e5"/><rect x="489.61" y="385.50" width="6.37" height="10.65" fill="#b5b8df"/><rect x="495.82" y="385.50" width="6.37" height="10.65" fill="#b0b3dd"/><rect x="502.04" y="385.50" width="6.37" height="10.65" fill="#b3b6de"/><rect x="508.25" y="385.50" width="6.37" height="10.65" fill="#abaedb"/><rect x="514.47" y="385.50" width="6.37" height="10.65" fill="#acafdb"/><rect x="520.69" y="385.50" width="6.37" height="10.65" fill="#b1b5de"/><rect x="526.90" y="385.50" width="6.37" height="10.65" fill="#a7abd9"/><rect x="533.12" y="385.50" width="6.37" height="10.65" fill="#abaedb"/><rect x="539.33" y="385.50" width="6.37" height="10.65" fill="#b1b4dd"/><rect x="545.55" y="385.50" width="6.37" height="10.65" fill="#a8acda"/><rect x="551.76" y="385.50" width="6.37" height="10.65" fill="#a7abd9"/><rect x="557.98" y="385.50" width="6.37" height="10.65" fill="#afb2dc"/><rect x="564.20" y="385.50" width="6.37" height="10.65" fill="#aaaeda"/><rect x="570.41" y="385.50" width="6.37" height="10.65" fill="#b1b4dd"/><rect x="576.63" y="385.50" width="6.37" height="10.65" fill="#b0b3dd"/><rect x="582.84" y="385.50" width="6.37" height="10.65" fill="#bcbee2"/><rect x="589.06" y="385.50" width="6.37" height="10.65" fill="#aeb2dc"/><rect x="595.27" y="385.50" width="6.37" height="10.65" fill="#b0b4dd"/><rect x="601.49" y="385.50" width="6.37" height="10.65" fill="#b4b7df"/><rect x="607.71" y="385.50" width="6.37" height="10.65" fill="#a7aad9"/><rect x="613.92" y="385.50" width="6.37" height="10.65" fill="#adb1dc"/><rect x="620.14" y="385.50" width="6.37" height="10.65" fill="#a2a6d7"/><rect x="626.35" y="385.50" width="6.37" height="10.65" fill="#afb2dc"/><rect x="632.57" y="385.50" width="6.37" height="10.65" fill="#afb2dc"/><rect x="638.78" y="385.50" width="6.37" height="10.65" fill="#b2b5de"/><rect x="209.90" y="396.00" width="6.37" height="10.65" fill="#979cd2"/><rect x="216.12" y="396.00" width="6.37" height="10.65" fill="#a6aad9"/><rect x="222.33" y="396.00" width="6.37" height="10.65" fill="#9ba0d4"/><rect x="228.55" y="396.00" width="6.37" height="10.65" fill="#b0b4dd"/><rect x="234.76" y="396.00" width="6.37" height="10.65" fill="#aeb1dc"/><rect x="240.98" y="396.00" width="6.37" height="10.65" fill="#b2b5de"/><rect x="247.19" y="396.00" width="6.37" height="10.65" fill="#acb0db"/><rect x="253.41" y="396.00" width="6.37" height="10.65" fill="#9a9fd3"/><rect x="259.63" y="396.00" width="6.37" height="10.65" fill="#b4b7df"/><rect x="265.84" y="396.00" width="6.37" height="10.65" fill="#babde1"/><rect x="272.06" y="396.00" width="6.37" height="10.65" fill="#acb0db"/><rect x="278.27" y="396.00" width="6.37" height="10.65" fill="#a9adda"/><rect x="284.49" y="396.00" width="6.37" height="10.65" fill="#a3a7d7"/><rect x="290.70" y="396.00" width="6.37" height="10.65" fill="#a2a6d7"/><rect x="296.92" y="396.00" width="6.37" height="10.65" fill="#babce1"/><rect x="303.14" y="396.00" width="6.37" height="10.65" fill="#babde1"/><rect x="309.35" y="396.00" width="6.37" height="10.65" fill="#bdc0e3"/><rect x="315.57" y="396.00" width="6.37" height="10.65" fill="#babce1"/><rect x="321.78" y="396.00" width="6.37" height="10.65" fill="#bcbfe2"/><rect x="328.00" y="396.00" width="6.37" height="10.65" fill="#b7bae0"/><rect x="334.21" y="396.00" width="6.37" height="10.65" fill="#b7b9e0"/><rect x="340.43" y="396.00" width="6.37" height="10.65" fill="#bec1e3"/><rect x="346.65" y="396.00" width="6.37" height="10.65" fill="#bcbfe2"/><rect x="352.86" y="396.00" width="6.37" height="10.65" fill="#cacce8"/><rect x="359.08" y="396.00" width="6.37" height="10.65" fill="#bdbfe2"/><rect x="365.29" y="396.00" width="6.37" height="10.65" fill="#b1b4dd"/><rect x="371.51" y="396.00" width="6.37" height="10.65" fill="#bcbfe2"/><rect x="377.72" y="396.00" width="6.37" height="10.65" fill="#b3b6de"/><rect x="383.94" y="396.00" width="6.37" height="10.65" fill="#bdc0e3"/><rect x="390.16" y="396.00" width="6.37" height="10.65" fill="#b6b9df"/><rect x="396.37" y="396.00" width="6.37" height="10.65" fill="#b4b7df"/><rect x="402.59" y="396.00" width="6.37" height="10.65" fill="#b0b3dd"/><rect x="408.80" y="396.00" width="6.37" height="10.65" fill="#b9bbe1"/><rect x="415.02" y="396.00" width="6.37" height="10.65" fill="#b8bbe1"/><rect x="421.23" y="396.00" width="6.37" height="10.65" fill="#d1d2eb"/><rect x="427.45" y="396.00" width="6.37" height="10.65" fill="#fab3ad"/><rect x="433.67" y="396.00" width="6.37" height="10.65" fill="#fbc6bf"/><rect x="439.88" y="396.00" width="6.37" height="10.65" fill="#f9afa9"/><rect x="446.10" y="396.00" width="6.37" height="10.65" fill="#fabab4"/><rect x="452.31" y="396.00" width="6.37" height="10.65" fill="#f79790"/><rect x="458.53" y="396.00" width="6.37" height="10.65" fill="#fab5af"/><rect x="464.74" y="396.00" width="6.37" height="10.65" fill="#f6928b"/><rect x="470.96" y="396.00" width="6.37" height="10.65" fill="#f68f88"/><rect x="477.18" y="396.00" width="6.37" height="10.65" fill="#feedeb"/><rect x="483.39" y="396.00" width="6.37" height="10.65" fill="#e7e8f5"/><rect x="489.61" y="396.00" width="6.37" height="10.65" fill="#fef3f1"/><rect x="495.82" y="396.00" width="6.37" height="10.65" fill="#f9aea7"/><rect x="502.04" y="396.00" width="6.37" height="10.65" fill="#f9b2ac"/><rect x="508.25" y="396.00" width="6.37" height="10.65" fill="#f68c85"/><rect x="514.47" y="396.00" width="6.37" height="10.65" fill="#f58983"/><rect x="520.69" y="396.00" width="6.37" height="10.65" fill="#f79d96"/><rect x="526.90" y="396.00" width="6.37" height="10.65" fill="#f68f88"/><rect x="533.12" y="396.00" width="6.37" height="10.65" fill="#f6938c"/><rect x="539.33" y="396.00" width="6.37" height="10.65" fill="#f4827b"/><rect x="545.55" y="396.00" width="6.37" height="10.65" fill="#f5857e"/><rect x="551.76" y="396.00" width="6.37" height="10.65" fill="#f48079"/><rect x="557.98" y="396.00" width="6.37" height="10.65" fill="#f37872"/><rect x="564.20" y="396.00" width="6.37" height="10.65" fill="#f2736d"/><rect x="570.41" y="396.00" width="6.37" height="10.65" fill="#f27670"/><rect x="576.63" y="396.00" width="6.37" height="10.65" fill="#f48079"/><rect x="582.84" y="396.00" width="6.37" height="10.65" fill="#f37e77"/><rect x="589.06" y="396.00" width="6.37" height="10.65" fill="#f37a73"/><rect x="595.27" y="396.00" width="6.37" height="10.65" fill="#f47f79"/><rect x="601.49" y="396.00" width="6.37" height="10.65" fill="#f47f79"/><rect x="607.71" y="396.00" width="6.37" height="10.65" fill="#f37872"/><rect x="613.92" y="396.00" width="6.37" height="10.65" fill="#f2726c"/><rect x="620.14" y="396.00" width="6.37" height="10.65" fill="#f27670"/><rect x="626.35" y="396.00" width="6.37" height="10.65" fill="#ef5f5a"/><rect x="632.57" y="396.00" width="6.37" height="10.65" fill="#ee5651"/><rect x="638.78" y="396.00" width="6.37" height="10.65" fill="#e8322e"/><rect x="209.90" y="406.50" width="6.37" height="10.65" fill="#828cca"/><rect x="216.12" y="406.50" width="6.37" height="10.65" fill="#d1d2eb"/><rect x="222.33" y="406.50" width="6.37" height="10.65" fill="#dfe0f1"/><rect x="228.55" y="406.50" width="6.37" height="10.65" fill="#9a9ed3"/><rect x="234.76" y="406.50" width="6.37" height="10.65" fill="#9ba0d4"/><rect x="240.98" y="406.50" width="6.37" height="10.65" fill="#9ca0d4"/><rect x="247.19" y="406.50" width="6.37" height="10.65" fill="#a3a7d7"/><rect x="253.41" y="406.50" width="6.37" height="10.65" fill="#d5d7ed"/><rect x="259.63" y="406.50" width="6.37" height="10.65" fill="#d1d2eb"/><rect x="265.84" y="406.50" width="6.37" height="10.65" fill="#d4d5ec"/><rect x="272.06" y="406.50" width="6.37" height="10.65" fill="#cccde9"/><rect x="278.27" y="406.50" width="6.37" height="10.65" fill="#cccee9"/><rect x="284.49" y="406.50" width="6.37" height="10.65" fill="#d6d7ed"/><rect x="290.70" y="406.50" width="6.37" height="10.65" fill="#c5c7e6"/><rect x="296.92" y="406.50" width="6.37" height="10.65" fill="#c1c3e4"/><rect x="303.14" y="406.50" width="6.37" height="10.65" fill="#c4c6e5"/><rect x="309.35" y="406.50" width="6.37" height="10.65" fill="#b8bae0"/><rect x="315.57" y="406.50" width="6.37" height="10.65" fill="#bbbde2"/><rect x="321.78" y="406.50" width="6.37" height="10.65" fill="#c0c2e4"/><rect x="328.00" y="406.50" width="6.37" height="10.65" fill="#babce1"/><rect x="334.21" y="406.50" width="6.37" height="10.65" fill="#bdbfe3"/><rect x="340.43" y="406.50" width="6.37" height="10.65" fill="#babde1"/><rect x="346.65" y="406.50" width="6.37" height="10.65" fill="#b3b6de"/><rect x="352.86" y="406.50" width="6.37" height="10.65" fill="#abafdb"/><rect x="359.08" y="406.50" width="6.37" height="10.65" fill="#babde1"/><rect x="365.29" y="406.50" width="6.37" height="10.65" fill="#b9bce1"/><rect x="371.51" y="406.50" width="6.37" height="10.65" fill="#b8bbe0"/><rect x="377.72" y="406.50" width="6.37" height="10.65" fill="#bcbfe2"/><rect x="383.94" y="406.50" width="6.37" height="10.65" fill="#bdc0e3"/><rect x="390.16" y="406.50" width="6.37" height="10.65" fill="#e0e1f2"/><rect x="396.37" y="406.50" width="6.37" height="10.65" fill="#d3d5ec"/><rect x="402.59" y="406.50" width="6.37" height="10.65" fill="#dedff1"/><rect x="408.80" y="406.50" width="6.37" height="10.65" fill="#d5d7ed"/><rect x="415.02" y="406.50" width="6.37" height="10.65" fill="#cdcee9"/><rect x="421.23" y="406.50" width="6.37" height="10.65" fill="#abafdb"/><rect x="427.45" y="406.50" width="6.37" height="10.65" fill="#ed5550"/><rect x="433.67" y="406.50" width="6.37" height="10.65" fill="#eb433e"/><rect x="439.88" y="406.50" width="6.37" height="10.65" fill="#ec4843"/><rect x="446.10" y="406.50" width="6.37" height="10.65" fill="#ea3c38"/><rect x="452.31" y="406.50" width="6.37" height="10.65" fill="#ef615b"/><rect x="458.53" y="406.50" width="6.37" height="10.65" fill="#ed554f"/><rect x="464.74" y="406.50" width="6.37" height="10.65" fill="#ee5852"/><rect x="470.96" y="406.50" width="6.37" height="10.65" fill="#f0645e"/><rect x="477.18" y="406.50" width="6.37" height="10.65" fill="#ee5751"/><rect x="483.39" y="406.50" width="6.37" height="10.65" fill="#ed4f4a"/><rect x="489.61" y="406.50" width="6.37" height="10.65" fill="#f68e87"/><rect x="495.82" y="406.50" width="6.37" height="10.65" fill="#f58b84"/><rect x="502.04" y="406.50" width="6.37" height="10.65" fill="#f58b84"/><rect x="508.25" y="406.50" width="6.37" height="10.65" fill="#f58982"/><rect x="514.47" y="406.50" width="6.37" height="10.65" fill="#fffcfb"/><rect x="520.69" y="406.50" width="6.37" height="10.65" fill="#f37973"/><rect x="526.90" y="406.50" width="6.37" height="10.65" fill="#f47f78"/><rect x="533.12" y="406.50" width="6.37" height="10.65" fill="#f4837d"/><rect x="539.33" y="406.50" width="6.37" height="10.65" fill="#f37b75"/><rect x="545.55" y="406.50" width="6.37" height="10.65" fill="#f47f78"/><rect x="551.76" y="406.50" width="6.37" height="10.65" fill="#f37e77"/><rect x="557.98" y="406.50" width="6.37" height="10.65" fill="#f4847e"/><rect x="564.20" y="406.50" width="6.37" height="10.65" fill="#f79a93"/><rect x="570.41" y="406.50" width="6.37" height="10.65" fill="#f8a29b"/><rect x="576.63" y="406.50" width="6.37" height="10.65" fill="#f9aaa3"/><rect x="582.84" y="406.50" width="6.37" height="10.65" fill="#f8a099"/><rect x="589.06" y="406.50" width="6.37" height="10.65" fill="#f5867f"/><rect x="595.27" y="406.50" width="6.37" height="10.65" fill="#f58882"/><rect x="601.49" y="406.50" width="6.37" height="10.65" fill="#f5867f"/><rect x="607.71" y="406.50" width="6.37" height="10.65" fill="#f58a83"/><rect x="613.92" y="406.50" width="6.37" height="10.65" fill="#f68f88"/><rect x="620.14" y="406.50" width="6.37" height="10.65" fill="#f68f88"/><rect x="626.35" y="406.50" width="6.37" height="10.65" fill="#f9a9a2"/><rect x="632.57" y="406.50" width="6.37" height="10.65" fill="#f9b1ab"/><rect x="638.78" y="406.50" width="6.37" height="10.65" fill="#fdddd9"/><rect x="209.90" y="417.00" width="6.37" height="10.65" fill="#c0c2e4"/><rect x="216.12" y="417.00" width="6.37" height="10.65" fill="#bdbfe2"/><rect x="222.33" y="417.00" width="6.37" height="10.65" fill="#b9bce1"/><rect x="228.55" y="417.00" width="6.37" height="10.65" fill="#bec0e3"/><rect x="234.76" y="417.00" width="6.37" height="10.65" fill="#bbbde2"/><rect x="240.98" y="417.00" width="6.37" height="10.65" fill="#b6b9e0"/><rect x="247.19" y="417.00" width="6.37" height="10.65" fill="#b7b9e0"/><rect x="253.41" y="417.00" width="6.37" height="10.65" fill="#c2c5e5"/><rect x="259.63" y="417.00" width="6.37" height="10.65" fill="#a8acda"/><rect x="265.84" y="417.00" width="6.37" height="10.65" fill="#aeb1dc"/><rect x="272.06" y="417.00" width="6.37" height="10.65" fill="#b4b7de"/><rect x="278.27" y="417.00" width="6.37" height="10.65" fill="#b0b3dd"/><rect x="284.49" y="417.00" width="6.37" height="10.65" fill="#b7bae0"/><rect x="290.70" y="417.00" width="6.37" height="10.65" fill="#a9adda"/><rect x="296.92" y="417.00" width="6.37" height="10.65" fill="#bfc1e3"/><rect x="303.14" y="417.00" width="6.37" height="10.65" fill="#b7bae0"/><rect x="309.35" y="417.00" width="6.37" height="10.65" fill="#bcbfe2"/><rect x="315.57" y="417.00" width="6.37" height="10.65" fill="#babce1"/><rect x="321.78" y="417.00" width="6.37" height="10.65" fill="#babde1"/><rect x="328.00" y="417.00" width="6.37" height="10.65" fill="#b9bbe1"/><rect x="334.21" y="417.00" width="6.37" height="10.65" fill="#b6b9df"/><rect x="340.43" y="417.00" width="6.37" height="10.65" fill="#bbbee2"/><rect x="346.65" y="417.00" width="6.37" height="10.65" fill="#babde1"/><rect x="352.86" y="417.00" width="6.37" height="10.65" fill="#afb3dd"/><rect x="359.08" y="417.00" width="6.37" height="10.65" fill="#b6b9e0"/><rect x="365.29" y="417.00" width="6.37" height="10.65" fill="#babce1"/><rect x="371.51" y="417.00" width="6.37" height="10.65" fill="#babde1"/><rect x="377.72" y="417.00" width="6.37" height="10.65" fill="#bfc1e3"/><rect x="383.94" y="417.00" width="6.37" height="10.65" fill="#b4b7df"/><rect x="390.16" y="417.00" width="6.37" height="10.65" fill="#c1c4e4"/><rect x="396.37" y="417.00" width="6.37" height="10.65" fill="#c0c2e4"/><rect x="402.59" y="417.00" width="6.37" height="10.65" fill="#bbbee2"/><rect x="408.80" y="417.00" width="6.37" height="10.65" fill="#b5b8df"/><rect x="415.02" y="417.00" width="6.37" height="10.65" fill="#a2a6d7"/><rect x="421.23" y="417.00" width="6.37" height="10.65" fill="#959ad1"/><rect x="427.45" y="417.00" width="6.37" height="10.65" fill="#fef1f0"/><rect x="433.67" y="417.00" width="6.37" height="10.65" fill="#f5f5fb"/><rect x="439.88" y="417.00" width="6.37" height="10.65" fill="#fffcfc"/><rect x="446.10" y="417.00" width="6.37" height="10.65" fill="#f5f6fb"/><rect x="452.31" y="417.00" width="6.37" height="10.65" fill="#feebe9"/><rect x="458.53" y="417.00" width="6.37" height="10.65" fill="#fef1ef"/><rect x="464.74" y="417.00" width="6.37" height="10.65" fill="#d7d9ee"/><rect x="470.96" y="417.00" width="6.37" height="10.65" fill="#e4e4f3"/><rect x="477.18" y="417.00" width="6.37" height="10.65" fill="#fbc0ba"/><rect x="483.39" y="417.00" width="6.37" height="10.65" fill="#fab9b2"/><rect x="489.61" y="417.00" width="6.37" height="10.65" fill="#f16f69"/><rect x="495.82" y="417.00" width="6.37" height="10.65" fill="#f4837c"/><rect x="502.04" y="417.00" width="6.37" height="10.65" fill="#f37b74"/><rect x="508.25" y="417.00" width="6.37" height="10.65" fill="#fab5af"/><rect x="514.47" y="417.00" width="6.37" height="10.65" fill="#f16c66"/><rect x="520.69" y="417.00" width="6.37" height="10.65" fill="#fbc0b9"/><rect x="526.90" y="417.00" width="6.37" height="10.65" fill="#fbc2bc"/><rect x="533.12" y="417.00" width="6.37" height="10.65" fill="#f9aaa3"/><rect x="539.33" y="417.00" width="6.37" height="10.65" fill="#fcd1cb"/><rect x="545.55" y="417.00" width="6.37" height="10.65" fill="#fddfdb"/><rect x="551.76" y="417.00" width="6.37" height="10.65" fill="#fcd2cd"/><rect x="557.98" y="417.00" width="6.37" height="10.65" fill="#fbc0ba"/><rect x="564.20" y="417.00" width="6.37" height="10.65" fill="#fabbb4"/><rect x="570.41" y="417.00" width="6.37" height="10.65" fill="#fcc7c1"/><rect x="576.63" y="417.00" width="6.37" height="10.65" fill="#fccac4"/><rect x="582.84" y="417.00" width="6.37" height="10.65" fill="#fccbc5"/><rect x="589.06" y="417.00" width="6.37" height="10.65" fill="#f2f2f9"/><rect x="595.27" y="417.00" width="6.37" height="10.65" fill="#feebe8"/><rect x="601.49" y="417.00" width="6.37" height="10.65" fill="#fde2df"/><rect x="607.71" y="417.00" width="6.37" height="10.65" fill="#fffbfa"/><rect x="613.92" y="417.00" width="6.37" height="10.65" fill="#fee6e3"/><rect x="620.14" y="417.00" width="6.37" height="10.65" fill="#feebe8"/><rect x="626.35" y="417.00" width="6.37" height="10.65" fill="#fef3f2"/><rect x="632.57" y="417.00" width="6.37" height="10.65" fill="#fef5f4"/><rect x="638.78" y="417.00" width="6.37" height="10.65" fill="#dadbef"/></g>
<text x="206.6" y="372.05" font-size="6.6" text-anchor="end" fill="#1a1a1a">CT1</text>
<text x="206.6" y="382.55" font-size="6.6" text-anchor="end" fill="#1a1a1a">CT2</text>
<text x="206.6" y="393.05" font-size="6.6" text-anchor="end" fill="#1a1a1a">CT3</text>
<text x="206.6" y="403.55" font-size="6.6" text-anchor="end" fill="#1a1a1a">PS1</text>
<text x="206.6" y="414.05" font-size="6.6" text-anchor="end" fill="#1a1a1a">PS2</text>
<text x="206.6" y="424.55" font-size="6.6" text-anchor="end" fill="#1a1a1a">PS3</text>
<text x="214.91" y="360.8" font-size="6.6" font-style="italic" fill="#1a1a1a" transform="rotate(-90 214.91 360.8)">Olfr111</text>
<text x="221.12" y="360.8" font-size="6.6" font-style="italic" fill="#1a1a1a" transform="rotate(-90 221.12 360.8)">Prss57</text>
<text x="227.34" y="360.8" font-size="6.6" font-style="italic" fill="#1a1a1a" transform="rotate(-90 227.34 360.8)">Nkain1</text>
<text x="233.56" y="360.8" font-size="6.6" font-style="italic" fill="#1a1a1a" transform="rotate(-90 233.56 360.8)">Bcl2l14</text>
<text x="239.77" y="360.8" font-size="6.6" font-style="italic" fill="#1a1a1a" transform="rotate(-90 239.77 360.8)">Hey1</text>
<text x="245.99" y="360.8" font-size="6.6" font-style="italic" fill="#1a1a1a" transform="rotate(-90 245.99 360.8)">Drc7</text>
<text x="252.20" y="360.8" font-size="6.6" font-style="italic" fill="#1a1a1a" transform="rotate(-90 252.20 360.8)">Bcl11b</text>
<text x="258.42" y="360.8" font-size="6.6" font-style="italic" fill="#1a1a1a" transform="rotate(-90 258.42 360.8)">Arpp21</text>
<text x="264.63" y="360.8" font-size="6.6" font-style="italic" fill="#1a1a1a" transform="rotate(-90 264.63 360.8)">Scart1</text>
<text x="270.85" y="360.8" font-size="6.6" font-style="italic" fill="#1a1a1a" transform="rotate(-90 270.85 360.8)">Gm19590</text>
<text x="277.06" y="360.8" font-size="6.6" font-style="italic" fill="#1a1a1a" transform="rotate(-90 277.06 360.8)">1810073O08Rik</text>
<text x="283.28" y="360.8" font-size="6.6" font-style="italic" fill="#1a1a1a" transform="rotate(-90 283.28 360.8)">Chdh</text>
<text x="289.50" y="360.8" font-size="6.6" font-style="italic" fill="#1a1a1a" transform="rotate(-90 289.50 360.8)">Cd27</text>
<text x="295.71" y="360.8" font-size="6.6" font-style="italic" fill="#1a1a1a" transform="rotate(-90 295.71 360.8)">4930519L02Rik</text>
<text x="301.93" y="360.8" font-size="6.6" font-style="italic" fill="#1a1a1a" transform="rotate(-90 301.93 360.8)">Gm19696</text>
<text x="308.14" y="360.8" font-size="6.6" font-style="italic" fill="#1a1a1a" transform="rotate(-90 308.14 360.8)">Il2ra</text>
<text x="314.36" y="360.8" font-size="6.6" font-style="italic" fill="#1a1a1a" transform="rotate(-90 314.36 360.8)">Cldn2</text>
<text x="320.57" y="360.8" font-size="6.6" font-style="italic" fill="#1a1a1a" transform="rotate(-90 320.57 360.8)">Trbc2</text>
<text x="326.79" y="360.8" font-size="6.6" font-style="italic" fill="#1a1a1a" transform="rotate(-90 326.79 360.8)">Fam169b</text>
<text x="333.01" y="360.8" font-size="6.6" font-style="italic" fill="#1a1a1a" transform="rotate(-90 333.01 360.8)">Trgc1</text>
<text x="339.22" y="360.8" font-size="6.6" font-style="italic" fill="#1a1a1a" transform="rotate(-90 339.22 360.8)">Trgc2</text>
<text x="345.44" y="360.8" font-size="6.6" font-style="italic" fill="#1a1a1a" transform="rotate(-90 345.44 360.8)">Lck</text>
<text x="351.65" y="360.8" font-size="6.6" font-style="italic" fill="#1a1a1a" transform="rotate(-90 351.65 360.8)">Gzma</text>
<text x="357.87" y="360.8" font-size="6.6" font-style="italic" fill="#1a1a1a" transform="rotate(-90 357.87 360.8)">Traf1</text>
<text x="364.09" y="360.8" font-size="6.6" font-style="italic" fill="#1a1a1a" transform="rotate(-90 364.09 360.8)">Gm32742</text>
<text x="370.30" y="360.8" font-size="6.6" font-style="italic" fill="#1a1a1a" transform="rotate(-90 370.30 360.8)">Trbc1</text>
<text x="376.52" y="360.8" font-size="6.6" font-style="italic" fill="#1a1a1a" transform="rotate(-90 376.52 360.8)">Khdc1a</text>
<text x="382.73" y="360.8" font-size="6.6" font-style="italic" fill="#1a1a1a" transform="rotate(-90 382.73 360.8)">Hnf4a</text>
<text x="388.95" y="360.8" font-size="6.6" font-style="italic" fill="#1a1a1a" transform="rotate(-90 388.95 360.8)">Plekhg7</text>
<text x="395.16" y="360.8" font-size="6.6" font-style="italic" fill="#1a1a1a" transform="rotate(-90 395.16 360.8)">Dnajc6</text>
<text x="401.38" y="360.8" font-size="6.6" font-style="italic" fill="#1a1a1a" transform="rotate(-90 401.38 360.8)">Trbj1–1</text>
<text x="407.60" y="360.8" font-size="6.6" font-style="italic" fill="#1a1a1a" transform="rotate(-90 407.60 360.8)">Il17rb</text>
<text x="413.81" y="360.8" font-size="6.6" font-style="italic" fill="#1a1a1a" transform="rotate(-90 413.81 360.8)">Trdc</text>
<text x="420.03" y="360.8" font-size="6.6" font-style="italic" fill="#1a1a1a" transform="rotate(-90 420.03 360.8)">Themis</text>
<text x="426.24" y="360.8" font-size="6.6" font-style="italic" fill="#1a1a1a" transform="rotate(-90 426.24 360.8)">Ccl9</text>
<text x="432.46" y="360.8" font-size="6.6" font-style="italic" fill="#1a1a1a" transform="rotate(-90 432.46 360.8)">C230012O17Rik</text>
<text x="438.67" y="360.8" font-size="6.6" font-style="italic" fill="#1a1a1a" transform="rotate(-90 438.67 360.8)">Gjc3</text>
<text x="444.89" y="360.8" font-size="6.6" font-style="italic" fill="#1a1a1a" transform="rotate(-90 444.89 360.8)">Chil3</text>
<text x="451.11" y="360.8" font-size="6.6" font-style="italic" fill="#1a1a1a" transform="rotate(-90 451.11 360.8)">Syt4</text>
<text x="457.32" y="360.8" font-size="6.6" font-style="italic" fill="#1a1a1a" transform="rotate(-90 457.32 360.8)">Gm17019</text>
<text x="463.54" y="360.8" font-size="6.6" font-style="italic" fill="#1a1a1a" transform="rotate(-90 463.54 360.8)">Cadm3</text>
<text x="469.75" y="360.8" font-size="6.6" font-style="italic" fill="#1a1a1a" transform="rotate(-90 469.75 360.8)">Tfap2b</text>
<text x="475.97" y="360.8" font-size="6.6" font-style="italic" fill="#1a1a1a" transform="rotate(-90 475.97 360.8)">Galnt15</text>
<text x="482.18" y="360.8" font-size="6.6" font-style="italic" fill="#1a1a1a" transform="rotate(-90 482.18 360.8)">Has1</text>
<text x="488.40" y="360.8" font-size="6.6" font-style="italic" fill="#1a1a1a" transform="rotate(-90 488.40 360.8)">Scand1</text>
<text x="494.62" y="360.8" font-size="6.6" font-style="italic" fill="#1a1a1a" transform="rotate(-90 494.62 360.8)">Gm13889</text>
<text x="500.83" y="360.8" font-size="6.6" font-style="italic" fill="#1a1a1a" transform="rotate(-90 500.83 360.8)">Lamc2</text>
<text x="507.05" y="360.8" font-size="6.6" font-style="italic" fill="#1a1a1a" transform="rotate(-90 507.05 360.8)">Gldc</text>
<text x="513.26" y="360.8" font-size="6.6" font-style="italic" fill="#1a1a1a" transform="rotate(-90 513.26 360.8)">Sall3</text>
<text x="519.48" y="360.8" font-size="6.6" font-style="italic" fill="#1a1a1a" transform="rotate(-90 519.48 360.8)">Tmem171</text>
<text x="525.69" y="360.8" font-size="6.6" font-style="italic" fill="#1a1a1a" transform="rotate(-90 525.69 360.8)">Ctsj</text>
<text x="531.91" y="360.8" font-size="6.6" font-style="italic" fill="#1a1a1a" transform="rotate(-90 531.91 360.8)">Mrgprb1</text>
<text x="538.12" y="360.8" font-size="6.6" font-style="italic" fill="#1a1a1a" transform="rotate(-90 538.12 360.8)">Sema3e</text>
<text x="544.34" y="360.8" font-size="6.6" font-style="italic" fill="#1a1a1a" transform="rotate(-90 544.34 360.8)">Ptpn3</text>
<text x="550.56" y="360.8" font-size="6.6" font-style="italic" fill="#1a1a1a" transform="rotate(-90 550.56 360.8)">Tll1</text>
<text x="556.77" y="360.8" font-size="6.6" font-style="italic" fill="#1a1a1a" transform="rotate(-90 556.77 360.8)">Mrgprx2</text>
<text x="562.99" y="360.8" font-size="6.6" font-style="italic" fill="#1a1a1a" transform="rotate(-90 562.99 360.8)">Gm10334</text>
<text x="569.20" y="360.8" font-size="6.6" font-style="italic" fill="#1a1a1a" transform="rotate(-90 569.20 360.8)">Qpct</text>
<text x="575.42" y="360.8" font-size="6.6" font-style="italic" fill="#1a1a1a" transform="rotate(-90 575.42 360.8)">Far2os1</text>
<text x="581.63" y="360.8" font-size="6.6" font-style="italic" fill="#1a1a1a" transform="rotate(-90 581.63 360.8)">Dhrs9</text>
<text x="587.85" y="360.8" font-size="6.6" font-style="italic" fill="#1a1a1a" transform="rotate(-90 587.85 360.8)">Gm21083</text>
<text x="594.07" y="360.8" font-size="6.6" font-style="italic" fill="#1a1a1a" transform="rotate(-90 594.07 360.8)">Fcer1a</text>
<text x="600.28" y="360.8" font-size="6.6" font-style="italic" fill="#1a1a1a" transform="rotate(-90 600.28 360.8)">Elapor2</text>
<text x="606.50" y="360.8" font-size="6.6" font-style="italic" fill="#1a1a1a" transform="rotate(-90 606.50 360.8)">Cntn4</text>
<text x="612.71" y="360.8" font-size="6.6" font-style="italic" fill="#1a1a1a" transform="rotate(-90 612.71 360.8)">Gm35137</text>
<text x="618.93" y="360.8" font-size="6.6" font-style="italic" fill="#1a1a1a" transform="rotate(-90 618.93 360.8)">Gm36328</text>
<text x="625.14" y="360.8" font-size="6.6" font-style="italic" fill="#1a1a1a" transform="rotate(-90 625.14 360.8)">Gm43636</text>
<text x="631.36" y="360.8" font-size="6.6" font-style="italic" fill="#1a1a1a" transform="rotate(-90 631.36 360.8)">Speer4d</text>
<text x="637.58" y="360.8" font-size="6.6" font-style="italic" fill="#1a1a1a" transform="rotate(-90 637.58 360.8)">Fgf3</text>
<text x="643.79" y="360.8" font-size="6.6" font-style="italic" fill="#1a1a1a" transform="rotate(-90 643.79 360.8)">Fa2h</text>
<defs><linearGradient id="cbJ" x1="0" y1="0" x2="0" y2="1"><stop offset="0.000" stop-color="#e8302c"/><stop offset="0.125" stop-color="#ef605a"/><stop offset="0.250" stop-color="#f68f88"/><stop offset="0.375" stop-color="#fccbc5"/><stop offset="0.500" stop-color="#ffffff"/><stop offset="0.625" stop-color="#c5c7e6"/><stop offset="0.750" stop-color="#9297d0"/><stop offset="0.875" stop-color="#687ac0"/><stop offset="1.000" stop-color="#3e5caf"/></linearGradient></defs>
<rect x="661.7" y="386.5" width="7.6" height="31.1" fill="url(#cbJ)" stroke="#222" stroke-width="0.5"/>
<line x1="661.7" y1="388.2" x2="663" y2="388.2" stroke="#222" stroke-width="0.4"/>
<line x1="668" y1="388.2" x2="669.3" y2="388.2" stroke="#222" stroke-width="0.4"/>
<text x="671.2" y="390.59999999999997" font-size="6.6" fill="#1a1a1a">2</text>
<line x1="661.7" y1="395" x2="663" y2="395" stroke="#222" stroke-width="0.4"/>
<line x1="668" y1="395" x2="669.3" y2="395" stroke="#222" stroke-width="0.4"/>
<text x="671.2" y="397.4" font-size="6.6" fill="#1a1a1a">1</text>
<line x1="661.7" y1="401.8" x2="663" y2="401.8" stroke="#222" stroke-width="0.4"/>
<line x1="668" y1="401.8" x2="669.3" y2="401.8" stroke="#222" stroke-width="0.4"/>
<text x="671.2" y="404.2" font-size="6.6" fill="#1a1a1a">0</text>
<line x1="661.7" y1="409" x2="663" y2="409" stroke="#222" stroke-width="0.4"/>
<line x1="668" y1="409" x2="669.3" y2="409" stroke="#222" stroke-width="0.4"/>
<text x="671.2" y="411.4" font-size="6.6" fill="#1a1a1a">−1</text>
<line x1="661.7" y1="415.8" x2="663" y2="415.8" stroke="#222" stroke-width="0.4"/>
<line x1="668" y1="415.8" x2="669.3" y2="415.8" stroke="#222" stroke-width="0.4"/>
<text x="671.2" y="418.2" font-size="6.6" fill="#1a1a1a">−2</text>
<text x="665.6" y="374.7" font-size="6.6" text-anchor="middle" fill="#1a1a1a">Expression</text>
<text x="665.6" y="382" font-size="6.6" text-anchor="middle" fill="#1a1a1a">level</text>
</g>
<g id="panel_k">
<text x="0" y="443.9" font-size="10.2" font-weight="bold" fill="#000">k</text>
<text x="99.3" y="445.4" font-size="6.68" fill="#1a1a1a">GO terms enriched in mast cells of E18.5 PS offspring</text>
<line x1="181.4" y1="449.8" x2="181.4" y2="610.5" stroke="#444" stroke-width="0.6"/>
<text x="173.6" y="455.95" font-size="6.68" text-anchor="end" fill="#1a1a1a">Fc–epsilon receptor signalling pathway</text>
<line x1="178.2" y1="454.50" x2="181.4" y2="454.50" stroke="#444" stroke-width="0.5"/>
<rect x="181.40" y="453.05" width="122.30" height="2.90" fill="#1f4f9e"/>
<text x="173.6" y="462.02" font-size="6.68" text-anchor="end" fill="#1a1a1a">Positive regulation of chemokine biosynthetic process</text>
<line x1="178.2" y1="460.57" x2="181.4" y2="460.57" stroke="#444" stroke-width="0.5"/>
<rect x="181.40" y="459.12" width="108.60" height="2.90" fill="#1f4f9e"/>
<text x="173.6" y="468.09" font-size="6.68" text-anchor="end" fill="#1a1a1a">MAP kinase tyrosine/serine/threonine phosphatase activity</text>
<line x1="178.2" y1="466.64" x2="181.4" y2="466.64" stroke="#444" stroke-width="0.5"/>
<rect x="181.40" y="465.19" width="108.60" height="2.90" fill="#1f4f9e"/>
<text x="173.6" y="474.17" font-size="6.68" text-anchor="end" fill="#1a1a1a">Phosphatidylinositol 3-kinase regulator activity</text>
<line x1="178.2" y1="472.72" x2="181.4" y2="472.72" stroke="#444" stroke-width="0.5"/>
<rect x="181.40" y="471.27" width="103.60" height="2.90" fill="#1f4f9e"/>
<text x="173.6" y="480.24" font-size="6.68" text-anchor="end" fill="#1a1a1a">MHC class I protein binding</text>
<line x1="178.2" y1="478.79" x2="181.4" y2="478.79" stroke="#444" stroke-width="0.5"/>
<rect x="181.40" y="477.34" width="80.60" height="2.90" fill="#1f4f9e"/>
<text x="173.6" y="486.31" font-size="6.68" text-anchor="end" fill="#2a5aa8">Mast cell granule</text>
<line x1="178.2" y1="484.86" x2="181.4" y2="484.86" stroke="#444" stroke-width="0.5"/>
<rect x="181.40" y="483.41" width="73.40" height="2.90" fill="#1f4f9e"/>
<text x="173.6" y="492.38" font-size="6.68" text-anchor="end" fill="#1a1a1a">Membrane raft organization</text>
<line x1="178.2" y1="490.93" x2="181.4" y2="490.93" stroke="#444" stroke-width="0.5"/>
<rect x="181.40" y="489.48" width="67.40" height="2.90" fill="#1f4f9e"/>
<text x="173.6" y="498.45" font-size="6.68" text-anchor="end" fill="#1a1a1a">T helper 17 cell differentiation</text>
<line x1="178.2" y1="497.00" x2="181.4" y2="497.00" stroke="#444" stroke-width="0.5"/>
<rect x="181.40" y="495.55" width="65.60" height="2.90" fill="#1f4f9e"/>
<text x="173.6" y="504.53" font-size="6.68" text-anchor="end" fill="#1a1a1a">Positive regulation of acute inflammatory response</text>
<line x1="178.2" y1="503.08" x2="181.4" y2="503.08" stroke="#444" stroke-width="0.5"/>
<rect x="181.40" y="501.63" width="56.40" height="2.90" fill="#1f4f9e"/>
<text x="173.6" y="510.60" font-size="6.68" text-anchor="end" fill="#1a1a1a">Regulation of neuronal synaptic plasticity</text>
<line x1="178.2" y1="509.15" x2="181.4" y2="509.15" stroke="#444" stroke-width="0.5"/>
<rect x="181.40" y="507.70" width="46.60" height="2.90" fill="#1f4f9e"/>
<text x="173.6" y="516.67" font-size="6.68" text-anchor="end" fill="#2a5aa8">Mast cell degranulation</text>
<line x1="178.2" y1="515.22" x2="181.4" y2="515.22" stroke="#444" stroke-width="0.5"/>
<rect x="181.40" y="513.77" width="46.40" height="2.90" fill="#1f4f9e"/>
<text x="173.6" y="522.74" font-size="6.68" text-anchor="end" fill="#2a5aa8">Mast cell activation</text>
<line x1="178.2" y1="521.29" x2="181.4" y2="521.29" stroke="#444" stroke-width="0.5"/>
<rect x="181.40" y="519.84" width="44.30" height="2.90" fill="#1f4f9e"/>
<text x="173.6" y="528.81" font-size="6.68" text-anchor="end" fill="#1a1a1a">Cytokine receptor activity</text>
<line x1="178.2" y1="527.36" x2="181.4" y2="527.36" stroke="#444" stroke-width="0.5"/>
<rect x="181.40" y="525.91" width="37.50" height="2.90" fill="#1f4f9e"/>
<text x="173.6" y="534.89" font-size="6.68" text-anchor="end" fill="#1a1a1a">Regulation of immunoglobulin production</text>
<line x1="178.2" y1="533.44" x2="181.4" y2="533.44" stroke="#444" stroke-width="0.5"/>
<rect x="181.40" y="531.99" width="34.00" height="2.90" fill="#1f4f9e"/>
<text x="173.6" y="540.96" font-size="6.68" text-anchor="end" fill="#cf2a2e">Response to glucocorticoid</text>
<line x1="178.2" y1="539.51" x2="181.4" y2="539.51" stroke="#444" stroke-width="0.5"/>
<rect x="181.40" y="538.06" width="29.30" height="2.90" fill="#1f4f9e"/>
<text x="173.6" y="547.03" font-size="6.68" text-anchor="end" fill="#1a1a1a">Positive regulation of haemopoiesis</text>
<line x1="178.2" y1="545.58" x2="181.4" y2="545.58" stroke="#444" stroke-width="0.5"/>
<rect x="181.40" y="544.13" width="28.10" height="2.90" fill="#1f4f9e"/>
<text x="173.6" y="553.10" font-size="6.68" text-anchor="end" fill="#cf2a2e">Response to corticosteroid</text>
<line x1="178.2" y1="551.65" x2="181.4" y2="551.65" stroke="#444" stroke-width="0.5"/>
<rect x="181.40" y="550.20" width="27.10" height="2.90" fill="#1f4f9e"/>
<text x="173.6" y="559.17" font-size="6.68" text-anchor="end" fill="#1a1a1a">Protein secretion</text>
<line x1="178.2" y1="557.72" x2="181.4" y2="557.72" stroke="#444" stroke-width="0.5"/>
<rect x="181.40" y="556.27" width="19.60" height="2.90" fill="#1f4f9e"/>
<text x="173.6" y="565.25" font-size="6.68" text-anchor="end" fill="#1a1a1a">Regulation of endocytosis</text>
<line x1="178.2" y1="563.80" x2="181.4" y2="563.80" stroke="#444" stroke-width="0.5"/>
<rect x="181.40" y="562.35" width="18.60" height="2.90" fill="#1f4f9e"/>
<text x="173.6" y="571.32" font-size="6.68" text-anchor="end" fill="#cf2a2e">Response to steroid hormone</text>
<line x1="178.2" y1="569.87" x2="181.4" y2="569.87" stroke="#444" stroke-width="0.5"/>
<rect x="181.40" y="568.42" width="17.60" height="2.90" fill="#1f4f9e"/>
<text x="173.6" y="577.39" font-size="6.68" text-anchor="end" fill="#1a1a1a">Regulation of vesicle-mediated transport</text>
<line x1="178.2" y1="575.94" x2="181.4" y2="575.94" stroke="#444" stroke-width="0.5"/>
<rect x="181.40" y="574.49" width="16.60" height="2.90" fill="#1f4f9e"/>
<text x="173.6" y="583.46" font-size="6.68" text-anchor="end" fill="#1a1a1a">Cellular calcium ion homeostasis</text>
<line x1="178.2" y1="582.01" x2="181.4" y2="582.01" stroke="#444" stroke-width="0.5"/>
<rect x="181.40" y="580.56" width="16.10" height="2.90" fill="#1f4f9e"/>
<text x="173.6" y="589.53" font-size="6.68" text-anchor="end" fill="#1a1a1a">Regulation of transport</text>
<line x1="178.2" y1="588.08" x2="181.4" y2="588.08" stroke="#444" stroke-width="0.5"/>
<rect x="181.40" y="586.63" width="14.90" height="2.90" fill="#1f4f9e"/>
<text x="173.6" y="595.61" font-size="6.68" text-anchor="end" fill="#1a1a1a">Signalling receptor binding</text>
<line x1="178.2" y1="594.16" x2="181.4" y2="594.16" stroke="#444" stroke-width="0.5"/>
<rect x="181.40" y="592.71" width="14.60" height="2.90" fill="#1f4f9e"/>
<text x="173.6" y="601.68" font-size="6.68" text-anchor="end" fill="#1a1a1a">Peptide transport</text>
<line x1="178.2" y1="600.23" x2="181.4" y2="600.23" stroke="#444" stroke-width="0.5"/>
<rect x="181.40" y="598.78" width="13.60" height="2.90" fill="#1f4f9e"/>
<text x="173.6" y="607.75" font-size="6.68" text-anchor="end" fill="#1a1a1a">Intracellular transport</text>
<line x1="178.2" y1="606.30" x2="181.4" y2="606.30" stroke="#444" stroke-width="0.5"/>
<rect x="181.40" y="604.85" width="13.00" height="2.90" fill="#1f4f9e"/>
<line x1="181.4" y1="610.6" x2="323.6" y2="610.6" stroke="#444" stroke-width="0.6"/>
<line x1="181.1" y1="610.6" x2="181.1" y2="613.2" stroke="#444" stroke-width="0.6"/>
<text x="181.1" y="622.5" font-size="6.6" text-anchor="middle" fill="#1a1a1a">0</text>
<line x1="228.4" y1="610.6" x2="228.4" y2="613.2" stroke="#444" stroke-width="0.6"/>
<text x="228.4" y="622.5" font-size="6.6" text-anchor="middle" fill="#1a1a1a">5</text>
<line x1="276.1" y1="610.6" x2="276.1" y2="613.2" stroke="#444" stroke-width="0.6"/>
<text x="276.1" y="622.5" font-size="6.6" text-anchor="middle" fill="#1a1a1a">10</text>
<line x1="323.4" y1="610.6" x2="323.4" y2="613.2" stroke="#444" stroke-width="0.6"/>
<text x="323.4" y="622.5" font-size="6.6" text-anchor="middle" fill="#1a1a1a">15</text>
<line x1="180.6" y1="628.4" x2="180.6" y2="664.4" stroke="#444" stroke-width="0.6"/>
<line x1="180.6" y1="664.4" x2="284.3" y2="664.4" stroke="#444" stroke-width="0.6"/>
<text x="173.6" y="633.10" font-size="6.68" text-anchor="end" fill="#2a5aa8">Detection of mechanical stimuli/sensory perception</text>
<line x1="177.8" y1="631.50" x2="180.6" y2="631.50" stroke="#444" stroke-width="0.5"/>
<rect x="180.60" y="630.05" width="97.10" height="2.90" fill="#1f4f9e"/>
<text x="173.6" y="638.88" font-size="6.68" text-anchor="end" fill="#1a1a1a">Macrophage activation</text>
<line x1="177.8" y1="637.28" x2="180.6" y2="637.28" stroke="#444" stroke-width="0.5"/>
<rect x="180.60" y="635.83" width="94.20" height="2.90" fill="#1f4f9e"/>
<text x="173.6" y="644.66" font-size="6.68" text-anchor="end" fill="#1a1a1a">Negative regulation of lymphocyte activation</text>
<line x1="177.8" y1="643.06" x2="180.6" y2="643.06" stroke="#444" stroke-width="0.5"/>
<rect x="180.60" y="641.61" width="76.90" height="2.90" fill="#1f4f9e"/>
<text x="173.6" y="650.44" font-size="6.68" text-anchor="end" fill="#1a1a1a">Antigen processing and presentation</text>
<line x1="177.8" y1="648.84" x2="180.6" y2="648.84" stroke="#444" stroke-width="0.5"/>
<rect x="180.60" y="647.39" width="69.30" height="2.90" fill="#1f4f9e"/>
<text x="173.6" y="656.22" font-size="6.68" text-anchor="end" fill="#1a1a1a">Cellular component disassembly</text>
<line x1="177.8" y1="654.62" x2="180.6" y2="654.62" stroke="#444" stroke-width="0.5"/>
<rect x="180.60" y="653.17" width="52.70" height="2.90" fill="#1f4f9e"/>
<text x="173.6" y="662.00" font-size="6.68" text-anchor="end" fill="#2a5aa8">Cytoskeleton organization</text>
<line x1="177.8" y1="660.40" x2="180.6" y2="660.40" stroke="#444" stroke-width="0.5"/>
<rect x="180.60" y="658.95" width="33.80" height="2.90" fill="#1f4f9e"/>
<line x1="180.6" y1="664.4" x2="180.6" y2="667" stroke="#444" stroke-width="0.6"/>
<text x="180.6" y="676.4" font-size="6.6" text-anchor="middle" fill="#1a1a1a">0</text>
<line x1="215.2" y1="664.4" x2="215.2" y2="667" stroke="#444" stroke-width="0.6"/>
<text x="215.2" y="676.4" font-size="6.6" text-anchor="middle" fill="#1a1a1a">2</text>
<line x1="249.7" y1="664.4" x2="249.7" y2="667" stroke="#444" stroke-width="0.6"/>
<text x="249.7" y="676.4" font-size="6.6" text-anchor="middle" fill="#1a1a1a">4</text>
<line x1="284.3" y1="664.4" x2="284.3" y2="667" stroke="#444" stroke-width="0.6"/>
<text x="284.3" y="676.4" font-size="6.6" text-anchor="middle" fill="#1a1a1a">6</text>
<text x="232.4" y="686.2" font-size="6.6" text-anchor="middle" fill="#1a1a1a">Enrichment ratio</text>
<circle cx="266.20" cy="486.00" r="1.7" fill="#1f4f9e"/>
<circle cx="233.20" cy="516.70" r="1.7" fill="#1f4f9e"/>
<circle cx="231.60" cy="523.00" r="1.7" fill="#1f4f9e"/>
<path d="M266.2,486 L351.6,454.3 M233.2,516.7 L357.9,543.3 M231.6,523 L357.9,543.7" stroke="#2a56a8" stroke-width="0.7" stroke-dasharray="2.6 1.8" fill="none"/>
<g stroke="#222" stroke-width="0.45"><rect x="358.00" y="457.10" width="8.21" height="8.20" fill="#e74647"/><rect x="366.21" y="457.10" width="8.21" height="8.20" fill="#babee4"/><rect x="374.42" y="457.10" width="8.21" height="8.20" fill="#c8cbe9"/><rect x="382.63" y="457.10" width="8.21" height="8.20" fill="#babee4"/><rect x="390.84" y="457.10" width="8.21" height="8.20" fill="#abb1de"/><rect x="399.05" y="457.10" width="8.21" height="8.20" fill="#9ca4d7"/><rect x="407.26" y="457.10" width="8.21" height="8.20" fill="#abb1de"/><rect x="415.47" y="457.10" width="8.21" height="8.20" fill="#9ca4d7"/><rect x="423.68" y="457.10" width="8.21" height="8.20" fill="#c8cbe9"/><rect x="431.89" y="457.10" width="8.21" height="8.20" fill="#abb1de"/><rect x="440.10" y="457.10" width="8.21" height="8.20" fill="#abb1de"/><rect x="448.31" y="457.10" width="8.21" height="8.20" fill="#abb1de"/><rect x="456.52" y="457.10" width="8.21" height="8.20" fill="#8e96d1"/><rect x="464.73" y="457.10" width="8.21" height="8.20" fill="#babee4"/><rect x="358.00" y="465.30" width="8.21" height="8.20" fill="#e23234"/><rect x="366.21" y="465.30" width="8.21" height="8.20" fill="#4c61b3"/><rect x="374.42" y="465.30" width="8.21" height="8.20" fill="#6775c0"/><rect x="382.63" y="465.30" width="8.21" height="8.20" fill="#5e6fbb"/><rect x="390.84" y="465.30" width="8.21" height="8.20" fill="#5e6fbb"/><rect x="399.05" y="465.30" width="8.21" height="8.20" fill="#6775c0"/><rect x="407.26" y="465.30" width="8.21" height="8.20" fill="#5e6fbb"/><rect x="415.47" y="465.30" width="8.21" height="8.20" fill="#5e6fbb"/><rect x="423.68" y="465.30" width="8.21" height="8.20" fill="#babee4"/><rect x="431.89" y="465.30" width="8.21" height="8.20" fill="#6775c0"/><rect x="440.10" y="465.30" width="8.21" height="8.20" fill="#707cc4"/><rect x="448.31" y="465.30" width="8.21" height="8.20" fill="#6775c0"/><rect x="456.52" y="465.30" width="8.21" height="8.20" fill="#707cc4"/><rect x="464.73" y="465.30" width="8.21" height="8.20" fill="#5568b7"/><rect x="358.00" y="473.50" width="8.21" height="8.20" fill="#fcdede"/><rect x="366.21" y="473.50" width="8.21" height="8.20" fill="#fde5e4"/><rect x="374.42" y="473.50" width="8.21" height="8.20" fill="#f1f2fa"/><rect x="382.63" y="473.50" width="8.21" height="8.20" fill="#e3e5f4"/><rect x="390.84" y="473.50" width="8.21" height="8.20" fill="#f8f8fc"/><rect x="399.05" y="473.50" width="8.21" height="8.20" fill="#e3e5f4"/><rect x="407.26" y="473.50" width="8.21" height="8.20" fill="#ffffff"/><rect x="415.47" y="473.50" width="8.21" height="8.20" fill="#ffffff"/><rect x="423.68" y="473.50" width="8.21" height="8.20" fill="#e3e5f4"/><rect x="431.89" y="473.50" width="8.21" height="8.20" fill="#feeceb"/><rect x="440.10" y="473.50" width="8.21" height="8.20" fill="#ffffff"/><rect x="448.31" y="473.50" width="8.21" height="8.20" fill="#ffffff"/><rect x="456.52" y="473.50" width="8.21" height="8.20" fill="#f8f8fc"/><rect x="464.73" y="473.50" width="8.21" height="8.20" fill="#ffffff"/><rect x="358.00" y="481.70" width="8.21" height="8.20" fill="#abb1de"/><rect x="366.21" y="481.70" width="8.21" height="8.20" fill="#fabebc"/><rect x="374.42" y="481.70" width="8.21" height="8.20" fill="#f8aeac"/><rect x="382.63" y="481.70" width="8.21" height="8.20" fill="#f8aeac"/><rect x="390.84" y="481.70" width="8.21" height="8.20" fill="#f8aeac"/><rect x="399.05" y="481.70" width="8.21" height="8.20" fill="#f69e9d"/><rect x="407.26" y="481.70" width="8.21" height="8.20" fill="#f8aeac"/><rect x="415.47" y="481.70" width="8.21" height="8.20" fill="#f8aeac"/><rect x="423.68" y="481.70" width="8.21" height="8.20" fill="#fef8f8"/><rect x="431.89" y="481.70" width="8.21" height="8.20" fill="#f69e9d"/><rect x="440.10" y="481.70" width="8.21" height="8.20" fill="#fabebc"/><rect x="448.31" y="481.70" width="8.21" height="8.20" fill="#f69e9d"/><rect x="456.52" y="481.70" width="8.21" height="8.20" fill="#fcd8d7"/><rect x="464.73" y="481.70" width="8.21" height="8.20" fill="#f8aeac"/><rect x="358.00" y="489.90" width="8.21" height="8.20" fill="#c8cbe9"/><rect x="366.21" y="489.90" width="8.21" height="8.20" fill="#f8aeac"/><rect x="374.42" y="489.90" width="8.21" height="8.20" fill="#f69e9d"/><rect x="382.63" y="489.90" width="8.21" height="8.20" fill="#f69e9d"/><rect x="390.84" y="489.90" width="8.21" height="8.20" fill="#f69e9d"/><rect x="399.05" y="489.90" width="8.21" height="8.20" fill="#f27e7e"/><rect x="407.26" y="489.90" width="8.21" height="8.20" fill="#f69e9d"/><rect x="415.47" y="489.90" width="8.21" height="8.20" fill="#f8aeac"/><rect x="423.68" y="489.90" width="8.21" height="8.20" fill="#f69e9d"/><rect x="431.89" y="489.90" width="8.21" height="8.20" fill="#f69e9d"/><rect x="440.10" y="489.90" width="8.21" height="8.20" fill="#f8aeac"/><rect x="448.31" y="489.90" width="8.21" height="8.20" fill="#fabebc"/><rect x="456.52" y="489.90" width="8.21" height="8.20" fill="#f06e6e"/><rect x="464.73" y="489.90" width="8.21" height="8.20" fill="#f69e9d"/><rect x="358.00" y="498.10" width="8.21" height="8.20" fill="#fbcbc9"/><rect x="366.21" y="498.10" width="8.21" height="8.20" fill="#fabebc"/><rect x="374.42" y="498.10" width="8.21" height="8.20" fill="#f8aeac"/><rect x="382.63" y="498.10" width="8.21" height="8.20" fill="#f8aeac"/><rect x="390.84" y="498.10" width="8.21" height="8.20" fill="#fabebc"/><rect x="399.05" y="498.10" width="8.21" height="8.20" fill="#f8aeac"/><rect x="407.26" y="498.10" width="8.21" height="8.20" fill="#fabebc"/><rect x="415.47" y="498.10" width="8.21" height="8.20" fill="#f8aeac"/><rect x="423.68" y="498.10" width="8.21" height="8.20" fill="#f27e7e"/><rect x="431.89" y="498.10" width="8.21" height="8.20" fill="#feeceb"/><rect x="440.10" y="498.10" width="8.21" height="8.20" fill="#fabebc"/><rect x="448.31" y="498.10" width="8.21" height="8.20" fill="#f8aeac"/><rect x="456.52" y="498.10" width="8.21" height="8.20" fill="#f69e9d"/><rect x="464.73" y="498.10" width="8.21" height="8.20" fill="#fabebc"/></g>
<text x="355.6" y="463.5" font-size="6.6" text-anchor="end" fill="#1a1a1a">CT1</text>
<text x="355.6" y="471.7" font-size="6.6" text-anchor="end" fill="#1a1a1a">CT2</text>
<text x="355.6" y="479.9" font-size="6.6" text-anchor="end" fill="#1a1a1a">CT3</text>
<text x="355.6" y="488.1" font-size="6.6" text-anchor="end" fill="#1a1a1a">PS1</text>
<text x="355.6" y="496.3" font-size="6.6" text-anchor="end" fill="#1a1a1a">PS2</text>
<text x="355.6" y="504.5" font-size="6.6" text-anchor="end" fill="#1a1a1a">PS3</text>
<line x1="362.11" y1="506.3" x2="362.11" y2="508.7" stroke="#444" stroke-width="0.5"/>
<text x="364.31" y="512.6" font-size="6.6" text-anchor="end" font-style="italic" fill="#1a1a1a" transform="rotate(-90 364.31 512.6)">Actn1</text>
<line x1="370.31" y1="506.3" x2="370.31" y2="508.7" stroke="#444" stroke-width="0.5"/>
<text x="372.51" y="512.6" font-size="6.6" text-anchor="end" font-style="italic" fill="#1a1a1a" transform="rotate(-90 372.51 512.6)">Cd63</text>
<line x1="378.53" y1="506.3" x2="378.53" y2="508.7" stroke="#444" stroke-width="0.5"/>
<text x="380.73" y="512.6" font-size="6.6" text-anchor="end" font-style="italic" fill="#1a1a1a" transform="rotate(-90 380.73 512.6)">Dmd</text>
<line x1="386.74" y1="506.3" x2="386.74" y2="508.7" stroke="#444" stroke-width="0.5"/>
<text x="388.94" y="512.6" font-size="6.6" text-anchor="end" font-style="italic" fill="#1a1a1a" transform="rotate(-90 388.94 512.6)">Fxyd5</text>
<line x1="394.95" y1="506.3" x2="394.95" y2="508.7" stroke="#444" stroke-width="0.5"/>
<text x="397.15" y="512.6" font-size="6.6" text-anchor="end" font-style="italic" fill="#1a1a1a" transform="rotate(-90 397.15 512.6)">Hexb</text>
<line x1="403.16" y1="506.3" x2="403.16" y2="508.7" stroke="#444" stroke-width="0.5"/>
<text x="405.36" y="512.6" font-size="6.6" text-anchor="end" font-style="italic" fill="#1a1a1a" transform="rotate(-90 405.36 512.6)">Hs3st3a1</text>
<line x1="411.37" y1="506.3" x2="411.37" y2="508.7" stroke="#444" stroke-width="0.5"/>
<text x="413.56" y="512.6" font-size="6.6" text-anchor="end" font-style="italic" fill="#1a1a1a" transform="rotate(-90 413.56 512.6)">Serpinb1a</text>
<line x1="419.58" y1="506.3" x2="419.58" y2="508.7" stroke="#444" stroke-width="0.5"/>
<text x="421.78" y="512.6" font-size="6.6" text-anchor="end" font-style="italic" fill="#1a1a1a" transform="rotate(-90 421.78 512.6)">Srgn</text>
<line x1="427.79" y1="506.3" x2="427.79" y2="508.7" stroke="#444" stroke-width="0.5"/>
<text x="429.99" y="512.6" font-size="6.6" text-anchor="end" font-style="italic" fill="#1a1a1a" transform="rotate(-90 429.99 512.6)">Stx11</text>
<line x1="436.00" y1="506.3" x2="436.00" y2="508.7" stroke="#444" stroke-width="0.5"/>
<text x="438.19" y="512.6" font-size="6.6" text-anchor="end" font-style="italic" fill="#1a1a1a" transform="rotate(-90 438.19 512.6)">Tpsb2</text>
<line x1="444.21" y1="506.3" x2="444.21" y2="508.7" stroke="#444" stroke-width="0.5"/>
<text x="446.41" y="512.6" font-size="6.6" text-anchor="end" font-style="italic" fill="#1a1a1a" transform="rotate(-90 446.41 512.6)">Vamp4</text>
<line x1="452.42" y1="506.3" x2="452.42" y2="508.7" stroke="#444" stroke-width="0.5"/>
<text x="454.62" y="512.6" font-size="6.6" text-anchor="end" font-style="italic" fill="#1a1a1a" transform="rotate(-90 454.62 512.6)">Ncdn</text>
<line x1="460.62" y1="506.3" x2="460.62" y2="508.7" stroke="#444" stroke-width="0.5"/>
<text x="462.82" y="512.6" font-size="6.6" text-anchor="end" font-style="italic" fill="#1a1a1a" transform="rotate(-90 462.82 512.6)">Cox6a</text>
<line x1="468.84" y1="506.3" x2="468.84" y2="508.7" stroke="#444" stroke-width="0.5"/>
<text x="471.04" y="512.6" font-size="6.6" text-anchor="end" font-style="italic" fill="#1a1a1a" transform="rotate(-90 471.04 512.6)">Stk17b</text>
<text x="415.4" y="452.5" font-size="6.6" text-anchor="middle" fill="#1a1a1a">Granule formation/remodelling</text>
<g stroke="#222" stroke-width="0.45"><rect x="519.40" y="457.10" width="8.20" height="8.20" fill="#babee4"/><rect x="527.60" y="457.10" width="8.20" height="8.20" fill="#d6d8ef"/><rect x="535.80" y="457.10" width="8.20" height="8.20" fill="#abb1de"/><rect x="544.00" y="457.10" width="8.20" height="8.20" fill="#ffffff"/><rect x="552.20" y="457.10" width="8.20" height="8.20" fill="#babee4"/><rect x="560.40" y="457.10" width="8.20" height="8.20" fill="#d6d8ef"/><rect x="568.60" y="457.10" width="8.20" height="8.20" fill="#abb1de"/><rect x="576.80" y="457.10" width="8.20" height="8.20" fill="#abb1de"/><rect x="585.00" y="457.10" width="8.20" height="8.20" fill="#babee4"/><rect x="593.20" y="457.10" width="8.20" height="8.20" fill="#babee4"/><rect x="601.40" y="457.10" width="8.20" height="8.20" fill="#abb1de"/><rect x="609.60" y="457.10" width="8.20" height="8.20" fill="#d6d8ef"/><rect x="617.80" y="457.10" width="8.20" height="8.20" fill="#f8aeac"/><rect x="626.00" y="457.10" width="8.20" height="8.20" fill="#e43c3e"/><rect x="634.20" y="457.10" width="8.20" height="8.20" fill="#f8aeac"/><rect x="642.40" y="457.10" width="8.20" height="8.20" fill="#fabebc"/><rect x="650.60" y="457.10" width="8.20" height="8.20" fill="#ffffff"/><rect x="658.80" y="457.10" width="8.20" height="8.20" fill="#fabebc"/><rect x="519.40" y="465.30" width="8.20" height="8.20" fill="#abb1de"/><rect x="527.60" y="465.30" width="8.20" height="8.20" fill="#707cc4"/><rect x="535.80" y="465.30" width="8.20" height="8.20" fill="#9ca4d7"/><rect x="544.00" y="465.30" width="8.20" height="8.20" fill="#4c61b3"/><rect x="552.20" y="465.30" width="8.20" height="8.20" fill="#707cc4"/><rect x="560.40" y="465.30" width="8.20" height="8.20" fill="#8e96d1"/><rect x="568.60" y="465.30" width="8.20" height="8.20" fill="#8e96d1"/><rect x="576.80" y="465.30" width="8.20" height="8.20" fill="#abb1de"/><rect x="585.00" y="465.30" width="8.20" height="8.20" fill="#abb1de"/><rect x="593.20" y="465.30" width="8.20" height="8.20" fill="#c8cbe9"/><rect x="601.40" y="465.30" width="8.20" height="8.20" fill="#7f89ca"/><rect x="609.60" y="465.30" width="8.20" height="8.20" fill="#9ca4d7"/><rect x="617.80" y="465.30" width="8.20" height="8.20" fill="#eb5a5b"/><rect x="626.00" y="465.30" width="8.20" height="8.20" fill="#fcd8d7"/><rect x="634.20" y="465.30" width="8.20" height="8.20" fill="#f06e6e"/><rect x="642.40" y="465.30" width="8.20" height="8.20" fill="#f27e7e"/><rect x="650.60" y="465.30" width="8.20" height="8.20" fill="#ee6464"/><rect x="658.80" y="465.30" width="8.20" height="8.20" fill="#f06e6e"/><rect x="519.40" y="473.50" width="8.20" height="8.20" fill="#c8cbe9"/><rect x="527.60" y="473.50" width="8.20" height="8.20" fill="#c8cbe9"/><rect x="535.80" y="473.50" width="8.20" height="8.20" fill="#abb1de"/><rect x="544.00" y="473.50" width="8.20" height="8.20" fill="#d6d8ef"/><rect x="552.20" y="473.50" width="8.20" height="8.20" fill="#d6d8ef"/><rect x="560.40" y="473.50" width="8.20" height="8.20" fill="#babee4"/><rect x="568.60" y="473.50" width="8.20" height="8.20" fill="#babee4"/><rect x="576.80" y="473.50" width="8.20" height="8.20" fill="#e3e5f4"/><rect x="585.00" y="473.50" width="8.20" height="8.20" fill="#babee4"/><rect x="593.20" y="473.50" width="8.20" height="8.20" fill="#e3e5f4"/><rect x="601.40" y="473.50" width="8.20" height="8.20" fill="#f1f2fa"/><rect x="609.60" y="473.50" width="8.20" height="8.20" fill="#babee4"/><rect x="617.80" y="473.50" width="8.20" height="8.20" fill="#fabebc"/><rect x="626.00" y="473.50" width="8.20" height="8.20" fill="#e3e5f4"/><rect x="634.20" y="473.50" width="8.20" height="8.20" fill="#ee6464"/><rect x="642.40" y="473.50" width="8.20" height="8.20" fill="#eb5a5b"/><rect x="650.60" y="473.50" width="8.20" height="8.20" fill="#f06e6e"/><rect x="658.80" y="473.50" width="8.20" height="8.20" fill="#f27e7e"/><rect x="519.40" y="481.70" width="8.20" height="8.20" fill="#ee6464"/><rect x="527.60" y="481.70" width="8.20" height="8.20" fill="#f69e9d"/><rect x="535.80" y="481.70" width="8.20" height="8.20" fill="#f27e7e"/><rect x="544.00" y="481.70" width="8.20" height="8.20" fill="#f06e6e"/><rect x="552.20" y="481.70" width="8.20" height="8.20" fill="#f27e7e"/><rect x="560.40" y="481.70" width="8.20" height="8.20" fill="#f27e7e"/><rect x="568.60" y="481.70" width="8.20" height="8.20" fill="#f27e7e"/><rect x="576.80" y="481.70" width="8.20" height="8.20" fill="#f48e8d"/><rect x="585.00" y="481.70" width="8.20" height="8.20" fill="#f27e7e"/><rect x="593.20" y="481.70" width="8.20" height="8.20" fill="#e74647"/><rect x="601.40" y="481.70" width="8.20" height="8.20" fill="#eb5a5b"/><rect x="609.60" y="481.70" width="8.20" height="8.20" fill="#fde5e4"/><rect x="617.80" y="481.70" width="8.20" height="8.20" fill="#fcd8d7"/><rect x="626.00" y="481.70" width="8.20" height="8.20" fill="#c8cbe9"/><rect x="634.20" y="481.70" width="8.20" height="8.20" fill="#abb1de"/><rect x="642.40" y="481.70" width="8.20" height="8.20" fill="#d6d8ef"/><rect x="650.60" y="481.70" width="8.20" height="8.20" fill="#abb1de"/><rect x="658.80" y="481.70" width="8.20" height="8.20" fill="#7f89ca"/><rect x="519.40" y="489.90" width="8.20" height="8.20" fill="#ee6464"/><rect x="527.60" y="489.90" width="8.20" height="8.20" fill="#e74647"/><rect x="535.80" y="489.90" width="8.20" height="8.20" fill="#f06e6e"/><rect x="544.00" y="489.90" width="8.20" height="8.20" fill="#ee6464"/><rect x="552.20" y="489.90" width="8.20" height="8.20" fill="#ee6464"/><rect x="560.40" y="489.90" width="8.20" height="8.20" fill="#f06e6e"/><rect x="568.60" y="489.90" width="8.20" height="8.20" fill="#ee6464"/><rect x="576.80" y="489.90" width="8.20" height="8.20" fill="#f06e6e"/><rect x="585.00" y="489.90" width="8.20" height="8.20" fill="#f27e7e"/><rect x="593.20" y="489.90" width="8.20" height="8.20" fill="#f06e6e"/><rect x="601.40" y="489.90" width="8.20" height="8.20" fill="#ee6464"/><rect x="609.60" y="489.90" width="8.20" height="8.20" fill="#f06e6e"/><rect x="617.80" y="489.90" width="8.20" height="8.20" fill="#babee4"/><rect x="626.00" y="489.90" width="8.20" height="8.20" fill="#c8cbe9"/><rect x="634.20" y="489.90" width="8.20" height="8.20" fill="#7f89ca"/><rect x="642.40" y="489.90" width="8.20" height="8.20" fill="#4c61b3"/><rect x="650.60" y="489.90" width="8.20" height="8.20" fill="#707cc4"/><rect x="658.80" y="489.90" width="8.20" height="8.20" fill="#5e6fbb"/><rect x="519.40" y="498.10" width="8.20" height="8.20" fill="#fef2f2"/><rect x="527.60" y="498.10" width="8.20" height="8.20" fill="#fbcbc9"/><rect x="535.80" y="498.10" width="8.20" height="8.20" fill="#f06e6e"/><rect x="544.00" y="498.10" width="8.20" height="8.20" fill="#f06e6e"/><rect x="552.20" y="498.10" width="8.20" height="8.20" fill="#fcd8d7"/><rect x="560.40" y="498.10" width="8.20" height="8.20" fill="#f06e6e"/><rect x="568.60" y="498.10" width="8.20" height="8.20" fill="#f06e6e"/><rect x="576.80" y="498.10" width="8.20" height="8.20" fill="#ee6464"/><rect x="585.00" y="498.10" width="8.20" height="8.20" fill="#f06e6e"/><rect x="593.20" y="498.10" width="8.20" height="8.20" fill="#f1f2fa"/><rect x="601.40" y="498.10" width="8.20" height="8.20" fill="#fef8f8"/><rect x="609.60" y="498.10" width="8.20" height="8.20" fill="#f06e6e"/><rect x="617.80" y="498.10" width="8.20" height="8.20" fill="#4c61b3"/><rect x="626.00" y="498.10" width="8.20" height="8.20" fill="#d6d8ef"/><rect x="634.20" y="498.10" width="8.20" height="8.20" fill="#c8cbe9"/><rect x="642.40" y="498.10" width="8.20" height="8.20" fill="#fef8f8"/><rect x="650.60" y="498.10" width="8.20" height="8.20" fill="#babee4"/><rect x="658.80" y="498.10" width="8.20" height="8.20" fill="#c8cbe9"/></g>
<text x="517.0" y="463.5" font-size="6.6" text-anchor="end" fill="#1a1a1a">CT1</text>
<text x="517.0" y="471.7" font-size="6.6" text-anchor="end" fill="#1a1a1a">CT2</text>
<text x="517.0" y="479.9" font-size="6.6" text-anchor="end" fill="#1a1a1a">CT3</text>
<text x="517.0" y="488.1" font-size="6.6" text-anchor="end" fill="#1a1a1a">PS1</text>
<text x="517.0" y="496.3" font-size="6.6" text-anchor="end" fill="#1a1a1a">PS2</text>
<text x="517.0" y="504.5" font-size="6.6" text-anchor="end" fill="#1a1a1a">PS3</text>
<line x1="523.50" y1="506.3" x2="523.50" y2="508.7" stroke="#444" stroke-width="0.5"/>
<text x="525.70" y="512.6" font-size="6.6" text-anchor="end" font-style="italic" fill="#1a1a1a" transform="rotate(-90 525.70 512.6)">Fcer1a</text>
<line x1="531.70" y1="506.3" x2="531.70" y2="508.7" stroke="#444" stroke-width="0.5"/>
<text x="533.90" y="512.6" font-size="6.6" text-anchor="end" font-style="italic" fill="#1a1a1a" transform="rotate(-90 533.90 512.6)">Cpa3</text>
<line x1="539.90" y1="506.3" x2="539.90" y2="508.7" stroke="#444" stroke-width="0.5"/>
<text x="542.10" y="512.6" font-size="6.6" text-anchor="end" font-style="italic" fill="#1a1a1a" transform="rotate(-90 542.10 512.6)">Csf1</text>
<line x1="548.10" y1="506.3" x2="548.10" y2="508.7" stroke="#444" stroke-width="0.5"/>
<text x="550.30" y="512.6" font-size="6.6" text-anchor="end" font-style="italic" fill="#1a1a1a" transform="rotate(-90 550.30 512.6)">Hdc</text>
<line x1="556.30" y1="506.3" x2="556.30" y2="508.7" stroke="#444" stroke-width="0.5"/>
<text x="558.50" y="512.6" font-size="6.6" text-anchor="end" font-style="italic" fill="#1a1a1a" transform="rotate(-90 558.50 512.6)">Il1rl1</text>
<line x1="564.50" y1="506.3" x2="564.50" y2="508.7" stroke="#444" stroke-width="0.5"/>
<text x="566.70" y="512.6" font-size="6.6" text-anchor="end" font-style="italic" fill="#1a1a1a" transform="rotate(-90 566.70 512.6)">Il7r</text>
<line x1="572.70" y1="506.3" x2="572.70" y2="508.7" stroke="#444" stroke-width="0.5"/>
<text x="574.90" y="512.6" font-size="6.6" text-anchor="end" font-style="italic" fill="#1a1a1a" transform="rotate(-90 574.90 512.6)">Ly6a</text>
<line x1="580.90" y1="506.3" x2="580.90" y2="508.7" stroke="#444" stroke-width="0.5"/>
<text x="583.10" y="512.6" font-size="6.6" text-anchor="end" font-style="italic" fill="#1a1a1a" transform="rotate(-90 583.10 512.6)">Mcpt8</text>
<line x1="589.10" y1="506.3" x2="589.10" y2="508.7" stroke="#444" stroke-width="0.5"/>
<text x="591.30" y="512.6" font-size="6.6" text-anchor="end" font-style="italic" fill="#1a1a1a" transform="rotate(-90 591.30 512.6)">S100a6</text>
<line x1="597.30" y1="506.3" x2="597.30" y2="508.7" stroke="#444" stroke-width="0.5"/>
<text x="599.50" y="512.6" font-size="6.6" text-anchor="end" font-style="italic" fill="#1a1a1a" transform="rotate(-90 599.50 512.6)">Tpsab1</text>
<line x1="605.50" y1="506.3" x2="605.50" y2="508.7" stroke="#444" stroke-width="0.5"/>
<text x="607.70" y="512.6" font-size="6.6" text-anchor="end" font-style="italic" fill="#1a1a1a" transform="rotate(-90 607.70 512.6)">Tpsb2</text>
<line x1="613.70" y1="506.3" x2="613.70" y2="508.7" stroke="#444" stroke-width="0.5"/>
<text x="615.90" y="512.6" font-size="6.6" text-anchor="end" font-style="italic" fill="#1a1a1a" transform="rotate(-90 615.90 512.6)">Vegfc</text>
<line x1="621.90" y1="506.3" x2="621.90" y2="508.7" stroke="#444" stroke-width="0.5"/>
<text x="624.10" y="512.6" font-size="6.6" text-anchor="end" font-style="italic" fill="#1a1a1a" transform="rotate(-90 624.10 512.6)">Nrep</text>
<line x1="630.10" y1="506.3" x2="630.10" y2="508.7" stroke="#444" stroke-width="0.5"/>
<text x="632.30" y="512.6" font-size="6.6" text-anchor="end" font-style="italic" fill="#1a1a1a" transform="rotate(-90 632.30 512.6)">Il2ra</text>
<line x1="638.30" y1="506.3" x2="638.30" y2="508.7" stroke="#444" stroke-width="0.5"/>
<text x="640.50" y="512.6" font-size="6.6" text-anchor="end" font-style="italic" fill="#1a1a1a" transform="rotate(-90 640.50 512.6)">Cx3cr1</text>
<line x1="646.50" y1="506.3" x2="646.50" y2="508.7" stroke="#444" stroke-width="0.5"/>
<text x="648.70" y="512.6" font-size="6.6" text-anchor="end" font-style="italic" fill="#1a1a1a" transform="rotate(-90 648.70 512.6)">Adrb2</text>
<line x1="654.70" y1="506.3" x2="654.70" y2="508.7" stroke="#444" stroke-width="0.5"/>
<text x="656.90" y="512.6" font-size="6.6" text-anchor="end" font-style="italic" fill="#1a1a1a" transform="rotate(-90 656.90 512.6)">Apoe</text>
<line x1="662.90" y1="506.3" x2="662.90" y2="508.7" stroke="#444" stroke-width="0.5"/>
<text x="665.10" y="512.6" font-size="6.6" text-anchor="end" font-style="italic" fill="#1a1a1a" transform="rotate(-90 665.10 512.6)">Cebpa</text>
<text x="592.6" y="452.5" font-size="6.6" text-anchor="middle" fill="#1a1a1a">Maturation</text>
<g stroke="#222" stroke-width="0.45"><rect x="358.00" y="550.30" width="8.21" height="8.20" fill="#d6d8ef"/><rect x="366.21" y="550.30" width="8.21" height="8.20" fill="#abb1de"/><rect x="374.42" y="550.30" width="8.21" height="8.20" fill="#abb1de"/><rect x="382.63" y="550.30" width="8.21" height="8.20" fill="#babee4"/><rect x="390.84" y="550.30" width="8.21" height="8.20" fill="#abb1de"/><rect x="399.05" y="550.30" width="8.21" height="8.20" fill="#e3e5f4"/><rect x="407.26" y="550.30" width="8.21" height="8.20" fill="#fbcbc9"/><rect x="415.47" y="550.30" width="8.21" height="8.20" fill="#8e96d1"/><rect x="423.68" y="550.30" width="8.21" height="8.20" fill="#9ca4d7"/><rect x="431.89" y="550.30" width="8.21" height="8.20" fill="#9ca4d7"/><rect x="440.10" y="550.30" width="8.21" height="8.20" fill="#8e96d1"/><rect x="448.31" y="550.30" width="8.21" height="8.20" fill="#abb1de"/><rect x="456.52" y="550.30" width="8.21" height="8.20" fill="#babee4"/><rect x="464.73" y="550.30" width="8.21" height="8.20" fill="#abb1de"/><rect x="472.94" y="550.30" width="8.21" height="8.20" fill="#5568b7"/><rect x="481.15" y="550.30" width="8.21" height="8.20" fill="#abb1de"/><rect x="489.36" y="550.30" width="8.21" height="8.20" fill="#9ca4d7"/><rect x="497.57" y="550.30" width="8.21" height="8.20" fill="#d6d8ef"/><rect x="505.78" y="550.30" width="8.21" height="8.20" fill="#7f89ca"/><rect x="513.99" y="550.30" width="8.21" height="8.20" fill="#8e96d1"/><rect x="522.20" y="550.30" width="8.21" height="8.20" fill="#8e96d1"/><rect x="530.41" y="550.30" width="8.21" height="8.20" fill="#f8aeac"/><rect x="538.62" y="550.30" width="8.21" height="8.20" fill="#fabebc"/><rect x="546.83" y="550.30" width="8.21" height="8.20" fill="#fabebc"/><rect x="555.04" y="550.30" width="8.21" height="8.20" fill="#f69e9d"/><rect x="563.25" y="550.30" width="8.21" height="8.20" fill="#e74647"/><rect x="358.00" y="558.50" width="8.21" height="8.20" fill="#c8cbe9"/><rect x="366.21" y="558.50" width="8.21" height="8.20" fill="#f1f2fa"/><rect x="374.42" y="558.50" width="8.21" height="8.20" fill="#abb1de"/><rect x="382.63" y="558.50" width="8.21" height="8.20" fill="#9ca4d7"/><rect x="390.84" y="558.50" width="8.21" height="8.20" fill="#9ca4d7"/><rect x="399.05" y="558.50" width="8.21" height="8.20" fill="#707cc4"/><rect x="407.26" y="558.50" width="8.21" height="8.20" fill="#8e96d1"/><rect x="415.47" y="558.50" width="8.21" height="8.20" fill="#abb1de"/><rect x="423.68" y="558.50" width="8.21" height="8.20" fill="#e3e5f4"/><rect x="431.89" y="558.50" width="8.21" height="8.20" fill="#9ca4d7"/><rect x="440.10" y="558.50" width="8.21" height="8.20" fill="#7f89ca"/><rect x="448.31" y="558.50" width="8.21" height="8.20" fill="#abb1de"/><rect x="456.52" y="558.50" width="8.21" height="8.20" fill="#9ca4d7"/><rect x="464.73" y="558.50" width="8.21" height="8.20" fill="#9ca4d7"/><rect x="472.94" y="558.50" width="8.21" height="8.20" fill="#9ca4d7"/><rect x="481.15" y="558.50" width="8.21" height="8.20" fill="#9ca4d7"/><rect x="489.36" y="558.50" width="8.21" height="8.20" fill="#7f89ca"/><rect x="497.57" y="558.50" width="8.21" height="8.20" fill="#9ca4d7"/><rect x="505.78" y="558.50" width="8.21" height="8.20" fill="#9ca4d7"/><rect x="513.99" y="558.50" width="8.21" height="8.20" fill="#9ca4d7"/><rect x="522.20" y="558.50" width="8.21" height="8.20" fill="#9ca4d7"/><rect x="530.41" y="558.50" width="8.21" height="8.20" fill="#f27e7e"/><rect x="538.62" y="558.50" width="8.21" height="8.20" fill="#f27e7e"/><rect x="546.83" y="558.50" width="8.21" height="8.20" fill="#f48e8d"/><rect x="555.04" y="558.50" width="8.21" height="8.20" fill="#ee6464"/><rect x="563.25" y="558.50" width="8.21" height="8.20" fill="#f27e7e"/><rect x="358.00" y="566.70" width="8.21" height="8.20" fill="#9ca4d7"/><rect x="366.21" y="566.70" width="8.21" height="8.20" fill="#c8cbe9"/><rect x="374.42" y="566.70" width="8.21" height="8.20" fill="#babee4"/><rect x="382.63" y="566.70" width="8.21" height="8.20" fill="#c8cbe9"/><rect x="390.84" y="566.70" width="8.21" height="8.20" fill="#e3e5f4"/><rect x="399.05" y="566.70" width="8.21" height="8.20" fill="#e3e5f4"/><rect x="407.26" y="566.70" width="8.21" height="8.20" fill="#babee4"/><rect x="415.47" y="566.70" width="8.21" height="8.20" fill="#feeceb"/><rect x="423.68" y="566.70" width="8.21" height="8.20" fill="#f8f8fc"/><rect x="431.89" y="566.70" width="8.21" height="8.20" fill="#ffffff"/><rect x="440.10" y="566.70" width="8.21" height="8.20" fill="#e3e5f4"/><rect x="448.31" y="566.70" width="8.21" height="8.20" fill="#ffffff"/><rect x="456.52" y="566.70" width="8.21" height="8.20" fill="#f1f2fa"/><rect x="464.73" y="566.70" width="8.21" height="8.20" fill="#e3e5f4"/><rect x="472.94" y="566.70" width="8.21" height="8.20" fill="#fde5e4"/><rect x="481.15" y="566.70" width="8.21" height="8.20" fill="#d6d8ef"/><rect x="489.36" y="566.70" width="8.21" height="8.20" fill="#e3e5f4"/><rect x="497.57" y="566.70" width="8.21" height="8.20" fill="#fef2f2"/><rect x="505.78" y="566.70" width="8.21" height="8.20" fill="#ffffff"/><rect x="513.99" y="566.70" width="8.21" height="8.20" fill="#e3e5f4"/><rect x="522.20" y="566.70" width="8.21" height="8.20" fill="#e3e5f4"/><rect x="530.41" y="566.70" width="8.21" height="8.20" fill="#f48e8d"/><rect x="538.62" y="566.70" width="8.21" height="8.20" fill="#f69e9d"/><rect x="546.83" y="566.70" width="8.21" height="8.20" fill="#fabebc"/><rect x="555.04" y="566.70" width="8.21" height="8.20" fill="#fabebc"/><rect x="563.25" y="566.70" width="8.21" height="8.20" fill="#ffffff"/><rect x="358.00" y="574.90" width="8.21" height="8.20" fill="#f69e9d"/><rect x="366.21" y="574.90" width="8.21" height="8.20" fill="#f8aeac"/><rect x="374.42" y="574.90" width="8.21" height="8.20" fill="#ee6464"/><rect x="382.63" y="574.90" width="8.21" height="8.20" fill="#f06e6e"/><rect x="390.84" y="574.90" width="8.21" height="8.20" fill="#fabebc"/><rect x="399.05" y="574.90" width="8.21" height="8.20" fill="#fabebc"/><rect x="407.26" y="574.90" width="8.21" height="8.20" fill="#fabebc"/><rect x="415.47" y="574.90" width="8.21" height="8.20" fill="#fabebc"/><rect x="423.68" y="574.90" width="8.21" height="8.20" fill="#fbcbc9"/><rect x="431.89" y="574.90" width="8.21" height="8.20" fill="#f8aeac"/><rect x="440.10" y="574.90" width="8.21" height="8.20" fill="#f69e9d"/><rect x="448.31" y="574.90" width="8.21" height="8.20" fill="#fabebc"/><rect x="456.52" y="574.90" width="8.21" height="8.20" fill="#f8aeac"/><rect x="464.73" y="574.90" width="8.21" height="8.20" fill="#f8aeac"/><rect x="472.94" y="574.90" width="8.21" height="8.20" fill="#fbcbc9"/><rect x="481.15" y="574.90" width="8.21" height="8.20" fill="#f48e8d"/><rect x="489.36" y="574.90" width="8.21" height="8.20" fill="#f8aeac"/><rect x="497.57" y="574.90" width="8.21" height="8.20" fill="#fcd8d7"/><rect x="505.78" y="574.90" width="8.21" height="8.20" fill="#f8aeac"/><rect x="513.99" y="574.90" width="8.21" height="8.20" fill="#f69e9d"/><rect x="522.20" y="574.90" width="8.21" height="8.20" fill="#f8aeac"/><rect x="530.41" y="574.90" width="8.21" height="8.20" fill="#fef2f2"/><rect x="538.62" y="574.90" width="8.21" height="8.20" fill="#c8cbe9"/><rect x="546.83" y="574.90" width="8.21" height="8.20" fill="#ffffff"/><rect x="555.04" y="574.90" width="8.21" height="8.20" fill="#ffffff"/><rect x="563.25" y="574.90" width="8.21" height="8.20" fill="#c8cbe9"/><rect x="358.00" y="583.10" width="8.21" height="8.20" fill="#ee6464"/><rect x="366.21" y="583.10" width="8.21" height="8.20" fill="#f06e6e"/><rect x="374.42" y="583.10" width="8.21" height="8.20" fill="#ee6464"/><rect x="382.63" y="583.10" width="8.21" height="8.20" fill="#f06e6e"/><rect x="390.84" y="583.10" width="8.21" height="8.20" fill="#f8aeac"/><rect x="399.05" y="583.10" width="8.21" height="8.20" fill="#f48e8d"/><rect x="407.26" y="583.10" width="8.21" height="8.20" fill="#f69e9d"/><rect x="415.47" y="583.10" width="8.21" height="8.20" fill="#fabebc"/><rect x="423.68" y="583.10" width="8.21" height="8.20" fill="#f8aeac"/><rect x="431.89" y="583.10" width="8.21" height="8.20" fill="#fbcbc9"/><rect x="440.10" y="583.10" width="8.21" height="8.20" fill="#f48e8d"/><rect x="448.31" y="583.10" width="8.21" height="8.20" fill="#f69e9d"/><rect x="456.52" y="583.10" width="8.21" height="8.20" fill="#f8aeac"/><rect x="464.73" y="583.10" width="8.21" height="8.20" fill="#fabebc"/><rect x="472.94" y="583.10" width="8.21" height="8.20" fill="#fbcbc9"/><rect x="481.15" y="583.10" width="8.21" height="8.20" fill="#f69e9d"/><rect x="489.36" y="583.10" width="8.21" height="8.20" fill="#f48e8d"/><rect x="497.57" y="583.10" width="8.21" height="8.20" fill="#fabebc"/><rect x="505.78" y="583.10" width="8.21" height="8.20" fill="#f8aeac"/><rect x="513.99" y="583.10" width="8.21" height="8.20" fill="#f8aeac"/><rect x="522.20" y="583.10" width="8.21" height="8.20" fill="#f8aeac"/><rect x="530.41" y="583.10" width="8.21" height="8.20" fill="#babee4"/><rect x="538.62" y="583.10" width="8.21" height="8.20" fill="#d6d8ef"/><rect x="546.83" y="583.10" width="8.21" height="8.20" fill="#e3e5f4"/><rect x="555.04" y="583.10" width="8.21" height="8.20" fill="#e3e5f4"/><rect x="563.25" y="583.10" width="8.21" height="8.20" fill="#fde5e4"/><rect x="358.00" y="591.30" width="8.21" height="8.20" fill="#ffffff"/><rect x="366.21" y="591.30" width="8.21" height="8.20" fill="#fde5e4"/><rect x="374.42" y="591.30" width="8.21" height="8.20" fill="#f8f8fc"/><rect x="382.63" y="591.30" width="8.21" height="8.20" fill="#fabebc"/><rect x="390.84" y="591.30" width="8.21" height="8.20" fill="#f8aeac"/><rect x="399.05" y="591.30" width="8.21" height="8.20" fill="#f69e9d"/><rect x="407.26" y="591.30" width="8.21" height="8.20" fill="#fde5e4"/><rect x="415.47" y="591.30" width="8.21" height="8.20" fill="#f69e9d"/><rect x="423.68" y="591.30" width="8.21" height="8.20" fill="#f8aeac"/><rect x="431.89" y="591.30" width="8.21" height="8.20" fill="#f8aeac"/><rect x="440.10" y="591.30" width="8.21" height="8.20" fill="#f69e9d"/><rect x="448.31" y="591.30" width="8.21" height="8.20" fill="#e3e5f4"/><rect x="456.52" y="591.30" width="8.21" height="8.20" fill="#fabebc"/><rect x="464.73" y="591.30" width="8.21" height="8.20" fill="#fabebc"/><rect x="472.94" y="591.30" width="8.21" height="8.20" fill="#fabebc"/><rect x="481.15" y="591.30" width="8.21" height="8.20" fill="#fabebc"/><rect x="489.36" y="591.30" width="8.21" height="8.20" fill="#f69e9d"/><rect x="497.57" y="591.30" width="8.21" height="8.20" fill="#fabebc"/><rect x="505.78" y="591.30" width="8.21" height="8.20" fill="#fabebc"/><rect x="513.99" y="591.30" width="8.21" height="8.20" fill="#fabebc"/><rect x="522.20" y="591.30" width="8.21" height="8.20" fill="#fabebc"/><rect x="530.41" y="591.30" width="8.21" height="8.20" fill="#fde5e4"/><rect x="538.62" y="591.30" width="8.21" height="8.20" fill="#fde5e4"/><rect x="546.83" y="591.30" width="8.21" height="8.20" fill="#fcd8d7"/><rect x="555.04" y="591.30" width="8.21" height="8.20" fill="#ffffff"/><rect x="563.25" y="591.30" width="8.21" height="8.20" fill="#5e6fbb"/></g>
<text x="355.6" y="556.7" font-size="6.6" text-anchor="end" fill="#1a1a1a">CT1</text>
<text x="355.6" y="564.9" font-size="6.6" text-anchor="end" fill="#1a1a1a">CT2</text>
<text x="355.6" y="573.1" font-size="6.6" text-anchor="end" fill="#1a1a1a">CT3</text>
<text x="355.6" y="581.3" font-size="6.6" text-anchor="end" fill="#1a1a1a">PS1</text>
<text x="355.6" y="589.5" font-size="6.6" text-anchor="end" fill="#1a1a1a">PS2</text>
<text x="355.6" y="597.7" font-size="6.6" text-anchor="end" fill="#1a1a1a">PS3</text>
<line x1="362.11" y1="599.5" x2="362.11" y2="601.9" stroke="#444" stroke-width="0.5"/>
<text x="364.31" y="605.8" font-size="6.6" text-anchor="end" font-style="italic" fill="#1a1a1a" transform="rotate(-90 364.31 605.8)">Cttnbp2</text>
<line x1="370.31" y1="599.5" x2="370.31" y2="601.9" stroke="#444" stroke-width="0.5"/>
<text x="372.51" y="605.8" font-size="6.6" text-anchor="end" font-style="italic" fill="#1a1a1a" transform="rotate(-90 372.51 605.8)">Shc4</text>
<line x1="378.53" y1="599.5" x2="378.53" y2="601.9" stroke="#444" stroke-width="0.5"/>
<text x="380.73" y="605.8" font-size="6.6" text-anchor="end" font-style="italic" fill="#1a1a1a" transform="rotate(-90 380.73 605.8)">Fcer1a</text>
<line x1="386.74" y1="599.5" x2="386.74" y2="601.9" stroke="#444" stroke-width="0.5"/>
<text x="388.94" y="605.8" font-size="6.6" text-anchor="end" font-style="italic" fill="#1a1a1a" transform="rotate(-90 388.94 605.8)">Csf2</text>
<line x1="394.95" y1="599.5" x2="394.95" y2="601.9" stroke="#444" stroke-width="0.5"/>
<text x="397.15" y="605.8" font-size="6.6" text-anchor="end" font-style="italic" fill="#1a1a1a" transform="rotate(-90 397.15 605.8)">Nmb</text>
<line x1="403.16" y1="599.5" x2="403.16" y2="601.9" stroke="#444" stroke-width="0.5"/>
<text x="405.36" y="605.8" font-size="6.6" text-anchor="end" font-style="italic" fill="#1a1a1a" transform="rotate(-90 405.36 605.8)">Areg</text>
<line x1="411.37" y1="599.5" x2="411.37" y2="601.9" stroke="#444" stroke-width="0.5"/>
<text x="413.56" y="605.8" font-size="6.6" text-anchor="end" font-style="italic" fill="#1a1a1a" transform="rotate(-90 413.56 605.8)">Runx2</text>
<line x1="419.58" y1="599.5" x2="419.58" y2="601.9" stroke="#444" stroke-width="0.5"/>
<text x="421.78" y="605.8" font-size="6.6" text-anchor="end" font-style="italic" fill="#1a1a1a" transform="rotate(-90 421.78 605.8)">Maff</text>
<line x1="427.79" y1="599.5" x2="427.79" y2="601.9" stroke="#444" stroke-width="0.5"/>
<text x="429.99" y="605.8" font-size="6.6" text-anchor="end" font-style="italic" fill="#1a1a1a" transform="rotate(-90 429.99 605.8)">S100a10</text>
<line x1="436.00" y1="599.5" x2="436.00" y2="601.9" stroke="#444" stroke-width="0.5"/>
<text x="438.19" y="605.8" font-size="6.6" text-anchor="end" font-style="italic" fill="#1a1a1a" transform="rotate(-90 438.19 605.8)">Egr2</text>
<line x1="444.21" y1="599.5" x2="444.21" y2="601.9" stroke="#444" stroke-width="0.5"/>
<text x="446.41" y="605.8" font-size="6.6" text-anchor="end" font-style="italic" fill="#1a1a1a" transform="rotate(-90 446.41 605.8)">Tac1</text>
<line x1="452.42" y1="599.5" x2="452.42" y2="601.9" stroke="#444" stroke-width="0.5"/>
<text x="454.62" y="605.8" font-size="6.6" text-anchor="end" font-style="italic" fill="#1a1a1a" transform="rotate(-90 454.62 605.8)">Vegfa</text>
<line x1="460.62" y1="599.5" x2="460.62" y2="601.9" stroke="#444" stroke-width="0.5"/>
<text x="462.82" y="605.8" font-size="6.6" text-anchor="end" font-style="italic" fill="#1a1a1a" transform="rotate(-90 462.82 605.8)">S100a11</text>
<line x1="468.84" y1="599.5" x2="468.84" y2="601.9" stroke="#444" stroke-width="0.5"/>
<text x="471.04" y="605.8" font-size="6.6" text-anchor="end" font-style="italic" fill="#1a1a1a" transform="rotate(-90 471.04 605.8)">Il4</text>
<line x1="477.05" y1="599.5" x2="477.05" y2="601.9" stroke="#444" stroke-width="0.5"/>
<text x="479.25" y="605.8" font-size="6.6" text-anchor="end" font-style="italic" fill="#1a1a1a" transform="rotate(-90 479.25 605.8)">Gadd45b</text>
<line x1="485.25" y1="599.5" x2="485.25" y2="601.9" stroke="#444" stroke-width="0.5"/>
<text x="487.45" y="605.8" font-size="6.6" text-anchor="end" font-style="italic" fill="#1a1a1a" transform="rotate(-90 487.45 605.8)">Mrgprb2</text>
<line x1="493.47" y1="599.5" x2="493.47" y2="601.9" stroke="#444" stroke-width="0.5"/>
<text x="495.67" y="605.8" font-size="6.6" text-anchor="end" font-style="italic" fill="#1a1a1a" transform="rotate(-90 495.67 605.8)">Ncdn</text>
<line x1="501.68" y1="599.5" x2="501.68" y2="601.9" stroke="#444" stroke-width="0.5"/>
<text x="503.88" y="605.8" font-size="6.6" text-anchor="end" font-style="italic" fill="#1a1a1a" transform="rotate(-90 503.88 605.8)">Erg</text>
<line x1="509.89" y1="599.5" x2="509.89" y2="601.9" stroke="#444" stroke-width="0.5"/>
<text x="512.09" y="605.8" font-size="6.6" text-anchor="end" font-style="italic" fill="#1a1a1a" transform="rotate(-90 512.09 605.8)">Tgfb1</text>
<line x1="518.10" y1="599.5" x2="518.10" y2="601.9" stroke="#444" stroke-width="0.5"/>
<text x="520.30" y="605.8" font-size="6.6" text-anchor="end" font-style="italic" fill="#1a1a1a" transform="rotate(-90 520.30 605.8)">Egr3</text>
<line x1="526.31" y1="599.5" x2="526.31" y2="601.9" stroke="#444" stroke-width="0.5"/>
<text x="528.51" y="605.8" font-size="6.6" text-anchor="end" font-style="italic" fill="#1a1a1a" transform="rotate(-90 528.51 605.8)">Ramp1</text>
<line x1="534.52" y1="599.5" x2="534.52" y2="601.9" stroke="#444" stroke-width="0.5"/>
<text x="536.72" y="605.8" font-size="6.6" text-anchor="end" font-style="italic" fill="#1a1a1a" transform="rotate(-90 536.72 605.8)">Adrb2</text>
<line x1="542.73" y1="599.5" x2="542.73" y2="601.9" stroke="#444" stroke-width="0.5"/>
<text x="544.93" y="605.8" font-size="6.6" text-anchor="end" font-style="italic" fill="#1a1a1a" transform="rotate(-90 544.93 605.8)">Cebpa</text>
<line x1="550.94" y1="599.5" x2="550.94" y2="601.9" stroke="#444" stroke-width="0.5"/>
<text x="553.14" y="605.8" font-size="6.6" text-anchor="end" font-style="italic" fill="#1a1a1a" transform="rotate(-90 553.14 605.8)">Tlr4</text>
<line x1="559.14" y1="599.5" x2="559.14" y2="601.9" stroke="#444" stroke-width="0.5"/>
<text x="561.35" y="605.8" font-size="6.6" text-anchor="end" font-style="italic" fill="#1a1a1a" transform="rotate(-90 561.35 605.8)">Mcm5</text>
<line x1="567.36" y1="599.5" x2="567.36" y2="601.9" stroke="#444" stroke-width="0.5"/>
<text x="569.56" y="605.8" font-size="6.6" text-anchor="end" font-style="italic" fill="#1a1a1a" transform="rotate(-90 569.56 605.8)">Scin</text>
<text x="464.5" y="545.7" font-size="6.6" text-anchor="middle" fill="#1a1a1a">Activation</text>
<defs><linearGradient id="cbK" x1="0" y1="0" x2="0" y2="1"><stop offset="0.000" stop-color="#e23234"/><stop offset="0.188" stop-color="#f06e6e"/><stop offset="0.344" stop-color="#fabebc"/><stop offset="0.500" stop-color="#ffffff"/><stop offset="0.656" stop-color="#babee4"/><stop offset="0.812" stop-color="#707cc4"/><stop offset="1.000" stop-color="#3a54aa"/></linearGradient></defs>
<rect x="593.5" y="570.2" width="7.7" height="34.1" fill="url(#cbK)" stroke="#222" stroke-width="0.5"/>
<line x1="593.5" y1="578.5" x2="594.8" y2="578.5" stroke="#222" stroke-width="0.4"/>
<line x1="599.9" y1="578.5" x2="601.2" y2="578.5" stroke="#222" stroke-width="0.4"/>
<text x="603.4" y="580.9" font-size="6.6" fill="#1a1a1a">1</text>
<line x1="593.5" y1="588.4" x2="594.8" y2="588.4" stroke="#222" stroke-width="0.4"/>
<line x1="599.9" y1="588.4" x2="601.2" y2="588.4" stroke="#222" stroke-width="0.4"/>
<text x="603.4" y="590.8" font-size="6.6" fill="#1a1a1a">0</text>
<line x1="593.5" y1="598.7" x2="594.8" y2="598.7" stroke="#222" stroke-width="0.4"/>
<line x1="599.9" y1="598.7" x2="601.2" y2="598.7" stroke="#222" stroke-width="0.4"/>
<text x="603.4" y="601.1" font-size="6.6" fill="#1a1a1a">−1</text>
<text x="596.8" y="558" font-size="6.6" text-anchor="middle" fill="#1a1a1a">Expression</text>
<text x="596.8" y="565.8" font-size="6.6" text-anchor="middle" fill="#1a1a1a"><tspan font-style="italic">z</tspan>-score</text>
</g>
</svg>
</body></html>
